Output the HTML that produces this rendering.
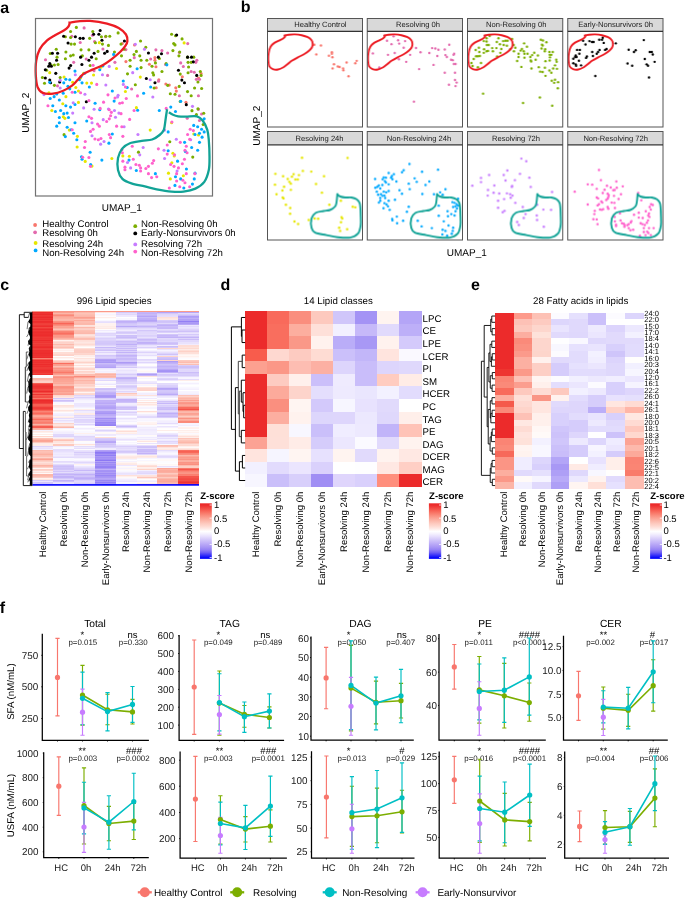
<!DOCTYPE html>
<html><head><meta charset="utf-8"><title>Figure</title>
<style>html,body{margin:0;padding:0;background:#fff;overflow:hidden;width:685px;height:898px;} svg{display:block;will-change:transform;} text{font-family:"Liberation Sans", sans-serif; text-rendering:geometricPrecision;}</style>
</head><body>
<svg width="685" height="898" viewBox="0 0 685 898">
<rect x="0" y="0" width="685" height="898" fill="#fff"/>
<text x="0.20" y="13.40" font-size="16" font-weight="bold">a</text>
<text x="240.80" y="12.40" font-size="16" font-weight="bold">b</text>
<text x="0.20" y="290.20" font-size="16" font-weight="bold">c</text>
<text x="220.60" y="290.20" font-size="16" font-weight="bold">d</text>
<text x="471.00" y="290.20" font-size="16" font-weight="bold">e</text>
<text x="-0.20" y="612.80" font-size="16" font-weight="bold">f</text>
<g id="panel-a">
<circle cx="122.29" cy="43.58" r="1.55" fill="#F8766D"/>
<circle cx="134.55" cy="44.88" r="1.55" fill="#F8766D"/>
<circle cx="125.94" cy="61.59" r="1.55" fill="#F8766D"/>
<circle cx="149.43" cy="64.20" r="1.55" fill="#F8766D"/>
<circle cx="154.91" cy="57.67" r="1.55" fill="#F8766D"/>
<circle cx="154.91" cy="60.28" r="1.55" fill="#F8766D"/>
<circle cx="155.95" cy="66.81" r="1.55" fill="#F8766D"/>
<circle cx="158.82" cy="79.86" r="1.55" fill="#F8766D"/>
<circle cx="156.21" cy="87.69" r="1.55" fill="#F8766D"/>
<circle cx="165.87" cy="84.03" r="1.55" fill="#F8766D"/>
<circle cx="169.26" cy="85.08" r="1.55" fill="#F8766D"/>
<circle cx="175.79" cy="87.69" r="1.55" fill="#F8766D"/>
<circle cx="176.31" cy="91.08" r="1.55" fill="#F8766D"/>
<circle cx="182.31" cy="76.72" r="1.55" fill="#F8766D"/>
<circle cx="185.97" cy="102.30" r="1.55" fill="#F8766D"/>
<circle cx="198.50" cy="78.03" r="1.55" fill="#F8766D"/>
<circle cx="201.11" cy="73.59" r="1.55" fill="#F8766D"/>
<circle cx="84.12" cy="27.92" r="1.55" fill="#E36AAE"/>
<circle cx="71.86" cy="36.27" r="1.55" fill="#E36AAE"/>
<circle cx="92.48" cy="35.23" r="1.55" fill="#E36AAE"/>
<circle cx="105.53" cy="36.79" r="1.55" fill="#E36AAE"/>
<circle cx="80.21" cy="42.53" r="1.55" fill="#E36AAE"/>
<circle cx="94.56" cy="41.49" r="1.55" fill="#E36AAE"/>
<circle cx="102.92" cy="49.06" r="1.55" fill="#E36AAE"/>
<circle cx="45.50" cy="59.76" r="1.55" fill="#E36AAE"/>
<circle cx="73.68" cy="62.37" r="1.55" fill="#E36AAE"/>
<circle cx="86.21" cy="58.98" r="1.55" fill="#E36AAE"/>
<circle cx="94.04" cy="70.72" r="1.55" fill="#E36AAE"/>
<circle cx="57.50" cy="85.86" r="1.55" fill="#E36AAE"/>
<circle cx="107.61" cy="75.42" r="1.55" fill="#E36AAE"/>
<circle cx="114.92" cy="62.37" r="1.55" fill="#E36AAE"/>
<circle cx="125.88" cy="49.58" r="1.55" fill="#E36AAE"/>
<circle cx="134.23" cy="57.67" r="1.55" fill="#E36AAE"/>
<circle cx="131.62" cy="88.99" r="1.55" fill="#E36AAE"/>
<circle cx="150.68" cy="58.98" r="1.55" fill="#E36AAE"/>
<circle cx="155.90" cy="49.84" r="1.55" fill="#E36AAE"/>
<circle cx="161.90" cy="50.62" r="1.55" fill="#E36AAE"/>
<circle cx="167.64" cy="52.97" r="1.55" fill="#E36AAE"/>
<circle cx="165.55" cy="64.46" r="1.55" fill="#E36AAE"/>
<circle cx="158.51" cy="81.16" r="1.55" fill="#E36AAE"/>
<circle cx="179.39" cy="52.45" r="1.55" fill="#E36AAE"/>
<circle cx="180.69" cy="62.89" r="1.55" fill="#E36AAE"/>
<circle cx="183.30" cy="66.55" r="1.55" fill="#E36AAE"/>
<circle cx="187.74" cy="43.58" r="1.55" fill="#E36AAE"/>
<circle cx="196.87" cy="60.28" r="1.55" fill="#E36AAE"/>
<circle cx="195.83" cy="62.37" r="1.55" fill="#E36AAE"/>
<circle cx="191.13" cy="71.50" r="1.55" fill="#E36AAE"/>
<circle cx="194.26" cy="72.29" r="1.55" fill="#E36AAE"/>
<circle cx="196.35" cy="79.33" r="1.55" fill="#E36AAE"/>
<circle cx="199.48" cy="79.33" r="1.55" fill="#E36AAE"/>
<circle cx="179.39" cy="95.78" r="1.55" fill="#E36AAE"/>
<circle cx="198.44" cy="95.78" r="1.55" fill="#E36AAE"/>
<circle cx="198.44" cy="109.35" r="1.55" fill="#E36AAE"/>
<circle cx="201.57" cy="114.05" r="1.55" fill="#E36AAE"/>
<circle cx="187.22" cy="118.22" r="1.55" fill="#E36AAE"/>
<circle cx="199.48" cy="120.57" r="1.55" fill="#E36AAE"/>
<circle cx="121.97" cy="149.54" r="1.55" fill="#E36AAE"/>
<circle cx="76.35" cy="27.40" r="1.55" fill="#7CAE00"/>
<circle cx="70.61" cy="31.57" r="1.55" fill="#7CAE00"/>
<circle cx="92.79" cy="31.57" r="1.55" fill="#7CAE00"/>
<circle cx="65.39" cy="36.79" r="1.55" fill="#7CAE00"/>
<circle cx="70.61" cy="37.57" r="1.55" fill="#7CAE00"/>
<circle cx="89.66" cy="38.36" r="1.55" fill="#7CAE00"/>
<circle cx="101.41" cy="36.79" r="1.55" fill="#7CAE00"/>
<circle cx="105.84" cy="36.27" r="1.55" fill="#7CAE00"/>
<circle cx="109.76" cy="36.27" r="1.55" fill="#7CAE00"/>
<circle cx="71.13" cy="44.10" r="1.55" fill="#7CAE00"/>
<circle cx="74.52" cy="44.10" r="1.55" fill="#7CAE00"/>
<circle cx="95.40" cy="42.79" r="1.55" fill="#7CAE00"/>
<circle cx="102.45" cy="44.10" r="1.55" fill="#7CAE00"/>
<circle cx="108.45" cy="45.40" r="1.55" fill="#7CAE00"/>
<circle cx="56.25" cy="49.32" r="1.55" fill="#7CAE00"/>
<circle cx="50.25" cy="53.50" r="1.55" fill="#7CAE00"/>
<circle cx="65.91" cy="51.93" r="1.55" fill="#7CAE00"/>
<circle cx="70.61" cy="55.84" r="1.55" fill="#7CAE00"/>
<circle cx="73.22" cy="55.06" r="1.55" fill="#7CAE00"/>
<circle cx="81.05" cy="49.84" r="1.55" fill="#7CAE00"/>
<circle cx="88.88" cy="49.84" r="1.55" fill="#7CAE00"/>
<circle cx="98.01" cy="51.41" r="1.55" fill="#7CAE00"/>
<circle cx="82.35" cy="55.84" r="1.55" fill="#7CAE00"/>
<circle cx="57.04" cy="57.15" r="1.55" fill="#7CAE00"/>
<circle cx="65.39" cy="58.72" r="1.55" fill="#7CAE00"/>
<circle cx="96.19" cy="58.72" r="1.55" fill="#7CAE00"/>
<circle cx="51.03" cy="64.98" r="1.55" fill="#7CAE00"/>
<circle cx="54.43" cy="64.98" r="1.55" fill="#7CAE00"/>
<circle cx="58.08" cy="64.46" r="1.55" fill="#7CAE00"/>
<circle cx="46.60" cy="70.20" r="1.55" fill="#7CAE00"/>
<circle cx="90.18" cy="65.50" r="1.55" fill="#7CAE00"/>
<circle cx="42.42" cy="77.51" r="1.55" fill="#7CAE00"/>
<circle cx="60.17" cy="77.51" r="1.55" fill="#7CAE00"/>
<circle cx="44.51" cy="83.25" r="1.55" fill="#7CAE00"/>
<circle cx="54.43" cy="85.34" r="1.55" fill="#7CAE00"/>
<circle cx="118.11" cy="32.88" r="1.55" fill="#7CAE00"/>
<circle cx="120.98" cy="44.10" r="1.55" fill="#7CAE00"/>
<circle cx="124.11" cy="49.32" r="1.55" fill="#7CAE00"/>
<circle cx="114.46" cy="51.93" r="1.55" fill="#7CAE00"/>
<circle cx="121.50" cy="55.84" r="1.55" fill="#7CAE00"/>
<circle cx="140.55" cy="40.97" r="1.55" fill="#7CAE00"/>
<circle cx="145.77" cy="47.23" r="1.55" fill="#7CAE00"/>
<circle cx="136.38" cy="51.41" r="1.55" fill="#7CAE00"/>
<circle cx="134.03" cy="54.54" r="1.55" fill="#7CAE00"/>
<circle cx="139.77" cy="55.84" r="1.55" fill="#7CAE00"/>
<circle cx="130.11" cy="60.28" r="1.55" fill="#7CAE00"/>
<circle cx="141.08" cy="60.28" r="1.55" fill="#7CAE00"/>
<circle cx="146.82" cy="60.28" r="1.55" fill="#7CAE00"/>
<circle cx="130.11" cy="66.28" r="1.55" fill="#7CAE00"/>
<circle cx="141.08" cy="67.59" r="1.55" fill="#7CAE00"/>
<circle cx="127.51" cy="73.85" r="1.55" fill="#7CAE00"/>
<circle cx="135.33" cy="84.81" r="1.55" fill="#7CAE00"/>
<circle cx="159.35" cy="58.45" r="1.55" fill="#7CAE00"/>
<circle cx="155.43" cy="62.89" r="1.55" fill="#7CAE00"/>
<circle cx="152.04" cy="66.28" r="1.55" fill="#7CAE00"/>
<circle cx="152.82" cy="72.81" r="1.55" fill="#7CAE00"/>
<circle cx="153.60" cy="74.90" r="1.55" fill="#7CAE00"/>
<circle cx="161.96" cy="71.50" r="1.55" fill="#7CAE00"/>
<circle cx="166.13" cy="63.67" r="1.55" fill="#7CAE00"/>
<circle cx="154.13" cy="87.95" r="1.55" fill="#7CAE00"/>
<circle cx="171.61" cy="34.18" r="1.55" fill="#7CAE00"/>
<circle cx="175.53" cy="35.75" r="1.55" fill="#7CAE00"/>
<circle cx="182.05" cy="38.88" r="1.55" fill="#7CAE00"/>
<circle cx="173.70" cy="43.58" r="1.55" fill="#7CAE00"/>
<circle cx="175.01" cy="44.88" r="1.55" fill="#7CAE00"/>
<circle cx="172.92" cy="50.62" r="1.55" fill="#7CAE00"/>
<circle cx="179.70" cy="51.93" r="1.55" fill="#7CAE00"/>
<circle cx="178.92" cy="55.84" r="1.55" fill="#7CAE00"/>
<circle cx="187.53" cy="57.15" r="1.55" fill="#7CAE00"/>
<circle cx="193.80" cy="57.15" r="1.55" fill="#7CAE00"/>
<circle cx="188.06" cy="62.37" r="1.55" fill="#7CAE00"/>
<circle cx="191.19" cy="62.37" r="1.55" fill="#7CAE00"/>
<circle cx="188.58" cy="67.07" r="1.55" fill="#7CAE00"/>
<circle cx="180.23" cy="74.11" r="1.55" fill="#7CAE00"/>
<circle cx="188.06" cy="72.81" r="1.55" fill="#7CAE00"/>
<circle cx="200.32" cy="71.50" r="1.55" fill="#7CAE00"/>
<circle cx="201.11" cy="75.42" r="1.55" fill="#7CAE00"/>
<circle cx="197.97" cy="81.94" r="1.55" fill="#7CAE00"/>
<circle cx="167.70" cy="85.34" r="1.55" fill="#7CAE00"/>
<circle cx="179.18" cy="86.38" r="1.55" fill="#7CAE00"/>
<circle cx="194.58" cy="87.95" r="1.55" fill="#7CAE00"/>
<circle cx="201.63" cy="88.47" r="1.55" fill="#7CAE00"/>
<circle cx="170.31" cy="93.69" r="1.55" fill="#7CAE00"/>
<circle cx="175.01" cy="94.21" r="1.55" fill="#7CAE00"/>
<circle cx="187.53" cy="91.60" r="1.55" fill="#7CAE00"/>
<circle cx="191.19" cy="95.78" r="1.55" fill="#7CAE00"/>
<circle cx="180.23" cy="101.52" r="1.55" fill="#7CAE00"/>
<circle cx="191.97" cy="110.65" r="1.55" fill="#7CAE00"/>
<circle cx="197.97" cy="108.83" r="1.55" fill="#7CAE00"/>
<circle cx="196.41" cy="114.57" r="1.55" fill="#7CAE00"/>
<circle cx="203.72" cy="113.26" r="1.55" fill="#7CAE00"/>
<circle cx="203.19" cy="124.49" r="1.55" fill="#7CAE00"/>
<circle cx="64.08" cy="134.66" r="1.55" fill="#7CAE00"/>
<circle cx="169.79" cy="141.71" r="1.55" fill="#7CAE00"/>
<circle cx="138.47" cy="152.15" r="1.55" fill="#7CAE00"/>
<circle cx="192.75" cy="157.11" r="1.55" fill="#7CAE00"/>
<circle cx="100.16" cy="30.53" r="1.55" fill="#000000"/>
<circle cx="93.63" cy="34.18" r="1.55" fill="#000000"/>
<circle cx="98.85" cy="34.18" r="1.55" fill="#000000"/>
<circle cx="101.98" cy="40.18" r="1.55" fill="#000000"/>
<circle cx="63.62" cy="36.27" r="1.55" fill="#000000"/>
<circle cx="75.36" cy="36.79" r="1.55" fill="#000000"/>
<circle cx="80.06" cy="38.36" r="1.55" fill="#000000"/>
<circle cx="83.19" cy="38.36" r="1.55" fill="#000000"/>
<circle cx="68.05" cy="43.06" r="1.55" fill="#000000"/>
<circle cx="52.39" cy="53.23" r="1.55" fill="#000000"/>
<circle cx="57.61" cy="53.23" r="1.55" fill="#000000"/>
<circle cx="56.57" cy="60.28" r="1.55" fill="#000000"/>
<circle cx="80.58" cy="57.15" r="1.55" fill="#000000"/>
<circle cx="94.15" cy="53.23" r="1.55" fill="#000000"/>
<circle cx="91.54" cy="57.15" r="1.55" fill="#000000"/>
<circle cx="88.93" cy="60.28" r="1.55" fill="#000000"/>
<circle cx="107.20" cy="51.41" r="1.55" fill="#000000"/>
<circle cx="104.59" cy="53.23" r="1.55" fill="#000000"/>
<circle cx="81.89" cy="64.46" r="1.55" fill="#000000"/>
<circle cx="70.66" cy="65.50" r="1.55" fill="#000000"/>
<circle cx="69.10" cy="68.11" r="1.55" fill="#000000"/>
<circle cx="49.79" cy="63.67" r="1.55" fill="#000000"/>
<circle cx="48.74" cy="66.28" r="1.55" fill="#000000"/>
<circle cx="51.35" cy="66.28" r="1.55" fill="#000000"/>
<circle cx="45.35" cy="69.68" r="1.55" fill="#000000"/>
<circle cx="55.79" cy="73.33" r="1.55" fill="#000000"/>
<circle cx="45.35" cy="78.03" r="1.55" fill="#000000"/>
<circle cx="49.79" cy="80.12" r="1.55" fill="#000000"/>
<circle cx="50.57" cy="82.73" r="1.55" fill="#000000"/>
<circle cx="59.70" cy="81.94" r="1.55" fill="#000000"/>
<circle cx="124.43" cy="40.97" r="1.55" fill="#000000"/>
<circle cx="148.44" cy="52.97" r="1.55" fill="#000000"/>
<circle cx="161.49" cy="53.76" r="1.55" fill="#000000"/>
<circle cx="158.36" cy="57.15" r="1.55" fill="#000000"/>
<circle cx="176.63" cy="34.96" r="1.55" fill="#000000"/>
<circle cx="187.59" cy="57.15" r="1.55" fill="#000000"/>
<circle cx="191.51" cy="57.15" r="1.55" fill="#000000"/>
<circle cx="193.33" cy="61.85" r="1.55" fill="#000000"/>
<circle cx="178.46" cy="70.20" r="1.55" fill="#000000"/>
<circle cx="196.73" cy="75.42" r="1.55" fill="#000000"/>
<circle cx="146.35" cy="78.55" r="1.55" fill="#000000"/>
<circle cx="154.97" cy="82.73" r="1.55" fill="#000000"/>
<circle cx="181.85" cy="80.12" r="1.55" fill="#000000"/>
<circle cx="184.46" cy="82.73" r="1.55" fill="#000000"/>
<circle cx="86.32" cy="101.78" r="1.55" fill="#000000"/>
<circle cx="186.29" cy="104.65" r="1.55" fill="#000000"/>
<circle cx="99.32" cy="42.65" r="1.55" fill="#E6E600"/>
<circle cx="184.14" cy="42.91" r="1.55" fill="#E6E600"/>
<circle cx="49.73" cy="72.66" r="1.55" fill="#E6E600"/>
<circle cx="64.08" cy="77.10" r="1.55" fill="#E6E600"/>
<circle cx="83.66" cy="73.18" r="1.55" fill="#E6E600"/>
<circle cx="80.53" cy="77.88" r="1.55" fill="#E6E600"/>
<circle cx="93.58" cy="75.01" r="1.55" fill="#E6E600"/>
<circle cx="72.70" cy="82.32" r="1.55" fill="#E6E600"/>
<circle cx="86.79" cy="83.10" r="1.55" fill="#E6E600"/>
<circle cx="91.49" cy="83.10" r="1.55" fill="#E6E600"/>
<circle cx="75.83" cy="87.54" r="1.55" fill="#E6E600"/>
<circle cx="78.44" cy="90.93" r="1.55" fill="#E6E600"/>
<circle cx="100.88" cy="67.18" r="1.55" fill="#E6E600"/>
<circle cx="116.54" cy="68.48" r="1.55" fill="#E6E600"/>
<circle cx="140.29" cy="77.10" r="1.55" fill="#E6E600"/>
<circle cx="48.95" cy="92.76" r="1.55" fill="#E6E600"/>
<circle cx="65.91" cy="96.67" r="1.55" fill="#E6E600"/>
<circle cx="62.78" cy="103.72" r="1.55" fill="#E6E600"/>
<circle cx="78.44" cy="102.41" r="1.55" fill="#E6E600"/>
<circle cx="125.42" cy="91.45" r="1.55" fill="#E6E600"/>
<circle cx="51.82" cy="110.51" r="1.55" fill="#E6E600"/>
<circle cx="63.30" cy="116.77" r="1.55" fill="#E6E600"/>
<circle cx="64.87" cy="118.33" r="1.55" fill="#E6E600"/>
<circle cx="136.38" cy="107.63" r="1.55" fill="#E6E600"/>
<circle cx="69.30" cy="130.08" r="1.55" fill="#E6E600"/>
<circle cx="77.39" cy="136.34" r="1.55" fill="#E6E600"/>
<circle cx="77.13" cy="147.04" r="1.55" fill="#E6E600"/>
<circle cx="150.21" cy="130.08" r="1.55" fill="#E6E600"/>
<circle cx="171.61" cy="122.77" r="1.55" fill="#E6E600"/>
<circle cx="193.80" cy="133.99" r="1.55" fill="#E6E600"/>
<circle cx="198.50" cy="135.04" r="1.55" fill="#E6E600"/>
<circle cx="85.22" cy="161.40" r="1.55" fill="#E6E600"/>
<circle cx="92.01" cy="166.10" r="1.55" fill="#E6E600"/>
<circle cx="111.85" cy="158.53" r="1.55" fill="#E6E600"/>
<circle cx="122.81" cy="155.92" r="1.55" fill="#E6E600"/>
<circle cx="129.33" cy="156.18" r="1.55" fill="#E6E600"/>
<circle cx="172.92" cy="153.31" r="1.55" fill="#E6E600"/>
<circle cx="174.22" cy="155.92" r="1.55" fill="#E6E600"/>
<circle cx="171.87" cy="162.70" r="1.55" fill="#E6E600"/>
<circle cx="168.48" cy="173.14" r="1.55" fill="#E6E600"/>
<circle cx="183.36" cy="175.75" r="1.55" fill="#E6E600"/>
<circle cx="170.31" cy="178.89" r="1.55" fill="#E6E600"/>
<circle cx="113.62" cy="54.39" r="1.55" fill="#00A9FF"/>
<circle cx="166.86" cy="64.83" r="1.55" fill="#00A9FF"/>
<circle cx="137.11" cy="68.75" r="1.55" fill="#00A9FF"/>
<circle cx="102.92" cy="65.87" r="1.55" fill="#00A9FF"/>
<circle cx="99.78" cy="69.79" r="1.55" fill="#00A9FF"/>
<circle cx="74.99" cy="71.09" r="1.55" fill="#00A9FF"/>
<circle cx="84.65" cy="73.18" r="1.55" fill="#00A9FF"/>
<circle cx="80.99" cy="76.58" r="1.55" fill="#00A9FF"/>
<circle cx="79.43" cy="79.71" r="1.55" fill="#00A9FF"/>
<circle cx="82.04" cy="82.84" r="1.55" fill="#00A9FF"/>
<circle cx="65.85" cy="79.19" r="1.55" fill="#00A9FF"/>
<circle cx="69.77" cy="79.71" r="1.55" fill="#00A9FF"/>
<circle cx="63.77" cy="82.84" r="1.55" fill="#00A9FF"/>
<circle cx="67.94" cy="86.23" r="1.55" fill="#00A9FF"/>
<circle cx="69.77" cy="88.84" r="1.55" fill="#00A9FF"/>
<circle cx="49.67" cy="82.32" r="1.55" fill="#00A9FF"/>
<circle cx="89.34" cy="87.02" r="1.55" fill="#00A9FF"/>
<circle cx="123.27" cy="81.01" r="1.55" fill="#00A9FF"/>
<circle cx="127.19" cy="87.54" r="1.55" fill="#00A9FF"/>
<circle cx="150.68" cy="87.02" r="1.55" fill="#00A9FF"/>
<circle cx="112.31" cy="90.93" r="1.55" fill="#00A9FF"/>
<circle cx="143.63" cy="93.28" r="1.55" fill="#00A9FF"/>
<circle cx="74.99" cy="92.24" r="1.55" fill="#00A9FF"/>
<circle cx="63.24" cy="93.28" r="1.55" fill="#00A9FF"/>
<circle cx="56.72" cy="94.06" r="1.55" fill="#00A9FF"/>
<circle cx="54.11" cy="96.67" r="1.55" fill="#00A9FF"/>
<circle cx="50.19" cy="98.50" r="1.55" fill="#00A9FF"/>
<circle cx="59.33" cy="100.07" r="1.55" fill="#00A9FF"/>
<circle cx="114.14" cy="101.11" r="1.55" fill="#00A9FF"/>
<circle cx="95.09" cy="103.20" r="1.55" fill="#00A9FF"/>
<circle cx="52.80" cy="105.81" r="1.55" fill="#00A9FF"/>
<circle cx="65.85" cy="105.81" r="1.55" fill="#00A9FF"/>
<circle cx="70.55" cy="107.11" r="1.55" fill="#00A9FF"/>
<circle cx="74.99" cy="104.50" r="1.55" fill="#00A9FF"/>
<circle cx="99.78" cy="109.72" r="1.55" fill="#00A9FF"/>
<circle cx="137.63" cy="110.24" r="1.55" fill="#00A9FF"/>
<circle cx="159.29" cy="110.51" r="1.55" fill="#00A9FF"/>
<circle cx="170.77" cy="107.11" r="1.55" fill="#00A9FF"/>
<circle cx="175.47" cy="111.55" r="1.55" fill="#00A9FF"/>
<circle cx="180.69" cy="101.37" r="1.55" fill="#00A9FF"/>
<circle cx="55.41" cy="111.55" r="1.55" fill="#00A9FF"/>
<circle cx="60.63" cy="110.51" r="1.55" fill="#00A9FF"/>
<circle cx="63.77" cy="113.64" r="1.55" fill="#00A9FF"/>
<circle cx="67.16" cy="113.11" r="1.55" fill="#00A9FF"/>
<circle cx="59.33" cy="117.55" r="1.55" fill="#00A9FF"/>
<circle cx="68.46" cy="117.55" r="1.55" fill="#00A9FF"/>
<circle cx="86.73" cy="120.94" r="1.55" fill="#00A9FF"/>
<circle cx="74.99" cy="122.77" r="1.55" fill="#00A9FF"/>
<circle cx="59.33" cy="122.77" r="1.55" fill="#00A9FF"/>
<circle cx="56.72" cy="126.16" r="1.55" fill="#00A9FF"/>
<circle cx="67.16" cy="127.21" r="1.55" fill="#00A9FF"/>
<circle cx="71.07" cy="129.82" r="1.55" fill="#00A9FF"/>
<circle cx="73.68" cy="133.21" r="1.55" fill="#00A9FF"/>
<circle cx="65.33" cy="136.60" r="1.55" fill="#00A9FF"/>
<circle cx="76.82" cy="139.74" r="1.55" fill="#00A9FF"/>
<circle cx="112.31" cy="133.99" r="1.55" fill="#00A9FF"/>
<circle cx="108.92" cy="143.13" r="1.55" fill="#00A9FF"/>
<circle cx="81.51" cy="156.70" r="1.55" fill="#00A9FF"/>
<circle cx="82.04" cy="159.31" r="1.55" fill="#00A9FF"/>
<circle cx="90.13" cy="152.26" r="1.55" fill="#00A9FF"/>
<circle cx="101.87" cy="160.09" r="1.55" fill="#00A9FF"/>
<circle cx="90.65" cy="164.53" r="1.55" fill="#00A9FF"/>
<circle cx="168.16" cy="131.91" r="1.55" fill="#00A9FF"/>
<circle cx="193.74" cy="125.38" r="1.55" fill="#00A9FF"/>
<circle cx="197.66" cy="126.69" r="1.55" fill="#00A9FF"/>
<circle cx="201.57" cy="129.30" r="1.55" fill="#00A9FF"/>
<circle cx="199.48" cy="133.21" r="1.55" fill="#00A9FF"/>
<circle cx="204.18" cy="131.91" r="1.55" fill="#00A9FF"/>
<circle cx="202.09" cy="137.13" r="1.55" fill="#00A9FF"/>
<circle cx="195.05" cy="134.52" r="1.55" fill="#00A9FF"/>
<circle cx="184.61" cy="142.35" r="1.55" fill="#00A9FF"/>
<circle cx="199.48" cy="142.35" r="1.55" fill="#00A9FF"/>
<circle cx="191.65" cy="147.57" r="1.55" fill="#00A9FF"/>
<circle cx="197.66" cy="150.18" r="1.55" fill="#00A9FF"/>
<circle cx="185.39" cy="151.48" r="1.55" fill="#00A9FF"/>
<circle cx="168.16" cy="150.70" r="1.55" fill="#00A9FF"/>
<circle cx="177.56" cy="161.14" r="1.55" fill="#00A9FF"/>
<circle cx="129.01" cy="160.09" r="1.55" fill="#00A9FF"/>
<circle cx="136.32" cy="170.53" r="1.55" fill="#00A9FF"/>
<circle cx="155.38" cy="173.67" r="1.55" fill="#00A9FF"/>
<circle cx="186.43" cy="168.97" r="1.55" fill="#00A9FF"/>
<circle cx="195.05" cy="173.14" r="1.55" fill="#00A9FF"/>
<circle cx="175.47" cy="176.80" r="1.55" fill="#00A9FF"/>
<circle cx="180.69" cy="178.89" r="1.55" fill="#00A9FF"/>
<circle cx="194.26" cy="178.89" r="1.55" fill="#00A9FF"/>
<circle cx="174.95" cy="185.41" r="1.55" fill="#00A9FF"/>
<circle cx="192.44" cy="184.11" r="1.55" fill="#00A9FF"/>
<circle cx="183.82" cy="188.02" r="1.55" fill="#00A9FF"/>
<circle cx="204.18" cy="118.86" r="1.55" fill="#00A9FF"/>
<circle cx="135.33" cy="44.21" r="1.55" fill="#C77CFF"/>
<circle cx="144.47" cy="49.17" r="1.55" fill="#C77CFF"/>
<circle cx="109.24" cy="66.40" r="1.55" fill="#C77CFF"/>
<circle cx="102.45" cy="74.75" r="1.55" fill="#C77CFF"/>
<circle cx="132.72" cy="72.66" r="1.55" fill="#C77CFF"/>
<circle cx="75.31" cy="74.75" r="1.55" fill="#C77CFF"/>
<circle cx="60.17" cy="80.23" r="1.55" fill="#C77CFF"/>
<circle cx="60.17" cy="88.06" r="1.55" fill="#C77CFF"/>
<circle cx="43.99" cy="94.58" r="1.55" fill="#C77CFF"/>
<circle cx="105.84" cy="84.93" r="1.55" fill="#C77CFF"/>
<circle cx="123.33" cy="84.41" r="1.55" fill="#C77CFF"/>
<circle cx="150.21" cy="79.71" r="1.55" fill="#C77CFF"/>
<circle cx="84.96" cy="94.32" r="1.55" fill="#C77CFF"/>
<circle cx="118.11" cy="95.37" r="1.55" fill="#C77CFF"/>
<circle cx="117.59" cy="96.93" r="1.55" fill="#C77CFF"/>
<circle cx="152.82" cy="96.93" r="1.55" fill="#C77CFF"/>
<circle cx="73.22" cy="102.68" r="1.55" fill="#C77CFF"/>
<circle cx="72.70" cy="113.11" r="1.55" fill="#C77CFF"/>
<circle cx="83.66" cy="107.90" r="1.55" fill="#C77CFF"/>
<circle cx="94.10" cy="109.20" r="1.55" fill="#C77CFF"/>
<circle cx="108.45" cy="108.94" r="1.55" fill="#C77CFF"/>
<circle cx="114.46" cy="110.51" r="1.55" fill="#C77CFF"/>
<circle cx="118.89" cy="113.11" r="1.55" fill="#C77CFF"/>
<circle cx="115.50" cy="117.29" r="1.55" fill="#C77CFF"/>
<circle cx="103.23" cy="119.64" r="1.55" fill="#C77CFF"/>
<circle cx="92.01" cy="122.77" r="1.55" fill="#C77CFF"/>
<circle cx="124.11" cy="126.69" r="1.55" fill="#C77CFF"/>
<circle cx="137.94" cy="134.52" r="1.55" fill="#C77CFF"/>
<circle cx="92.01" cy="135.82" r="1.55" fill="#C77CFF"/>
<circle cx="100.62" cy="144.17" r="1.55" fill="#C77CFF"/>
<circle cx="104.02" cy="141.56" r="1.55" fill="#C77CFF"/>
<circle cx="164.57" cy="130.08" r="1.55" fill="#C77CFF"/>
<circle cx="176.31" cy="139.21" r="1.55" fill="#C77CFF"/>
<circle cx="190.67" cy="139.74" r="1.55" fill="#C77CFF"/>
<circle cx="192.49" cy="106.33" r="1.55" fill="#C77CFF"/>
<circle cx="143.16" cy="147.57" r="1.55" fill="#C77CFF"/>
<circle cx="139.77" cy="154.87" r="1.55" fill="#C77CFF"/>
<circle cx="164.04" cy="150.18" r="1.55" fill="#C77CFF"/>
<circle cx="164.57" cy="158.53" r="1.55" fill="#C77CFF"/>
<circle cx="127.51" cy="162.44" r="1.55" fill="#C77CFF"/>
<circle cx="130.64" cy="167.92" r="1.55" fill="#C77CFF"/>
<circle cx="177.09" cy="171.06" r="1.55" fill="#C77CFF"/>
<circle cx="93.11" cy="65.35" r="1.55" fill="#FF61CC"/>
<circle cx="96.76" cy="84.41" r="1.55" fill="#FF61CC"/>
<circle cx="125.47" cy="87.02" r="1.55" fill="#FF61CC"/>
<circle cx="72.23" cy="92.24" r="1.55" fill="#FF61CC"/>
<circle cx="80.58" cy="92.76" r="1.55" fill="#FF61CC"/>
<circle cx="88.93" cy="100.59" r="1.55" fill="#FF61CC"/>
<circle cx="107.99" cy="94.85" r="1.55" fill="#FF61CC"/>
<circle cx="103.55" cy="102.15" r="1.55" fill="#FF61CC"/>
<circle cx="115.03" cy="97.98" r="1.55" fill="#FF61CC"/>
<circle cx="119.73" cy="103.20" r="1.55" fill="#FF61CC"/>
<circle cx="122.34" cy="102.68" r="1.55" fill="#FF61CC"/>
<circle cx="126.26" cy="98.50" r="1.55" fill="#FF61CC"/>
<circle cx="137.48" cy="95.89" r="1.55" fill="#FF61CC"/>
<circle cx="47.96" cy="105.81" r="1.55" fill="#FF61CC"/>
<circle cx="100.16" cy="108.42" r="1.55" fill="#FF61CC"/>
<circle cx="109.29" cy="109.72" r="1.55" fill="#FF61CC"/>
<circle cx="111.38" cy="112.33" r="1.55" fill="#FF61CC"/>
<circle cx="134.09" cy="110.51" r="1.55" fill="#FF61CC"/>
<circle cx="121.04" cy="113.64" r="1.55" fill="#FF61CC"/>
<circle cx="110.60" cy="115.72" r="1.55" fill="#FF61CC"/>
<circle cx="109.29" cy="118.86" r="1.55" fill="#FF61CC"/>
<circle cx="106.68" cy="121.47" r="1.55" fill="#FF61CC"/>
<circle cx="88.93" cy="116.77" r="1.55" fill="#FF61CC"/>
<circle cx="91.54" cy="118.33" r="1.55" fill="#FF61CC"/>
<circle cx="129.65" cy="119.38" r="1.55" fill="#FF61CC"/>
<circle cx="97.55" cy="124.08" r="1.55" fill="#FF61CC"/>
<circle cx="99.37" cy="126.16" r="1.55" fill="#FF61CC"/>
<circle cx="93.11" cy="129.30" r="1.55" fill="#FF61CC"/>
<circle cx="90.50" cy="131.38" r="1.55" fill="#FF61CC"/>
<circle cx="116.60" cy="126.16" r="1.55" fill="#FF61CC"/>
<circle cx="121.82" cy="126.69" r="1.55" fill="#FF61CC"/>
<circle cx="72.23" cy="129.82" r="1.55" fill="#FF61CC"/>
<circle cx="109.29" cy="134.52" r="1.55" fill="#FF61CC"/>
<circle cx="122.86" cy="136.34" r="1.55" fill="#FF61CC"/>
<circle cx="110.60" cy="137.65" r="1.55" fill="#FF61CC"/>
<circle cx="94.94" cy="138.95" r="1.55" fill="#FF61CC"/>
<circle cx="98.33" cy="139.74" r="1.55" fill="#FF61CC"/>
<circle cx="100.94" cy="138.43" r="1.55" fill="#FF61CC"/>
<circle cx="85.28" cy="141.56" r="1.55" fill="#FF61CC"/>
<circle cx="84.50" cy="147.57" r="1.55" fill="#FF61CC"/>
<circle cx="82.67" cy="157.22" r="1.55" fill="#FF61CC"/>
<circle cx="88.93" cy="157.48" r="1.55" fill="#FF61CC"/>
<circle cx="90.50" cy="166.36" r="1.55" fill="#FF61CC"/>
<circle cx="166.19" cy="108.42" r="1.55" fill="#FF61CC"/>
<circle cx="171.93" cy="121.99" r="1.55" fill="#FF61CC"/>
<circle cx="190.20" cy="129.30" r="1.55" fill="#FF61CC"/>
<circle cx="193.33" cy="130.60" r="1.55" fill="#FF61CC"/>
<circle cx="187.59" cy="134.52" r="1.55" fill="#FF61CC"/>
<circle cx="189.68" cy="139.21" r="1.55" fill="#FF61CC"/>
<circle cx="180.28" cy="142.35" r="1.55" fill="#FF61CC"/>
<circle cx="167.23" cy="144.96" r="1.55" fill="#FF61CC"/>
<circle cx="132.26" cy="146.26" r="1.55" fill="#FF61CC"/>
<circle cx="158.36" cy="148.87" r="1.55" fill="#FF61CC"/>
<circle cx="186.29" cy="146.26" r="1.55" fill="#FF61CC"/>
<circle cx="184.98" cy="150.18" r="1.55" fill="#FF61CC"/>
<circle cx="187.07" cy="152.79" r="1.55" fill="#FF61CC"/>
<circle cx="167.23" cy="154.09" r="1.55" fill="#FF61CC"/>
<circle cx="174.54" cy="154.87" r="1.55" fill="#FF61CC"/>
<circle cx="122.34" cy="152.79" r="1.55" fill="#FF61CC"/>
<circle cx="184.46" cy="159.31" r="1.55" fill="#FF61CC"/>
<circle cx="133.30" cy="159.31" r="1.55" fill="#FF61CC"/>
<circle cx="153.66" cy="160.62" r="1.55" fill="#FF61CC"/>
<circle cx="122.86" cy="161.14" r="1.55" fill="#FF61CC"/>
<circle cx="135.91" cy="164.53" r="1.55" fill="#FF61CC"/>
<circle cx="139.31" cy="165.31" r="1.55" fill="#FF61CC"/>
<circle cx="140.61" cy="167.92" r="1.55" fill="#FF61CC"/>
<circle cx="145.83" cy="168.45" r="1.55" fill="#FF61CC"/>
<circle cx="148.44" cy="166.36" r="1.55" fill="#FF61CC"/>
<circle cx="152.36" cy="163.23" r="1.55" fill="#FF61CC"/>
<circle cx="170.63" cy="164.53" r="1.55" fill="#FF61CC"/>
<circle cx="174.02" cy="166.36" r="1.55" fill="#FF61CC"/>
<circle cx="178.46" cy="167.92" r="1.55" fill="#FF61CC"/>
<circle cx="182.37" cy="163.75" r="1.55" fill="#FF61CC"/>
<circle cx="124.95" cy="167.14" r="1.55" fill="#FF61CC"/>
<circle cx="124.95" cy="169.75" r="1.55" fill="#FF61CC"/>
<circle cx="140.61" cy="171.06" r="1.55" fill="#FF61CC"/>
<circle cx="148.44" cy="173.67" r="1.55" fill="#FF61CC"/>
<circle cx="151.57" cy="177.58" r="1.55" fill="#FF61CC"/>
<circle cx="156.79" cy="176.80" r="1.55" fill="#FF61CC"/>
<circle cx="176.63" cy="173.67" r="1.55" fill="#FF61CC"/>
<circle cx="186.29" cy="173.67" r="1.55" fill="#FF61CC"/>
<circle cx="194.90" cy="173.67" r="1.55" fill="#FF61CC"/>
<circle cx="176.63" cy="180.97" r="1.55" fill="#FF61CC"/>
<circle cx="182.89" cy="180.19" r="1.55" fill="#FF61CC"/>
<circle cx="184.98" cy="182.80" r="1.55" fill="#FF61CC"/>
<circle cx="179.76" cy="186.72" r="1.55" fill="#FF61CC"/>
<circle cx="189.68" cy="186.72" r="1.55" fill="#FF61CC"/>
<circle cx="169.32" cy="188.02" r="1.55" fill="#FF61CC"/>
<path d="M68.40,22.50 C68.75,22.52 68.90,22.78 70.50,22.60 C72.10,22.42 74.75,21.68 78.00,21.40 C81.25,21.12 85.17,20.53 90.00,20.90 C94.83,21.27 102.22,22.42 107.00,23.60 C111.78,24.78 115.53,26.18 118.70,28.00 C121.87,29.82 124.55,32.32 126.00,34.50 C127.45,36.68 127.53,39.15 127.40,41.10 C127.27,43.05 126.42,44.38 125.20,46.20 C123.98,48.02 122.40,49.82 120.10,52.00 C117.80,54.18 114.32,57.10 111.40,59.30 C108.48,61.50 105.77,63.48 102.60,65.20 C99.43,66.92 95.57,68.15 92.40,69.60 C89.23,71.05 86.03,72.20 83.60,73.90 C81.17,75.60 79.73,77.85 77.80,79.80 C75.87,81.75 74.43,83.78 72.00,85.60 C69.57,87.42 66.37,89.37 63.20,90.70 C60.03,92.03 56.40,93.23 53.00,93.60 C49.60,93.97 45.37,93.98 42.80,92.90 C40.23,91.82 38.77,90.02 37.60,87.10 C36.43,84.18 36.03,79.78 35.80,75.40 C35.57,71.02 35.53,65.18 36.20,60.80 C36.87,56.42 37.98,52.50 39.80,49.10 C41.62,45.70 44.57,42.72 47.10,40.40 C49.63,38.08 52.15,36.88 55.00,35.20 C57.85,33.52 61.98,31.70 64.20,30.30 C66.42,28.90 67.38,27.92 68.30,26.80 C69.22,25.68 69.47,24.13 69.70,23.60" fill="none" stroke="#EC1C24" stroke-width="2.3" stroke-linejoin="round"/>
<path d="M167.10,109.20 C166.95,110.17 166.50,112.95 166.20,115.00 C165.90,117.05 165.70,119.00 165.30,121.50 C164.90,124.00 164.75,127.75 163.80,130.00 C162.85,132.25 161.53,133.42 159.60,135.00 C157.67,136.58 155.17,138.52 152.20,139.50 C149.23,140.48 145.52,140.28 141.80,140.90 C138.08,141.52 133.13,141.95 129.90,143.20 C126.67,144.45 124.38,145.92 122.40,148.40 C120.42,150.88 118.73,154.50 118.00,158.10 C117.27,161.70 117.27,166.53 118.00,170.00 C118.73,173.47 120.17,176.67 122.40,178.90 C124.63,181.13 127.67,182.15 131.40,183.40 C135.13,184.65 140.58,185.42 144.80,186.40 C149.02,187.38 152.23,188.43 156.70,189.30 C161.17,190.17 167.13,191.22 171.60,191.60 C176.07,191.98 179.53,192.10 183.50,191.60 C187.47,191.10 191.93,190.22 195.40,188.60 C198.87,186.98 202.07,185.00 204.30,181.90 C206.53,178.80 207.93,174.22 208.80,170.00 C209.67,165.78 209.50,161.57 209.50,156.60 C209.50,151.63 209.17,144.67 208.80,140.20 C208.43,135.73 208.30,133.03 207.30,129.80 C206.30,126.57 204.53,123.03 202.80,120.80 C201.07,118.57 199.70,117.10 196.90,116.40 C194.10,115.70 189.13,116.62 186.00,116.60 C182.87,116.58 180.27,116.60 178.10,116.30 C175.93,116.00 174.53,115.47 173.00,114.80 C171.47,114.13 169.58,112.72 168.90,112.30" fill="none" stroke="#12A396" stroke-width="2.3"/>
<rect x="35.50" y="18.50" width="177.00" height="177.50" fill="none" stroke="#727272" stroke-width="1.2"/>
<text x="121.70" y="211.30" font-size="10" text-anchor="middle">UMAP_1</text>
<text x="29.00" y="112.80" font-size="10" text-anchor="middle" transform="rotate(-90 29.00 112.80)">UMAP_2</text>
<circle cx="35.10" cy="225.00" r="1.9" fill="#F8766D"/>
<text x="42.20" y="226.60" font-size="9.65">Healthy Control</text>
<circle cx="35.10" cy="232.30" r="1.9" fill="#E36AAE"/>
<text x="42.20" y="236.00" font-size="9.65">Resolving 0h</text>
<circle cx="35.60" cy="243.00" r="1.9" fill="#E6E600"/>
<text x="42.20" y="247.00" font-size="9.65">Resolving 24h</text>
<circle cx="35.60" cy="250.40" r="1.9" fill="#00A9FF"/>
<text x="42.20" y="256.20" font-size="9.65">Non-Resolving 24h</text>
<circle cx="135.25" cy="226.20" r="1.9" fill="#7CAE00"/>
<text x="141.00" y="226.60" font-size="9.65">Non-Resolving 0h</text>
<circle cx="135.25" cy="233.40" r="1.9" fill="#000000"/>
<text x="141.00" y="236.10" font-size="9.65">Early-Nonsurvivors 0h</text>
<circle cx="135.25" cy="244.40" r="1.9" fill="#C77CFF"/>
<text x="141.00" y="247.00" font-size="9.65">Resolving 72h</text>
<circle cx="135.25" cy="251.60" r="1.9" fill="#FF61CC"/>
<text x="141.00" y="256.20" font-size="9.65">Non-Resolving 72h</text>
</g>
<g id="panel-b">
<rect x="267.50" y="18.50" width="95.00" height="12.50" fill="#D9D9D9"/>
<svg x="267.5" y="31.0" width="95.0" height="96.0" overflow="hidden">
<circle cx="46.87" cy="13.74" r="1.2" fill="#F8766D"/>
<circle cx="53.46" cy="14.44" r="1.2" fill="#F8766D"/>
<circle cx="48.83" cy="23.41" r="1.2" fill="#F8766D"/>
<circle cx="61.45" cy="24.81" r="1.2" fill="#F8766D"/>
<circle cx="64.39" cy="21.30" r="1.2" fill="#F8766D"/>
<circle cx="64.39" cy="22.70" r="1.2" fill="#F8766D"/>
<circle cx="64.95" cy="26.21" r="1.2" fill="#F8766D"/>
<circle cx="66.49" cy="33.22" r="1.2" fill="#F8766D"/>
<circle cx="65.09" cy="37.42" r="1.2" fill="#F8766D"/>
<circle cx="70.28" cy="35.46" r="1.2" fill="#F8766D"/>
<circle cx="72.10" cy="36.02" r="1.2" fill="#F8766D"/>
<circle cx="75.60" cy="37.42" r="1.2" fill="#F8766D"/>
<circle cx="75.88" cy="39.24" r="1.2" fill="#F8766D"/>
<circle cx="79.11" cy="31.53" r="1.2" fill="#F8766D"/>
<circle cx="81.07" cy="45.27" r="1.2" fill="#F8766D"/>
<circle cx="87.80" cy="32.24" r="1.2" fill="#F8766D"/>
<circle cx="89.20" cy="29.85" r="1.2" fill="#F8766D"/>
<path d="M17.10,4.50 C17.67,4.27 19.58,3.88 21.30,3.70 C23.02,3.52 25.25,3.32 27.40,3.40 C29.55,3.48 32.05,3.73 34.20,4.20 C36.35,4.67 38.65,5.35 40.30,6.20 C41.95,7.05 43.28,8.17 44.10,9.30 C44.92,10.43 45.15,11.80 45.20,13.00 C45.25,14.20 44.97,15.42 44.40,16.50 C43.83,17.58 43.12,18.37 41.80,19.50 C40.48,20.63 38.40,22.17 36.50,23.30 C34.60,24.43 32.43,25.22 30.40,26.30 C28.37,27.38 25.95,28.72 24.30,29.80 C22.65,30.88 21.88,31.73 20.50,32.80 C19.12,33.87 17.65,35.25 16.00,36.20 C14.35,37.15 12.38,38.18 10.60,38.50 C8.82,38.82 6.75,38.62 5.30,38.10 C3.85,37.58 2.65,36.85 1.90,35.40 C1.15,33.95 0.92,31.67 0.80,29.40 C0.68,27.13 0.82,24.08 1.20,21.80 C1.58,19.52 2.15,17.35 3.10,15.70 C4.05,14.05 5.38,12.97 6.90,11.90 C8.42,10.83 10.68,10.08 12.20,9.30 C13.72,8.52 15.05,7.90 16.00,7.20 C16.95,6.50 17.72,5.55 17.90,5.10 C18.08,4.65 16.53,4.73 17.10,4.50Z" fill="none" stroke="#EC1C24" stroke-width="1.9" stroke-linejoin="round"/>
</svg>
<rect x="267.50" y="18.50" width="95.00" height="108.50" fill="none" stroke="#555555" stroke-width="1"/>
<line x1="267.50" y1="31.40" x2="362.50" y2="31.40" stroke="#333333" stroke-width="1.1"/>
<text x="320.40" y="27.30" font-size="7.6" text-anchor="middle" fill="#1a1a1a">Healthy Control</text>
<rect x="367.25" y="18.50" width="95.25" height="12.50" fill="#D9D9D9"/>
<svg x="367.25" y="31.0" width="95.25" height="96.0" overflow="hidden">
<circle cx="26.38" cy="5.33" r="1.2" fill="#E36AAE"/>
<circle cx="19.79" cy="9.81" r="1.2" fill="#E36AAE"/>
<circle cx="30.86" cy="9.25" r="1.2" fill="#E36AAE"/>
<circle cx="37.87" cy="10.09" r="1.2" fill="#E36AAE"/>
<circle cx="24.28" cy="13.17" r="1.2" fill="#E36AAE"/>
<circle cx="31.99" cy="12.61" r="1.2" fill="#E36AAE"/>
<circle cx="36.47" cy="16.68" r="1.2" fill="#E36AAE"/>
<circle cx="5.64" cy="22.42" r="1.2" fill="#E36AAE"/>
<circle cx="20.77" cy="23.83" r="1.2" fill="#E36AAE"/>
<circle cx="27.50" cy="22.00" r="1.2" fill="#E36AAE"/>
<circle cx="31.71" cy="28.31" r="1.2" fill="#E36AAE"/>
<circle cx="12.08" cy="36.44" r="1.2" fill="#E36AAE"/>
<circle cx="38.99" cy="30.83" r="1.2" fill="#E36AAE"/>
<circle cx="42.92" cy="23.83" r="1.2" fill="#E36AAE"/>
<circle cx="48.80" cy="16.96" r="1.2" fill="#E36AAE"/>
<circle cx="53.29" cy="21.30" r="1.2" fill="#E36AAE"/>
<circle cx="51.89" cy="38.12" r="1.2" fill="#E36AAE"/>
<circle cx="62.12" cy="22.00" r="1.2" fill="#E36AAE"/>
<circle cx="64.92" cy="17.10" r="1.2" fill="#E36AAE"/>
<circle cx="68.15" cy="17.52" r="1.2" fill="#E36AAE"/>
<circle cx="71.23" cy="18.78" r="1.2" fill="#E36AAE"/>
<circle cx="70.11" cy="24.95" r="1.2" fill="#E36AAE"/>
<circle cx="66.32" cy="33.92" r="1.2" fill="#E36AAE"/>
<circle cx="77.54" cy="18.50" r="1.2" fill="#E36AAE"/>
<circle cx="78.24" cy="24.11" r="1.2" fill="#E36AAE"/>
<circle cx="79.64" cy="26.07" r="1.2" fill="#E36AAE"/>
<circle cx="82.02" cy="13.74" r="1.2" fill="#E36AAE"/>
<circle cx="86.93" cy="22.70" r="1.2" fill="#E36AAE"/>
<circle cx="86.37" cy="23.83" r="1.2" fill="#E36AAE"/>
<circle cx="83.84" cy="28.73" r="1.2" fill="#E36AAE"/>
<circle cx="85.52" cy="29.15" r="1.2" fill="#E36AAE"/>
<circle cx="86.65" cy="32.94" r="1.2" fill="#E36AAE"/>
<circle cx="88.33" cy="32.94" r="1.2" fill="#E36AAE"/>
<circle cx="77.54" cy="41.77" r="1.2" fill="#E36AAE"/>
<circle cx="87.77" cy="41.77" r="1.2" fill="#E36AAE"/>
<circle cx="87.77" cy="49.05" r="1.2" fill="#E36AAE"/>
<circle cx="89.45" cy="51.58" r="1.2" fill="#E36AAE"/>
<circle cx="81.74" cy="53.82" r="1.2" fill="#E36AAE"/>
<circle cx="88.33" cy="55.08" r="1.2" fill="#E36AAE"/>
<circle cx="46.70" cy="70.64" r="1.2" fill="#E36AAE"/>
<path d="M17.10,4.50 C17.67,4.27 19.58,3.88 21.30,3.70 C23.02,3.52 25.25,3.32 27.40,3.40 C29.55,3.48 32.05,3.73 34.20,4.20 C36.35,4.67 38.65,5.35 40.30,6.20 C41.95,7.05 43.28,8.17 44.10,9.30 C44.92,10.43 45.15,11.80 45.20,13.00 C45.25,14.20 44.97,15.42 44.40,16.50 C43.83,17.58 43.12,18.37 41.80,19.50 C40.48,20.63 38.40,22.17 36.50,23.30 C34.60,24.43 32.43,25.22 30.40,26.30 C28.37,27.38 25.95,28.72 24.30,29.80 C22.65,30.88 21.88,31.73 20.50,32.80 C19.12,33.87 17.65,35.25 16.00,36.20 C14.35,37.15 12.38,38.18 10.60,38.50 C8.82,38.82 6.75,38.62 5.30,38.10 C3.85,37.58 2.65,36.85 1.90,35.40 C1.15,33.95 0.92,31.67 0.80,29.40 C0.68,27.13 0.82,24.08 1.20,21.80 C1.58,19.52 2.15,17.35 3.10,15.70 C4.05,14.05 5.38,12.97 6.90,11.90 C8.42,10.83 10.68,10.08 12.20,9.30 C13.72,8.52 15.05,7.90 16.00,7.20 C16.95,6.50 17.72,5.55 17.90,5.10 C18.08,4.65 16.53,4.73 17.10,4.50Z" fill="none" stroke="#EC1C24" stroke-width="1.9" stroke-linejoin="round"/>
</svg>
<rect x="367.25" y="18.50" width="95.25" height="108.50" fill="none" stroke="#555555" stroke-width="1"/>
<line x1="367.25" y1="31.40" x2="462.50" y2="31.40" stroke="#333333" stroke-width="1.1"/>
<text x="418.00" y="27.30" font-size="7.6" text-anchor="middle" fill="#1a1a1a">Resolving 0h</text>
<rect x="467.50" y="18.50" width="95.25" height="12.50" fill="#D9D9D9"/>
<svg x="467.5" y="31.0" width="95.25" height="96.0" overflow="hidden">
<circle cx="22.20" cy="5.05" r="1.2" fill="#7CAE00"/>
<circle cx="19.12" cy="7.29" r="1.2" fill="#7CAE00"/>
<circle cx="31.03" cy="7.29" r="1.2" fill="#7CAE00"/>
<circle cx="16.32" cy="10.09" r="1.2" fill="#7CAE00"/>
<circle cx="19.12" cy="10.51" r="1.2" fill="#7CAE00"/>
<circle cx="29.35" cy="10.93" r="1.2" fill="#7CAE00"/>
<circle cx="35.66" cy="10.09" r="1.2" fill="#7CAE00"/>
<circle cx="38.04" cy="9.81" r="1.2" fill="#7CAE00"/>
<circle cx="40.14" cy="9.81" r="1.2" fill="#7CAE00"/>
<circle cx="19.40" cy="14.02" r="1.2" fill="#7CAE00"/>
<circle cx="21.22" cy="14.02" r="1.2" fill="#7CAE00"/>
<circle cx="32.44" cy="13.31" r="1.2" fill="#7CAE00"/>
<circle cx="36.22" cy="14.02" r="1.2" fill="#7CAE00"/>
<circle cx="39.44" cy="14.72" r="1.2" fill="#7CAE00"/>
<circle cx="11.41" cy="16.82" r="1.2" fill="#7CAE00"/>
<circle cx="8.19" cy="19.06" r="1.2" fill="#7CAE00"/>
<circle cx="16.60" cy="18.22" r="1.2" fill="#7CAE00"/>
<circle cx="19.12" cy="20.32" r="1.2" fill="#7CAE00"/>
<circle cx="20.52" cy="19.90" r="1.2" fill="#7CAE00"/>
<circle cx="24.73" cy="17.10" r="1.2" fill="#7CAE00"/>
<circle cx="28.93" cy="17.10" r="1.2" fill="#7CAE00"/>
<circle cx="33.84" cy="17.94" r="1.2" fill="#7CAE00"/>
<circle cx="25.43" cy="20.32" r="1.2" fill="#7CAE00"/>
<circle cx="11.83" cy="21.02" r="1.2" fill="#7CAE00"/>
<circle cx="16.32" cy="21.86" r="1.2" fill="#7CAE00"/>
<circle cx="32.86" cy="21.86" r="1.2" fill="#7CAE00"/>
<circle cx="8.61" cy="25.23" r="1.2" fill="#7CAE00"/>
<circle cx="10.43" cy="25.23" r="1.2" fill="#7CAE00"/>
<circle cx="12.39" cy="24.95" r="1.2" fill="#7CAE00"/>
<circle cx="6.23" cy="28.03" r="1.2" fill="#7CAE00"/>
<circle cx="29.63" cy="25.51" r="1.2" fill="#7CAE00"/>
<circle cx="3.98" cy="31.96" r="1.2" fill="#7CAE00"/>
<circle cx="13.52" cy="31.96" r="1.2" fill="#7CAE00"/>
<circle cx="5.11" cy="35.04" r="1.2" fill="#7CAE00"/>
<circle cx="10.43" cy="36.16" r="1.2" fill="#7CAE00"/>
<circle cx="44.63" cy="7.99" r="1.2" fill="#7CAE00"/>
<circle cx="46.17" cy="14.02" r="1.2" fill="#7CAE00"/>
<circle cx="47.85" cy="16.82" r="1.2" fill="#7CAE00"/>
<circle cx="42.67" cy="18.22" r="1.2" fill="#7CAE00"/>
<circle cx="46.45" cy="20.32" r="1.2" fill="#7CAE00"/>
<circle cx="56.68" cy="12.33" r="1.2" fill="#7CAE00"/>
<circle cx="59.49" cy="15.70" r="1.2" fill="#7CAE00"/>
<circle cx="54.44" cy="17.94" r="1.2" fill="#7CAE00"/>
<circle cx="53.18" cy="19.62" r="1.2" fill="#7CAE00"/>
<circle cx="56.26" cy="20.32" r="1.2" fill="#7CAE00"/>
<circle cx="51.08" cy="22.70" r="1.2" fill="#7CAE00"/>
<circle cx="56.96" cy="22.70" r="1.2" fill="#7CAE00"/>
<circle cx="60.05" cy="22.70" r="1.2" fill="#7CAE00"/>
<circle cx="51.08" cy="25.93" r="1.2" fill="#7CAE00"/>
<circle cx="56.96" cy="26.63" r="1.2" fill="#7CAE00"/>
<circle cx="49.68" cy="29.99" r="1.2" fill="#7CAE00"/>
<circle cx="53.88" cy="35.88" r="1.2" fill="#7CAE00"/>
<circle cx="66.77" cy="21.72" r="1.2" fill="#7CAE00"/>
<circle cx="64.67" cy="24.11" r="1.2" fill="#7CAE00"/>
<circle cx="62.85" cy="25.93" r="1.2" fill="#7CAE00"/>
<circle cx="63.27" cy="29.43" r="1.2" fill="#7CAE00"/>
<circle cx="63.69" cy="30.55" r="1.2" fill="#7CAE00"/>
<circle cx="68.18" cy="28.73" r="1.2" fill="#7CAE00"/>
<circle cx="70.42" cy="24.53" r="1.2" fill="#7CAE00"/>
<circle cx="63.97" cy="37.56" r="1.2" fill="#7CAE00"/>
<circle cx="73.36" cy="8.69" r="1.2" fill="#7CAE00"/>
<circle cx="75.46" cy="9.53" r="1.2" fill="#7CAE00"/>
<circle cx="78.97" cy="11.21" r="1.2" fill="#7CAE00"/>
<circle cx="74.48" cy="13.74" r="1.2" fill="#7CAE00"/>
<circle cx="75.18" cy="14.44" r="1.2" fill="#7CAE00"/>
<circle cx="74.06" cy="17.52" r="1.2" fill="#7CAE00"/>
<circle cx="77.71" cy="18.22" r="1.2" fill="#7CAE00"/>
<circle cx="77.29" cy="20.32" r="1.2" fill="#7CAE00"/>
<circle cx="81.91" cy="21.02" r="1.2" fill="#7CAE00"/>
<circle cx="85.27" cy="21.02" r="1.2" fill="#7CAE00"/>
<circle cx="82.19" cy="23.83" r="1.2" fill="#7CAE00"/>
<circle cx="83.87" cy="23.83" r="1.2" fill="#7CAE00"/>
<circle cx="82.47" cy="26.35" r="1.2" fill="#7CAE00"/>
<circle cx="77.99" cy="30.13" r="1.2" fill="#7CAE00"/>
<circle cx="82.19" cy="29.43" r="1.2" fill="#7CAE00"/>
<circle cx="88.78" cy="28.73" r="1.2" fill="#7CAE00"/>
<circle cx="89.20" cy="30.83" r="1.2" fill="#7CAE00"/>
<circle cx="87.52" cy="34.34" r="1.2" fill="#7CAE00"/>
<circle cx="71.26" cy="36.16" r="1.2" fill="#7CAE00"/>
<circle cx="77.43" cy="36.72" r="1.2" fill="#7CAE00"/>
<circle cx="85.69" cy="37.56" r="1.2" fill="#7CAE00"/>
<circle cx="89.48" cy="37.84" r="1.2" fill="#7CAE00"/>
<circle cx="72.66" cy="40.64" r="1.2" fill="#7CAE00"/>
<circle cx="75.18" cy="40.93" r="1.2" fill="#7CAE00"/>
<circle cx="81.91" cy="39.52" r="1.2" fill="#7CAE00"/>
<circle cx="83.87" cy="41.77" r="1.2" fill="#7CAE00"/>
<circle cx="77.99" cy="44.85" r="1.2" fill="#7CAE00"/>
<circle cx="84.29" cy="49.75" r="1.2" fill="#7CAE00"/>
<circle cx="87.52" cy="48.77" r="1.2" fill="#7CAE00"/>
<circle cx="86.68" cy="51.86" r="1.2" fill="#7CAE00"/>
<circle cx="90.60" cy="51.16" r="1.2" fill="#7CAE00"/>
<circle cx="90.32" cy="57.18" r="1.2" fill="#7CAE00"/>
<circle cx="15.62" cy="62.65" r="1.2" fill="#7CAE00"/>
<circle cx="72.38" cy="66.43" r="1.2" fill="#7CAE00"/>
<circle cx="55.56" cy="72.04" r="1.2" fill="#7CAE00"/>
<circle cx="84.71" cy="74.70" r="1.2" fill="#7CAE00"/>
<path d="M17.10,4.50 C17.67,4.27 19.58,3.88 21.30,3.70 C23.02,3.52 25.25,3.32 27.40,3.40 C29.55,3.48 32.05,3.73 34.20,4.20 C36.35,4.67 38.65,5.35 40.30,6.20 C41.95,7.05 43.28,8.17 44.10,9.30 C44.92,10.43 45.15,11.80 45.20,13.00 C45.25,14.20 44.97,15.42 44.40,16.50 C43.83,17.58 43.12,18.37 41.80,19.50 C40.48,20.63 38.40,22.17 36.50,23.30 C34.60,24.43 32.43,25.22 30.40,26.30 C28.37,27.38 25.95,28.72 24.30,29.80 C22.65,30.88 21.88,31.73 20.50,32.80 C19.12,33.87 17.65,35.25 16.00,36.20 C14.35,37.15 12.38,38.18 10.60,38.50 C8.82,38.82 6.75,38.62 5.30,38.10 C3.85,37.58 2.65,36.85 1.90,35.40 C1.15,33.95 0.92,31.67 0.80,29.40 C0.68,27.13 0.82,24.08 1.20,21.80 C1.58,19.52 2.15,17.35 3.10,15.70 C4.05,14.05 5.38,12.97 6.90,11.90 C8.42,10.83 10.68,10.08 12.20,9.30 C13.72,8.52 15.05,7.90 16.00,7.20 C16.95,6.50 17.72,5.55 17.90,5.10 C18.08,4.65 16.53,4.73 17.10,4.50Z" fill="none" stroke="#EC1C24" stroke-width="1.9" stroke-linejoin="round"/>
</svg>
<rect x="467.50" y="18.50" width="95.25" height="108.50" fill="none" stroke="#555555" stroke-width="1"/>
<line x1="467.50" y1="31.40" x2="562.75" y2="31.40" stroke="#333333" stroke-width="1.1"/>
<text x="516.20" y="27.30" font-size="7.6" text-anchor="middle" fill="#1a1a1a">Non-Resolving 0h</text>
<rect x="567.75" y="18.50" width="95.25" height="12.50" fill="#D9D9D9"/>
<svg x="567.75" y="31.0" width="95.25" height="96.0" overflow="hidden">
<circle cx="34.99" cy="6.73" r="1.2" fill="#000000"/>
<circle cx="31.49" cy="8.69" r="1.2" fill="#000000"/>
<circle cx="34.29" cy="8.69" r="1.2" fill="#000000"/>
<circle cx="35.97" cy="11.91" r="1.2" fill="#000000"/>
<circle cx="15.37" cy="9.81" r="1.2" fill="#000000"/>
<circle cx="21.67" cy="10.09" r="1.2" fill="#000000"/>
<circle cx="24.20" cy="10.93" r="1.2" fill="#000000"/>
<circle cx="25.88" cy="10.93" r="1.2" fill="#000000"/>
<circle cx="17.75" cy="13.45" r="1.2" fill="#000000"/>
<circle cx="9.34" cy="18.92" r="1.2" fill="#000000"/>
<circle cx="12.14" cy="18.92" r="1.2" fill="#000000"/>
<circle cx="11.58" cy="22.70" r="1.2" fill="#000000"/>
<circle cx="24.48" cy="21.02" r="1.2" fill="#000000"/>
<circle cx="31.77" cy="18.92" r="1.2" fill="#000000"/>
<circle cx="30.36" cy="21.02" r="1.2" fill="#000000"/>
<circle cx="28.96" cy="22.70" r="1.2" fill="#000000"/>
<circle cx="38.77" cy="17.94" r="1.2" fill="#000000"/>
<circle cx="37.37" cy="18.92" r="1.2" fill="#000000"/>
<circle cx="25.18" cy="24.95" r="1.2" fill="#000000"/>
<circle cx="19.15" cy="25.51" r="1.2" fill="#000000"/>
<circle cx="18.31" cy="26.91" r="1.2" fill="#000000"/>
<circle cx="7.94" cy="24.53" r="1.2" fill="#000000"/>
<circle cx="7.38" cy="25.93" r="1.2" fill="#000000"/>
<circle cx="8.78" cy="25.93" r="1.2" fill="#000000"/>
<circle cx="5.56" cy="27.75" r="1.2" fill="#000000"/>
<circle cx="11.16" cy="29.71" r="1.2" fill="#000000"/>
<circle cx="5.56" cy="32.24" r="1.2" fill="#000000"/>
<circle cx="7.94" cy="33.36" r="1.2" fill="#000000"/>
<circle cx="8.36" cy="34.76" r="1.2" fill="#000000"/>
<circle cx="13.27" cy="34.34" r="1.2" fill="#000000"/>
<circle cx="48.02" cy="12.33" r="1.2" fill="#000000"/>
<circle cx="60.92" cy="18.78" r="1.2" fill="#000000"/>
<circle cx="67.93" cy="19.20" r="1.2" fill="#000000"/>
<circle cx="66.24" cy="21.02" r="1.2" fill="#000000"/>
<circle cx="76.05" cy="9.11" r="1.2" fill="#000000"/>
<circle cx="81.94" cy="21.02" r="1.2" fill="#000000"/>
<circle cx="84.04" cy="21.02" r="1.2" fill="#000000"/>
<circle cx="85.02" cy="23.55" r="1.2" fill="#000000"/>
<circle cx="77.04" cy="28.03" r="1.2" fill="#000000"/>
<circle cx="86.85" cy="30.83" r="1.2" fill="#000000"/>
<circle cx="59.80" cy="32.52" r="1.2" fill="#000000"/>
<circle cx="64.42" cy="34.76" r="1.2" fill="#000000"/>
<circle cx="78.86" cy="33.36" r="1.2" fill="#000000"/>
<circle cx="80.26" cy="34.76" r="1.2" fill="#000000"/>
<circle cx="27.56" cy="44.99" r="1.2" fill="#000000"/>
<circle cx="81.24" cy="46.53" r="1.2" fill="#000000"/>
<path d="M17.10,4.50 C17.67,4.27 19.58,3.88 21.30,3.70 C23.02,3.52 25.25,3.32 27.40,3.40 C29.55,3.48 32.05,3.73 34.20,4.20 C36.35,4.67 38.65,5.35 40.30,6.20 C41.95,7.05 43.28,8.17 44.10,9.30 C44.92,10.43 45.15,11.80 45.20,13.00 C45.25,14.20 44.97,15.42 44.40,16.50 C43.83,17.58 43.12,18.37 41.80,19.50 C40.48,20.63 38.40,22.17 36.50,23.30 C34.60,24.43 32.43,25.22 30.40,26.30 C28.37,27.38 25.95,28.72 24.30,29.80 C22.65,30.88 21.88,31.73 20.50,32.80 C19.12,33.87 17.65,35.25 16.00,36.20 C14.35,37.15 12.38,38.18 10.60,38.50 C8.82,38.82 6.75,38.62 5.30,38.10 C3.85,37.58 2.65,36.85 1.90,35.40 C1.15,33.95 0.92,31.67 0.80,29.40 C0.68,27.13 0.82,24.08 1.20,21.80 C1.58,19.52 2.15,17.35 3.10,15.70 C4.05,14.05 5.38,12.97 6.90,11.90 C8.42,10.83 10.68,10.08 12.20,9.30 C13.72,8.52 15.05,7.90 16.00,7.20 C16.95,6.50 17.72,5.55 17.90,5.10 C18.08,4.65 16.53,4.73 17.10,4.50Z" fill="none" stroke="#EC1C24" stroke-width="1.9" stroke-linejoin="round"/>
</svg>
<rect x="567.75" y="18.50" width="95.25" height="108.50" fill="none" stroke="#555555" stroke-width="1"/>
<line x1="567.75" y1="31.40" x2="663.00" y2="31.40" stroke="#333333" stroke-width="1.1"/>
<text x="615.60" y="27.30" font-size="7.6" text-anchor="middle" fill="#1a1a1a">Early-Nonsurvivors 0h</text>
<rect x="267.50" y="131.50" width="95.00" height="13.00" fill="#D9D9D9"/>
<svg x="267.5" y="144.5" width="95.0" height="95.5" overflow="hidden">
<circle cx="34.54" cy="13.24" r="1.2" fill="#E6E600"/>
<circle cx="80.09" cy="13.38" r="1.2" fill="#E6E600"/>
<circle cx="7.91" cy="29.35" r="1.2" fill="#E6E600"/>
<circle cx="15.62" cy="31.74" r="1.2" fill="#E6E600"/>
<circle cx="26.13" cy="29.63" r="1.2" fill="#E6E600"/>
<circle cx="24.45" cy="32.16" r="1.2" fill="#E6E600"/>
<circle cx="31.46" cy="30.61" r="1.2" fill="#E6E600"/>
<circle cx="20.24" cy="34.54" r="1.2" fill="#E6E600"/>
<circle cx="27.81" cy="34.96" r="1.2" fill="#E6E600"/>
<circle cx="30.33" cy="34.96" r="1.2" fill="#E6E600"/>
<circle cx="21.92" cy="37.34" r="1.2" fill="#E6E600"/>
<circle cx="23.33" cy="39.16" r="1.2" fill="#E6E600"/>
<circle cx="35.38" cy="26.41" r="1.2" fill="#E6E600"/>
<circle cx="43.79" cy="27.11" r="1.2" fill="#E6E600"/>
<circle cx="56.54" cy="31.74" r="1.2" fill="#E6E600"/>
<circle cx="7.49" cy="40.14" r="1.2" fill="#E6E600"/>
<circle cx="16.60" cy="42.25" r="1.2" fill="#E6E600"/>
<circle cx="14.92" cy="46.03" r="1.2" fill="#E6E600"/>
<circle cx="23.33" cy="45.33" r="1.2" fill="#E6E600"/>
<circle cx="48.55" cy="39.44" r="1.2" fill="#E6E600"/>
<circle cx="9.03" cy="49.68" r="1.2" fill="#E6E600"/>
<circle cx="15.20" cy="53.04" r="1.2" fill="#E6E600"/>
<circle cx="16.04" cy="53.88" r="1.2" fill="#E6E600"/>
<circle cx="54.44" cy="48.13" r="1.2" fill="#E6E600"/>
<circle cx="18.42" cy="60.19" r="1.2" fill="#E6E600"/>
<circle cx="22.77" cy="63.55" r="1.2" fill="#E6E600"/>
<circle cx="22.63" cy="69.30" r="1.2" fill="#E6E600"/>
<circle cx="61.87" cy="60.19" r="1.2" fill="#E6E600"/>
<circle cx="73.36" cy="56.26" r="1.2" fill="#E6E600"/>
<circle cx="85.27" cy="62.29" r="1.2" fill="#E6E600"/>
<circle cx="87.80" cy="62.85" r="1.2" fill="#E6E600"/>
<circle cx="26.97" cy="77.01" r="1.2" fill="#E6E600"/>
<circle cx="30.61" cy="79.53" r="1.2" fill="#E6E600"/>
<circle cx="41.27" cy="75.46" r="1.2" fill="#E6E600"/>
<circle cx="47.15" cy="74.06" r="1.2" fill="#E6E600"/>
<circle cx="50.66" cy="74.20" r="1.2" fill="#E6E600"/>
<circle cx="74.06" cy="72.66" r="1.2" fill="#E6E600"/>
<circle cx="74.76" cy="74.06" r="1.2" fill="#E6E600"/>
<circle cx="73.50" cy="77.71" r="1.2" fill="#E6E600"/>
<circle cx="71.68" cy="83.31" r="1.2" fill="#E6E600"/>
<circle cx="79.67" cy="84.71" r="1.2" fill="#E6E600"/>
<circle cx="72.66" cy="86.40" r="1.2" fill="#E6E600"/>
<path d="M69.90,48.90 C69.77,50.32 69.48,55.22 69.10,57.40 C68.72,59.58 68.70,60.65 67.60,62.00 C66.50,63.35 64.42,64.75 62.50,65.50 C60.58,66.25 58.45,66.05 56.10,66.50 C53.75,66.95 50.40,66.98 48.40,68.20 C46.40,69.42 44.82,71.23 44.10,73.80 C43.38,76.37 43.50,81.22 44.10,83.60 C44.70,85.98 45.23,86.93 47.70,88.10 C50.17,89.27 55.17,89.83 58.90,90.60 C62.63,91.37 66.13,92.28 70.10,92.70 C74.07,93.12 79.32,93.68 82.70,93.10 C86.08,92.52 88.65,91.25 90.40,89.20 C92.15,87.15 92.73,83.92 93.20,80.80 C93.67,77.68 93.25,73.38 93.20,70.50 C93.15,67.62 93.08,65.52 92.90,63.50 C92.72,61.48 92.73,59.85 92.10,58.40 C91.47,56.95 90.45,55.70 89.10,54.80 C87.75,53.90 85.88,53.30 84.00,53.00 C82.12,52.70 79.68,53.17 77.80,53.00 C75.92,52.83 73.97,52.47 72.70,52.00 C71.43,51.53 70.67,50.72 70.20,50.20 C69.73,49.68 69.95,49.12 69.90,48.90" fill="none" stroke="#12A396" stroke-width="1.9" stroke-linejoin="round"/>
</svg>
<rect x="267.50" y="131.50" width="95.00" height="108.50" fill="none" stroke="#555555" stroke-width="1"/>
<line x1="267.50" y1="144.90" x2="362.50" y2="144.90" stroke="#333333" stroke-width="1.1"/>
<text x="319.50" y="140.50" font-size="7.6" text-anchor="middle" fill="#1a1a1a">Resolving 24h</text>
<rect x="367.25" y="131.50" width="95.25" height="13.00" fill="#D9D9D9"/>
<svg x="367.25" y="144.5" width="95.25" height="95.5" overflow="hidden">
<circle cx="42.22" cy="19.54" r="1.2" fill="#00A9FF"/>
<circle cx="70.81" cy="25.15" r="1.2" fill="#00A9FF"/>
<circle cx="54.83" cy="27.25" r="1.2" fill="#00A9FF"/>
<circle cx="36.47" cy="25.71" r="1.2" fill="#00A9FF"/>
<circle cx="34.79" cy="27.81" r="1.2" fill="#00A9FF"/>
<circle cx="21.47" cy="28.51" r="1.2" fill="#00A9FF"/>
<circle cx="26.66" cy="29.63" r="1.2" fill="#00A9FF"/>
<circle cx="24.70" cy="31.46" r="1.2" fill="#00A9FF"/>
<circle cx="23.86" cy="33.14" r="1.2" fill="#00A9FF"/>
<circle cx="25.26" cy="34.82" r="1.2" fill="#00A9FF"/>
<circle cx="16.57" cy="32.86" r="1.2" fill="#00A9FF"/>
<circle cx="18.67" cy="33.14" r="1.2" fill="#00A9FF"/>
<circle cx="15.45" cy="34.82" r="1.2" fill="#00A9FF"/>
<circle cx="17.69" cy="36.64" r="1.2" fill="#00A9FF"/>
<circle cx="18.67" cy="38.04" r="1.2" fill="#00A9FF"/>
<circle cx="7.88" cy="34.54" r="1.2" fill="#00A9FF"/>
<circle cx="29.18" cy="37.06" r="1.2" fill="#00A9FF"/>
<circle cx="47.40" cy="33.84" r="1.2" fill="#00A9FF"/>
<circle cx="49.50" cy="37.34" r="1.2" fill="#00A9FF"/>
<circle cx="62.12" cy="37.06" r="1.2" fill="#00A9FF"/>
<circle cx="41.52" cy="39.16" r="1.2" fill="#00A9FF"/>
<circle cx="58.33" cy="40.43" r="1.2" fill="#00A9FF"/>
<circle cx="21.47" cy="39.86" r="1.2" fill="#00A9FF"/>
<circle cx="15.17" cy="40.43" r="1.2" fill="#00A9FF"/>
<circle cx="11.66" cy="40.85" r="1.2" fill="#00A9FF"/>
<circle cx="10.26" cy="42.25" r="1.2" fill="#00A9FF"/>
<circle cx="8.16" cy="43.23" r="1.2" fill="#00A9FF"/>
<circle cx="13.06" cy="44.07" r="1.2" fill="#00A9FF"/>
<circle cx="42.50" cy="44.63" r="1.2" fill="#00A9FF"/>
<circle cx="32.27" cy="45.75" r="1.2" fill="#00A9FF"/>
<circle cx="9.56" cy="47.15" r="1.2" fill="#00A9FF"/>
<circle cx="16.57" cy="47.15" r="1.2" fill="#00A9FF"/>
<circle cx="19.09" cy="47.85" r="1.2" fill="#00A9FF"/>
<circle cx="21.47" cy="46.45" r="1.2" fill="#00A9FF"/>
<circle cx="34.79" cy="49.25" r="1.2" fill="#00A9FF"/>
<circle cx="55.11" cy="49.54" r="1.2" fill="#00A9FF"/>
<circle cx="66.74" cy="49.68" r="1.2" fill="#00A9FF"/>
<circle cx="72.91" cy="47.85" r="1.2" fill="#00A9FF"/>
<circle cx="75.43" cy="50.24" r="1.2" fill="#00A9FF"/>
<circle cx="78.24" cy="44.77" r="1.2" fill="#00A9FF"/>
<circle cx="10.96" cy="50.24" r="1.2" fill="#00A9FF"/>
<circle cx="13.77" cy="49.68" r="1.2" fill="#00A9FF"/>
<circle cx="15.45" cy="51.36" r="1.2" fill="#00A9FF"/>
<circle cx="17.27" cy="51.08" r="1.2" fill="#00A9FF"/>
<circle cx="13.06" cy="53.46" r="1.2" fill="#00A9FF"/>
<circle cx="17.97" cy="53.46" r="1.2" fill="#00A9FF"/>
<circle cx="27.78" cy="55.28" r="1.2" fill="#00A9FF"/>
<circle cx="21.47" cy="56.26" r="1.2" fill="#00A9FF"/>
<circle cx="13.06" cy="56.26" r="1.2" fill="#00A9FF"/>
<circle cx="11.66" cy="58.08" r="1.2" fill="#00A9FF"/>
<circle cx="17.27" cy="58.65" r="1.2" fill="#00A9FF"/>
<circle cx="19.37" cy="60.05" r="1.2" fill="#00A9FF"/>
<circle cx="20.77" cy="61.87" r="1.2" fill="#00A9FF"/>
<circle cx="16.29" cy="63.69" r="1.2" fill="#00A9FF"/>
<circle cx="22.45" cy="65.37" r="1.2" fill="#00A9FF"/>
<circle cx="41.52" cy="62.29" r="1.2" fill="#00A9FF"/>
<circle cx="39.69" cy="67.19" r="1.2" fill="#00A9FF"/>
<circle cx="24.98" cy="74.48" r="1.2" fill="#00A9FF"/>
<circle cx="25.26" cy="75.88" r="1.2" fill="#00A9FF"/>
<circle cx="29.60" cy="72.10" r="1.2" fill="#00A9FF"/>
<circle cx="35.91" cy="76.30" r="1.2" fill="#00A9FF"/>
<circle cx="29.88" cy="78.69" r="1.2" fill="#00A9FF"/>
<circle cx="71.51" cy="61.17" r="1.2" fill="#00A9FF"/>
<circle cx="85.24" cy="57.66" r="1.2" fill="#00A9FF"/>
<circle cx="87.35" cy="58.36" r="1.2" fill="#00A9FF"/>
<circle cx="89.45" cy="59.77" r="1.2" fill="#00A9FF"/>
<circle cx="88.33" cy="61.87" r="1.2" fill="#00A9FF"/>
<circle cx="90.85" cy="61.17" r="1.2" fill="#00A9FF"/>
<circle cx="89.73" cy="63.97" r="1.2" fill="#00A9FF"/>
<circle cx="85.94" cy="62.57" r="1.2" fill="#00A9FF"/>
<circle cx="80.34" cy="66.77" r="1.2" fill="#00A9FF"/>
<circle cx="88.33" cy="66.77" r="1.2" fill="#00A9FF"/>
<circle cx="84.12" cy="69.58" r="1.2" fill="#00A9FF"/>
<circle cx="87.35" cy="70.98" r="1.2" fill="#00A9FF"/>
<circle cx="80.76" cy="71.68" r="1.2" fill="#00A9FF"/>
<circle cx="71.51" cy="71.26" r="1.2" fill="#00A9FF"/>
<circle cx="76.55" cy="76.87" r="1.2" fill="#00A9FF"/>
<circle cx="50.49" cy="76.30" r="1.2" fill="#00A9FF"/>
<circle cx="54.41" cy="81.91" r="1.2" fill="#00A9FF"/>
<circle cx="64.64" cy="83.59" r="1.2" fill="#00A9FF"/>
<circle cx="81.32" cy="81.07" r="1.2" fill="#00A9FF"/>
<circle cx="85.94" cy="83.31" r="1.2" fill="#00A9FF"/>
<circle cx="75.43" cy="85.27" r="1.2" fill="#00A9FF"/>
<circle cx="78.24" cy="86.40" r="1.2" fill="#00A9FF"/>
<circle cx="85.52" cy="86.40" r="1.2" fill="#00A9FF"/>
<circle cx="75.15" cy="89.90" r="1.2" fill="#00A9FF"/>
<circle cx="84.54" cy="89.20" r="1.2" fill="#00A9FF"/>
<circle cx="79.92" cy="91.30" r="1.2" fill="#00A9FF"/>
<circle cx="90.85" cy="54.16" r="1.2" fill="#00A9FF"/>
<path d="M69.90,48.90 C69.77,50.32 69.48,55.22 69.10,57.40 C68.72,59.58 68.70,60.65 67.60,62.00 C66.50,63.35 64.42,64.75 62.50,65.50 C60.58,66.25 58.45,66.05 56.10,66.50 C53.75,66.95 50.40,66.98 48.40,68.20 C46.40,69.42 44.82,71.23 44.10,73.80 C43.38,76.37 43.50,81.22 44.10,83.60 C44.70,85.98 45.23,86.93 47.70,88.10 C50.17,89.27 55.17,89.83 58.90,90.60 C62.63,91.37 66.13,92.28 70.10,92.70 C74.07,93.12 79.32,93.68 82.70,93.10 C86.08,92.52 88.65,91.25 90.40,89.20 C92.15,87.15 92.73,83.92 93.20,80.80 C93.67,77.68 93.25,73.38 93.20,70.50 C93.15,67.62 93.08,65.52 92.90,63.50 C92.72,61.48 92.73,59.85 92.10,58.40 C91.47,56.95 90.45,55.70 89.10,54.80 C87.75,53.90 85.88,53.30 84.00,53.00 C82.12,52.70 79.68,53.17 77.80,53.00 C75.92,52.83 73.97,52.47 72.70,52.00 C71.43,51.53 70.67,50.72 70.20,50.20 C69.73,49.68 69.95,49.12 69.90,48.90" fill="none" stroke="#12A396" stroke-width="1.9" stroke-linejoin="round"/>
</svg>
<rect x="367.25" y="131.50" width="95.25" height="108.50" fill="none" stroke="#555555" stroke-width="1"/>
<line x1="367.25" y1="144.90" x2="462.50" y2="144.90" stroke="#333333" stroke-width="1.1"/>
<text x="419.00" y="140.50" font-size="7.6" text-anchor="middle" fill="#1a1a1a">Non-Resolving 24h</text>
<rect x="467.50" y="131.50" width="95.25" height="13.00" fill="#D9D9D9"/>
<svg x="467.5" y="144.5" width="95.25" height="95.5" overflow="hidden">
<circle cx="53.88" cy="14.08" r="1.2" fill="#C77CFF"/>
<circle cx="58.79" cy="16.74" r="1.2" fill="#C77CFF"/>
<circle cx="39.86" cy="25.99" r="1.2" fill="#C77CFF"/>
<circle cx="36.22" cy="30.47" r="1.2" fill="#C77CFF"/>
<circle cx="52.48" cy="29.35" r="1.2" fill="#C77CFF"/>
<circle cx="21.64" cy="30.47" r="1.2" fill="#C77CFF"/>
<circle cx="13.52" cy="33.42" r="1.2" fill="#C77CFF"/>
<circle cx="13.52" cy="37.62" r="1.2" fill="#C77CFF"/>
<circle cx="4.83" cy="41.13" r="1.2" fill="#C77CFF"/>
<circle cx="38.04" cy="35.94" r="1.2" fill="#C77CFF"/>
<circle cx="47.43" cy="35.66" r="1.2" fill="#C77CFF"/>
<circle cx="61.87" cy="33.14" r="1.2" fill="#C77CFF"/>
<circle cx="26.83" cy="40.99" r="1.2" fill="#C77CFF"/>
<circle cx="44.63" cy="41.55" r="1.2" fill="#C77CFF"/>
<circle cx="44.35" cy="42.39" r="1.2" fill="#C77CFF"/>
<circle cx="63.27" cy="42.39" r="1.2" fill="#C77CFF"/>
<circle cx="20.52" cy="45.47" r="1.2" fill="#C77CFF"/>
<circle cx="20.24" cy="51.08" r="1.2" fill="#C77CFF"/>
<circle cx="26.13" cy="48.27" r="1.2" fill="#C77CFF"/>
<circle cx="31.74" cy="48.97" r="1.2" fill="#C77CFF"/>
<circle cx="39.44" cy="48.83" r="1.2" fill="#C77CFF"/>
<circle cx="42.67" cy="49.68" r="1.2" fill="#C77CFF"/>
<circle cx="45.05" cy="51.08" r="1.2" fill="#C77CFF"/>
<circle cx="43.23" cy="53.32" r="1.2" fill="#C77CFF"/>
<circle cx="36.64" cy="54.58" r="1.2" fill="#C77CFF"/>
<circle cx="30.61" cy="56.26" r="1.2" fill="#C77CFF"/>
<circle cx="47.85" cy="58.36" r="1.2" fill="#C77CFF"/>
<circle cx="55.28" cy="62.57" r="1.2" fill="#C77CFF"/>
<circle cx="30.61" cy="63.27" r="1.2" fill="#C77CFF"/>
<circle cx="35.24" cy="67.76" r="1.2" fill="#C77CFF"/>
<circle cx="37.06" cy="66.35" r="1.2" fill="#C77CFF"/>
<circle cx="69.58" cy="60.19" r="1.2" fill="#C77CFF"/>
<circle cx="75.88" cy="65.09" r="1.2" fill="#C77CFF"/>
<circle cx="83.59" cy="65.37" r="1.2" fill="#C77CFF"/>
<circle cx="84.57" cy="47.43" r="1.2" fill="#C77CFF"/>
<circle cx="58.08" cy="69.58" r="1.2" fill="#C77CFF"/>
<circle cx="56.26" cy="73.50" r="1.2" fill="#C77CFF"/>
<circle cx="69.30" cy="70.98" r="1.2" fill="#C77CFF"/>
<circle cx="69.58" cy="75.46" r="1.2" fill="#C77CFF"/>
<circle cx="49.68" cy="77.57" r="1.2" fill="#C77CFF"/>
<circle cx="51.36" cy="80.51" r="1.2" fill="#C77CFF"/>
<circle cx="76.30" cy="82.19" r="1.2" fill="#C77CFF"/>
<path d="M69.90,48.90 C69.77,50.32 69.48,55.22 69.10,57.40 C68.72,59.58 68.70,60.65 67.60,62.00 C66.50,63.35 64.42,64.75 62.50,65.50 C60.58,66.25 58.45,66.05 56.10,66.50 C53.75,66.95 50.40,66.98 48.40,68.20 C46.40,69.42 44.82,71.23 44.10,73.80 C43.38,76.37 43.50,81.22 44.10,83.60 C44.70,85.98 45.23,86.93 47.70,88.10 C50.17,89.27 55.17,89.83 58.90,90.60 C62.63,91.37 66.13,92.28 70.10,92.70 C74.07,93.12 79.32,93.68 82.70,93.10 C86.08,92.52 88.65,91.25 90.40,89.20 C92.15,87.15 92.73,83.92 93.20,80.80 C93.67,77.68 93.25,73.38 93.20,70.50 C93.15,67.62 93.08,65.52 92.90,63.50 C92.72,61.48 92.73,59.85 92.10,58.40 C91.47,56.95 90.45,55.70 89.10,54.80 C87.75,53.90 85.88,53.30 84.00,53.00 C82.12,52.70 79.68,53.17 77.80,53.00 C75.92,52.83 73.97,52.47 72.70,52.00 C71.43,51.53 70.67,50.72 70.20,50.20 C69.73,49.68 69.95,49.12 69.90,48.90" fill="none" stroke="#12A396" stroke-width="1.9" stroke-linejoin="round"/>
</svg>
<rect x="467.50" y="131.50" width="95.25" height="108.50" fill="none" stroke="#555555" stroke-width="1"/>
<line x1="467.50" y1="144.90" x2="562.75" y2="144.90" stroke="#333333" stroke-width="1.1"/>
<text x="516.00" y="140.50" font-size="7.6" text-anchor="middle" fill="#1a1a1a">Resolving 72h</text>
<rect x="567.75" y="131.50" width="95.25" height="13.00" fill="#D9D9D9"/>
<svg x="567.75" y="144.5" width="95.25" height="95.5" overflow="hidden">
<circle cx="31.21" cy="25.43" r="1.2" fill="#FF61CC"/>
<circle cx="33.17" cy="35.66" r="1.2" fill="#FF61CC"/>
<circle cx="48.58" cy="37.06" r="1.2" fill="#FF61CC"/>
<circle cx="19.99" cy="39.86" r="1.2" fill="#FF61CC"/>
<circle cx="24.48" cy="40.14" r="1.2" fill="#FF61CC"/>
<circle cx="28.96" cy="44.35" r="1.2" fill="#FF61CC"/>
<circle cx="39.19" cy="41.27" r="1.2" fill="#FF61CC"/>
<circle cx="36.81" cy="45.19" r="1.2" fill="#FF61CC"/>
<circle cx="42.98" cy="42.95" r="1.2" fill="#FF61CC"/>
<circle cx="45.50" cy="45.75" r="1.2" fill="#FF61CC"/>
<circle cx="46.90" cy="45.47" r="1.2" fill="#FF61CC"/>
<circle cx="49.00" cy="43.23" r="1.2" fill="#FF61CC"/>
<circle cx="55.03" cy="41.83" r="1.2" fill="#FF61CC"/>
<circle cx="6.96" cy="47.15" r="1.2" fill="#FF61CC"/>
<circle cx="34.99" cy="48.55" r="1.2" fill="#FF61CC"/>
<circle cx="39.89" cy="49.25" r="1.2" fill="#FF61CC"/>
<circle cx="41.02" cy="50.66" r="1.2" fill="#FF61CC"/>
<circle cx="53.21" cy="49.68" r="1.2" fill="#FF61CC"/>
<circle cx="46.20" cy="51.36" r="1.2" fill="#FF61CC"/>
<circle cx="40.60" cy="52.48" r="1.2" fill="#FF61CC"/>
<circle cx="39.89" cy="54.16" r="1.2" fill="#FF61CC"/>
<circle cx="38.49" cy="55.56" r="1.2" fill="#FF61CC"/>
<circle cx="28.96" cy="53.04" r="1.2" fill="#FF61CC"/>
<circle cx="30.36" cy="53.88" r="1.2" fill="#FF61CC"/>
<circle cx="50.83" cy="54.44" r="1.2" fill="#FF61CC"/>
<circle cx="33.59" cy="56.96" r="1.2" fill="#FF61CC"/>
<circle cx="34.57" cy="58.08" r="1.2" fill="#FF61CC"/>
<circle cx="31.21" cy="59.77" r="1.2" fill="#FF61CC"/>
<circle cx="29.80" cy="60.89" r="1.2" fill="#FF61CC"/>
<circle cx="43.82" cy="58.08" r="1.2" fill="#FF61CC"/>
<circle cx="46.62" cy="58.36" r="1.2" fill="#FF61CC"/>
<circle cx="19.99" cy="60.05" r="1.2" fill="#FF61CC"/>
<circle cx="39.89" cy="62.57" r="1.2" fill="#FF61CC"/>
<circle cx="47.18" cy="63.55" r="1.2" fill="#FF61CC"/>
<circle cx="40.60" cy="64.25" r="1.2" fill="#FF61CC"/>
<circle cx="32.19" cy="64.95" r="1.2" fill="#FF61CC"/>
<circle cx="34.01" cy="65.37" r="1.2" fill="#FF61CC"/>
<circle cx="35.41" cy="64.67" r="1.2" fill="#FF61CC"/>
<circle cx="27.00" cy="66.35" r="1.2" fill="#FF61CC"/>
<circle cx="26.58" cy="69.58" r="1.2" fill="#FF61CC"/>
<circle cx="25.60" cy="74.76" r="1.2" fill="#FF61CC"/>
<circle cx="28.96" cy="74.90" r="1.2" fill="#FF61CC"/>
<circle cx="29.80" cy="79.67" r="1.2" fill="#FF61CC"/>
<circle cx="70.45" cy="48.55" r="1.2" fill="#FF61CC"/>
<circle cx="73.53" cy="55.84" r="1.2" fill="#FF61CC"/>
<circle cx="83.34" cy="59.77" r="1.2" fill="#FF61CC"/>
<circle cx="85.02" cy="60.47" r="1.2" fill="#FF61CC"/>
<circle cx="81.94" cy="62.57" r="1.2" fill="#FF61CC"/>
<circle cx="83.06" cy="65.09" r="1.2" fill="#FF61CC"/>
<circle cx="78.02" cy="66.77" r="1.2" fill="#FF61CC"/>
<circle cx="71.01" cy="68.18" r="1.2" fill="#FF61CC"/>
<circle cx="52.23" cy="68.88" r="1.2" fill="#FF61CC"/>
<circle cx="66.24" cy="70.28" r="1.2" fill="#FF61CC"/>
<circle cx="81.24" cy="68.88" r="1.2" fill="#FF61CC"/>
<circle cx="80.54" cy="70.98" r="1.2" fill="#FF61CC"/>
<circle cx="81.66" cy="72.38" r="1.2" fill="#FF61CC"/>
<circle cx="71.01" cy="73.08" r="1.2" fill="#FF61CC"/>
<circle cx="74.93" cy="73.50" r="1.2" fill="#FF61CC"/>
<circle cx="46.90" cy="72.38" r="1.2" fill="#FF61CC"/>
<circle cx="80.26" cy="75.88" r="1.2" fill="#FF61CC"/>
<circle cx="52.79" cy="75.88" r="1.2" fill="#FF61CC"/>
<circle cx="63.72" cy="76.58" r="1.2" fill="#FF61CC"/>
<circle cx="47.18" cy="76.87" r="1.2" fill="#FF61CC"/>
<circle cx="54.19" cy="78.69" r="1.2" fill="#FF61CC"/>
<circle cx="56.01" cy="79.11" r="1.2" fill="#FF61CC"/>
<circle cx="56.71" cy="80.51" r="1.2" fill="#FF61CC"/>
<circle cx="59.52" cy="80.79" r="1.2" fill="#FF61CC"/>
<circle cx="60.92" cy="79.67" r="1.2" fill="#FF61CC"/>
<circle cx="63.02" cy="77.99" r="1.2" fill="#FF61CC"/>
<circle cx="72.83" cy="78.69" r="1.2" fill="#FF61CC"/>
<circle cx="74.65" cy="79.67" r="1.2" fill="#FF61CC"/>
<circle cx="77.04" cy="80.51" r="1.2" fill="#FF61CC"/>
<circle cx="79.14" cy="78.27" r="1.2" fill="#FF61CC"/>
<circle cx="48.30" cy="80.09" r="1.2" fill="#FF61CC"/>
<circle cx="48.30" cy="81.49" r="1.2" fill="#FF61CC"/>
<circle cx="56.71" cy="82.19" r="1.2" fill="#FF61CC"/>
<circle cx="60.92" cy="83.59" r="1.2" fill="#FF61CC"/>
<circle cx="62.60" cy="85.69" r="1.2" fill="#FF61CC"/>
<circle cx="65.40" cy="85.27" r="1.2" fill="#FF61CC"/>
<circle cx="76.05" cy="83.59" r="1.2" fill="#FF61CC"/>
<circle cx="81.24" cy="83.59" r="1.2" fill="#FF61CC"/>
<circle cx="85.87" cy="83.59" r="1.2" fill="#FF61CC"/>
<circle cx="76.05" cy="87.52" r="1.2" fill="#FF61CC"/>
<circle cx="79.42" cy="87.10" r="1.2" fill="#FF61CC"/>
<circle cx="80.54" cy="88.50" r="1.2" fill="#FF61CC"/>
<circle cx="77.74" cy="90.60" r="1.2" fill="#FF61CC"/>
<circle cx="83.06" cy="90.60" r="1.2" fill="#FF61CC"/>
<circle cx="72.13" cy="91.30" r="1.2" fill="#FF61CC"/>
<path d="M69.90,48.90 C69.77,50.32 69.48,55.22 69.10,57.40 C68.72,59.58 68.70,60.65 67.60,62.00 C66.50,63.35 64.42,64.75 62.50,65.50 C60.58,66.25 58.45,66.05 56.10,66.50 C53.75,66.95 50.40,66.98 48.40,68.20 C46.40,69.42 44.82,71.23 44.10,73.80 C43.38,76.37 43.50,81.22 44.10,83.60 C44.70,85.98 45.23,86.93 47.70,88.10 C50.17,89.27 55.17,89.83 58.90,90.60 C62.63,91.37 66.13,92.28 70.10,92.70 C74.07,93.12 79.32,93.68 82.70,93.10 C86.08,92.52 88.65,91.25 90.40,89.20 C92.15,87.15 92.73,83.92 93.20,80.80 C93.67,77.68 93.25,73.38 93.20,70.50 C93.15,67.62 93.08,65.52 92.90,63.50 C92.72,61.48 92.73,59.85 92.10,58.40 C91.47,56.95 90.45,55.70 89.10,54.80 C87.75,53.90 85.88,53.30 84.00,53.00 C82.12,52.70 79.68,53.17 77.80,53.00 C75.92,52.83 73.97,52.47 72.70,52.00 C71.43,51.53 70.67,50.72 70.20,50.20 C69.73,49.68 69.95,49.12 69.90,48.90" fill="none" stroke="#12A396" stroke-width="1.9" stroke-linejoin="round"/>
</svg>
<rect x="567.75" y="131.50" width="95.25" height="108.50" fill="none" stroke="#555555" stroke-width="1"/>
<line x1="567.75" y1="144.90" x2="663.00" y2="144.90" stroke="#333333" stroke-width="1.1"/>
<text x="615.70" y="140.50" font-size="7.6" text-anchor="middle" fill="#1a1a1a">Non-Resolving 72h</text>
<text x="466.80" y="256.30" font-size="10" text-anchor="middle">UMAP_1</text>
<text x="260.00" y="125.70" font-size="10" text-anchor="middle" transform="rotate(-90 260.00 125.70)">UMAP_2</text>
</g>
<g id="heat-d" shape-rendering="crispEdges">
<rect x="245.20" y="311.20" width="22.30" height="12.84" fill="#EC2B2B"/>
<rect x="267.20" y="311.20" width="22.30" height="12.84" fill="#F96A5B"/>
<rect x="289.20" y="311.20" width="22.30" height="12.84" fill="#FA8E7E"/>
<rect x="311.20" y="311.20" width="22.30" height="12.84" fill="#FDC9BE"/>
<rect x="333.20" y="311.20" width="22.30" height="12.84" fill="#D0C6FA"/>
<rect x="355.20" y="311.20" width="22.30" height="12.84" fill="#A493F5"/>
<rect x="377.20" y="311.20" width="22.30" height="12.84" fill="#FFF4F0"/>
<rect x="399.20" y="311.20" width="22.30" height="12.84" fill="#B4A5F7"/>
<rect x="245.20" y="323.74" width="22.30" height="12.84" fill="#EC2B2B"/>
<rect x="267.20" y="323.74" width="22.30" height="12.84" fill="#F96E5E"/>
<rect x="289.20" y="323.74" width="22.30" height="12.84" fill="#FCAE9F"/>
<rect x="311.20" y="323.74" width="22.30" height="12.84" fill="#FEE0D9"/>
<rect x="333.20" y="323.74" width="22.30" height="12.84" fill="#F2F0FF"/>
<rect x="355.20" y="323.74" width="22.30" height="12.84" fill="#C6B9F9"/>
<rect x="377.20" y="323.74" width="22.30" height="12.84" fill="#E1DAFC"/>
<rect x="399.20" y="323.74" width="22.30" height="12.84" fill="#BDAFF8"/>
<rect x="245.20" y="336.29" width="22.30" height="12.84" fill="#EC2B2B"/>
<rect x="267.20" y="336.29" width="22.30" height="12.84" fill="#F96E5E"/>
<rect x="289.20" y="336.29" width="22.30" height="12.84" fill="#FA9888"/>
<rect x="311.20" y="336.29" width="22.30" height="12.84" fill="#FFF2EE"/>
<rect x="333.20" y="336.29" width="22.30" height="12.84" fill="#BAADF8"/>
<rect x="355.20" y="336.29" width="22.30" height="12.84" fill="#A898F5"/>
<rect x="377.20" y="336.29" width="22.30" height="12.84" fill="#FFF2EE"/>
<rect x="399.20" y="336.29" width="22.30" height="12.84" fill="#D4CAFB"/>
<rect x="245.20" y="348.83" width="22.30" height="12.84" fill="#F85C4C"/>
<rect x="267.20" y="348.83" width="22.30" height="12.84" fill="#FED8D0"/>
<rect x="289.20" y="348.83" width="22.30" height="12.84" fill="#FDCBC1"/>
<rect x="311.20" y="348.83" width="22.30" height="12.84" fill="#FEDCD3"/>
<rect x="333.20" y="348.83" width="22.30" height="12.84" fill="#CBC0FA"/>
<rect x="355.20" y="348.83" width="22.30" height="12.84" fill="#C2B6F9"/>
<rect x="377.20" y="348.83" width="22.30" height="12.84" fill="#FFE4DE"/>
<rect x="399.20" y="348.83" width="22.30" height="12.84" fill="#FAF9FF"/>
<rect x="245.20" y="361.37" width="22.30" height="12.84" fill="#FCA090"/>
<rect x="267.20" y="361.37" width="22.30" height="12.84" fill="#FB9787"/>
<rect x="289.20" y="361.37" width="22.30" height="12.84" fill="#FDBDB2"/>
<rect x="311.20" y="361.37" width="22.30" height="12.84" fill="#FCB0A3"/>
<rect x="333.20" y="361.37" width="22.30" height="12.84" fill="#DDD5FC"/>
<rect x="355.20" y="361.37" width="22.30" height="12.84" fill="#C9BDFA"/>
<rect x="377.20" y="361.37" width="22.30" height="12.84" fill="#DDD5FC"/>
<rect x="399.20" y="361.37" width="22.30" height="12.84" fill="#DFD8FC"/>
<rect x="245.20" y="373.91" width="22.30" height="12.84" fill="#EC2B2B"/>
<rect x="267.20" y="373.91" width="22.30" height="12.84" fill="#FDCBC1"/>
<rect x="289.20" y="373.91" width="22.30" height="12.84" fill="#FFF0EC"/>
<rect x="311.20" y="373.91" width="22.30" height="12.84" fill="#CBBFFA"/>
<rect x="333.20" y="373.91" width="22.30" height="12.84" fill="#EFEBFE"/>
<rect x="355.20" y="373.91" width="22.30" height="12.84" fill="#C9BDFA"/>
<rect x="377.20" y="373.91" width="22.30" height="12.84" fill="#FFCCC0"/>
<rect x="399.20" y="373.91" width="22.30" height="12.84" fill="#FFECE6"/>
<rect x="245.20" y="386.46" width="22.30" height="12.84" fill="#EC2B2B"/>
<rect x="267.20" y="386.46" width="22.30" height="12.84" fill="#FCAA9B"/>
<rect x="289.20" y="386.46" width="22.30" height="12.84" fill="#FDD4CB"/>
<rect x="311.20" y="386.46" width="22.30" height="12.84" fill="#E4DEFD"/>
<rect x="333.20" y="386.46" width="22.30" height="12.84" fill="#EEEAFE"/>
<rect x="355.20" y="386.46" width="22.30" height="12.84" fill="#EAE6FE"/>
<rect x="377.20" y="386.46" width="22.30" height="12.84" fill="#F3F1FF"/>
<rect x="399.20" y="386.46" width="22.30" height="12.84" fill="#E2DCFD"/>
<rect x="245.20" y="399.00" width="22.30" height="12.84" fill="#EC2B2B"/>
<rect x="267.20" y="399.00" width="22.30" height="12.84" fill="#FA8F7F"/>
<rect x="289.20" y="399.00" width="22.30" height="12.84" fill="#FFF5F2"/>
<rect x="311.20" y="399.00" width="22.30" height="12.84" fill="#D3C9FB"/>
<rect x="333.20" y="399.00" width="22.30" height="12.84" fill="#F7F6FF"/>
<rect x="355.20" y="399.00" width="22.30" height="12.84" fill="#E8E2FE"/>
<rect x="377.20" y="399.00" width="22.30" height="12.84" fill="#E1DAFC"/>
<rect x="399.20" y="399.00" width="22.30" height="12.84" fill="#FFFFFF"/>
<rect x="245.20" y="411.54" width="22.30" height="12.84" fill="#EC2B2B"/>
<rect x="267.20" y="411.54" width="22.30" height="12.84" fill="#FCAEA0"/>
<rect x="289.20" y="411.54" width="22.30" height="12.84" fill="#FFF2EE"/>
<rect x="311.20" y="411.54" width="22.30" height="12.84" fill="#DDD6FC"/>
<rect x="333.20" y="411.54" width="22.30" height="12.84" fill="#DED6FC"/>
<rect x="355.20" y="411.54" width="22.30" height="12.84" fill="#ECE8FE"/>
<rect x="377.20" y="411.54" width="22.30" height="12.84" fill="#DFD8FC"/>
<rect x="399.20" y="411.54" width="22.30" height="12.84" fill="#FFEFEA"/>
<rect x="245.20" y="424.09" width="22.30" height="12.84" fill="#EC2B2B"/>
<rect x="267.20" y="424.09" width="22.30" height="12.84" fill="#FEE0D8"/>
<rect x="289.20" y="424.09" width="22.30" height="12.84" fill="#F8F7FF"/>
<rect x="311.20" y="424.09" width="22.30" height="12.84" fill="#CABFFA"/>
<rect x="333.20" y="424.09" width="22.30" height="12.84" fill="#F0EDFF"/>
<rect x="355.20" y="424.09" width="22.30" height="12.84" fill="#EDE9FE"/>
<rect x="377.20" y="424.09" width="22.30" height="12.84" fill="#C1B4F9"/>
<rect x="399.20" y="424.09" width="22.30" height="12.84" fill="#FFC3B7"/>
<rect x="245.20" y="436.63" width="22.30" height="12.84" fill="#FCA294"/>
<rect x="267.20" y="436.63" width="22.30" height="12.84" fill="#FEE0D9"/>
<rect x="289.20" y="436.63" width="22.30" height="12.84" fill="#FFECE7"/>
<rect x="311.20" y="436.63" width="22.30" height="12.84" fill="#D5CCFB"/>
<rect x="333.20" y="436.63" width="22.30" height="12.84" fill="#ECE7FE"/>
<rect x="355.20" y="436.63" width="22.30" height="12.84" fill="#FBFAFF"/>
<rect x="377.20" y="436.63" width="22.30" height="12.84" fill="#E1DAFC"/>
<rect x="399.20" y="436.63" width="22.30" height="12.84" fill="#FFF3EF"/>
<rect x="245.20" y="449.17" width="22.30" height="12.84" fill="#FFE4DE"/>
<rect x="267.20" y="449.17" width="22.30" height="12.84" fill="#F6F5FF"/>
<rect x="289.20" y="449.17" width="22.30" height="12.84" fill="#FFF5F2"/>
<rect x="311.20" y="449.17" width="22.30" height="12.84" fill="#E7E1FE"/>
<rect x="333.20" y="449.17" width="22.30" height="12.84" fill="#FFF4F0"/>
<rect x="355.20" y="449.17" width="22.30" height="12.84" fill="#E1DAFC"/>
<rect x="377.20" y="449.17" width="22.30" height="12.84" fill="#FFF3EF"/>
<rect x="399.20" y="449.17" width="22.30" height="12.84" fill="#FFE8E3"/>
<rect x="245.20" y="461.71" width="22.30" height="12.84" fill="#F2F0FF"/>
<rect x="267.20" y="461.71" width="22.30" height="12.84" fill="#E2DBFD"/>
<rect x="289.20" y="461.71" width="22.30" height="12.84" fill="#EBE5FE"/>
<rect x="311.20" y="461.71" width="22.30" height="12.84" fill="#DAD1FC"/>
<rect x="333.20" y="461.71" width="22.30" height="12.84" fill="#FFFFFF"/>
<rect x="355.20" y="461.71" width="22.30" height="12.84" fill="#FEFEFF"/>
<rect x="377.20" y="461.71" width="22.30" height="12.84" fill="#FFE8E3"/>
<rect x="399.20" y="461.71" width="22.30" height="12.84" fill="#FFCFC5"/>
<rect x="245.20" y="474.26" width="22.30" height="12.84" fill="#F7F6FF"/>
<rect x="267.20" y="474.26" width="22.30" height="12.84" fill="#CABFFA"/>
<rect x="289.20" y="474.26" width="22.30" height="12.84" fill="#D8CFFB"/>
<rect x="311.20" y="474.26" width="22.30" height="12.84" fill="#A08EF4"/>
<rect x="333.20" y="474.26" width="22.30" height="12.84" fill="#DFD5FC"/>
<rect x="355.20" y="474.26" width="22.30" height="12.84" fill="#D9D0FC"/>
<rect x="377.20" y="474.26" width="22.30" height="12.84" fill="#FF8E7C"/>
<rect x="399.20" y="474.26" width="22.30" height="12.84" fill="#EC2B2B"/>
</g>
<text x="422.60" y="321.90" font-size="9.7">LPC</text>
<text x="422.60" y="334.48" font-size="9.7">CE</text>
<text x="422.60" y="347.06" font-size="9.7">LPE</text>
<text x="422.60" y="359.64" font-size="9.7">LCER</text>
<text x="422.60" y="372.22" font-size="9.7">PI</text>
<text x="422.60" y="384.80" font-size="9.7">SM</text>
<text x="422.60" y="397.38" font-size="9.7">HCER</text>
<text x="422.60" y="409.96" font-size="9.7">PC</text>
<text x="422.60" y="422.54" font-size="9.7">TAG</text>
<text x="422.60" y="435.12" font-size="9.7">PE</text>
<text x="422.60" y="447.70" font-size="9.7">DAG</text>
<text x="422.60" y="460.28" font-size="9.7">DCER</text>
<text x="422.60" y="472.86" font-size="9.7">MAG</text>
<text x="422.60" y="485.44" font-size="9.7">CER</text>
<text x="338.30" y="304.20" font-size="9.7" text-anchor="middle">14 Lipid classes</text>
<text x="259.50" y="491.70" font-size="9.5" text-anchor="end" transform="rotate(-90 259.50 491.70)">Healthy Control</text>
<text x="281.50" y="491.70" font-size="9.5" text-anchor="end" transform="rotate(-90 281.50 491.70)">Resolving 0h</text>
<text x="303.50" y="491.70" font-size="9.5" text-anchor="end" transform="rotate(-90 303.50 491.70)">Non-Resolving 0h</text>
<text x="325.50" y="491.70" font-size="9.5" text-anchor="end" transform="rotate(-90 325.50 491.70)">Early-Nonsurvivors 0h</text>
<text x="347.50" y="491.70" font-size="9.5" text-anchor="end" transform="rotate(-90 347.50 491.70)">Resolving 24h</text>
<text x="369.50" y="491.70" font-size="9.5" text-anchor="end" transform="rotate(-90 369.50 491.70)">Non-Resolving 24h</text>
<text x="391.50" y="491.70" font-size="9.5" text-anchor="end" transform="rotate(-90 391.50 491.70)">Resolving 72h</text>
<text x="413.50" y="491.70" font-size="9.5" text-anchor="end" transform="rotate(-90 413.50 491.70)">Non-Resolving 72h</text>
<defs><linearGradient id="cb428" x1="0" y1="0" x2="0" y2="1"><stop offset="0.031" stop-color="#ec2b2b"/><stop offset="0.078" stop-color="#f1443e"/><stop offset="0.125" stop-color="#f65d51"/><stop offset="0.172" stop-color="#f97667"/><stop offset="0.220" stop-color="#fa8e7e"/><stop offset="0.267" stop-color="#fba394"/><stop offset="0.314" stop-color="#fcb7a9"/><stop offset="0.362" stop-color="#fdc9be"/><stop offset="0.409" stop-color="#fed8d0"/><stop offset="0.456" stop-color="#feeae6"/><stop offset="0.504" stop-color="#ffffff"/><stop offset="0.551" stop-color="#f4f0fe"/><stop offset="0.598" stop-color="#e6defd"/><stop offset="0.646" stop-color="#d6cbfa"/><stop offset="0.693" stop-color="#c7b9f9"/><stop offset="0.740" stop-color="#b8a7f7"/><stop offset="0.787" stop-color="#a896f5"/><stop offset="0.835" stop-color="#9582f4"/><stop offset="0.882" stop-color="#7262f5"/><stop offset="0.929" stop-color="#3e36f8"/><stop offset="0.977" stop-color="#0a0afa"/></linearGradient></defs>
<rect x="428.90" y="503.30" width="12.30" height="55.60" fill="url(#cb428)"/>
<line x1="439.00" y1="505.00" x2="441.20" y2="505.00" stroke="#fff" stroke-width="0.8"/>
<text x="443.20" y="508.30" font-size="9.5">1</text>
<line x1="439.00" y1="518.15" x2="441.20" y2="518.15" stroke="#fff" stroke-width="0.8"/>
<text x="443.20" y="521.50" font-size="9.5">0.5</text>
<line x1="439.00" y1="531.30" x2="441.20" y2="531.30" stroke="#fff" stroke-width="0.8"/>
<text x="443.20" y="534.40" font-size="9.5">0</text>
<line x1="439.00" y1="544.45" x2="441.20" y2="544.45" stroke="#fff" stroke-width="0.8"/>
<text x="443.20" y="547.30" font-size="9.5">-0.5</text>
<line x1="439.00" y1="557.60" x2="441.20" y2="557.60" stroke="#fff" stroke-width="0.8"/>
<text x="443.20" y="560.70" font-size="9.5">-1</text>
<text x="429.10" y="499.20" font-size="9.5" font-weight="bold">Z-score</text>
<path d="M245.2,330.01 H242 V342.56 H245.2" fill="none" stroke="#000" stroke-width="1.0"/>
<path d="M245.2,317.47 H241.4 V336.29 H242" fill="none" stroke="#000" stroke-width="1.0"/>
<path d="M245.2,355.10 H242.2 V367.64 H245.2" fill="none" stroke="#000" stroke-width="1.0"/>
<path d="M245.2,405.27 H243.7 V417.81 H245.2" fill="none" stroke="#000" stroke-width="1.0"/>
<path d="M245.2,392.73 H243 V411.54 H243.7" fill="none" stroke="#000" stroke-width="1.0"/>
<path d="M245.2,380.19 H241.3 V402.14 H243" fill="none" stroke="#000" stroke-width="1.0"/>
<path d="M245.2,430.36 H241.3 V442.90 H245.2" fill="none" stroke="#000" stroke-width="1.0"/>
<path d="M241.3,391.16 H239.3 V436.63 H241.3" fill="none" stroke="#333" stroke-width="1.0"/>
<path d="M242.2,361.37 H238.3 V413.89 H239.3" fill="none" stroke="#444" stroke-width="1.0"/>
<path d="M245.2,455.44 H242.4 V467.99 H245.2" fill="none" stroke="#000" stroke-width="1.0"/>
<path d="M242.4,461.71 H239.4 V480.53 H245.2" fill="none" stroke="#000" stroke-width="1.0"/>
<path d="M238.3,387.63 H235.4 V471.12 H239.4" fill="none" stroke="#000" stroke-width="1.0"/>
<path d="M241.4,326.88 H231.4 V429.38 H235.4" fill="none" stroke="#000" stroke-width="1.0"/>
<g id="heat-e" shape-rendering="crispEdges">
<rect x="495.10" y="312.90" width="18.81" height="6.58" fill="#EC2B2B"/>
<rect x="513.61" y="312.90" width="18.81" height="6.58" fill="#FD9A8B"/>
<rect x="532.12" y="312.90" width="18.81" height="6.58" fill="#FDC1B5"/>
<rect x="550.64" y="312.90" width="18.81" height="6.58" fill="#FCFBFF"/>
<rect x="569.15" y="312.90" width="18.81" height="6.58" fill="#E5E0FD"/>
<rect x="587.66" y="312.90" width="18.81" height="6.58" fill="#CBC0FA"/>
<rect x="606.18" y="312.90" width="18.81" height="6.58" fill="#FCFBFF"/>
<rect x="624.69" y="312.90" width="18.81" height="6.58" fill="#DCD5FC"/>
<rect x="495.10" y="319.18" width="18.81" height="6.58" fill="#EC2B2B"/>
<rect x="513.61" y="319.18" width="18.81" height="6.58" fill="#FDC1B6"/>
<rect x="532.12" y="319.18" width="18.81" height="6.58" fill="#FDCBC1"/>
<rect x="550.64" y="319.18" width="18.81" height="6.58" fill="#DDD6FC"/>
<rect x="569.15" y="319.18" width="18.81" height="6.58" fill="#E0D9FC"/>
<rect x="587.66" y="319.18" width="18.81" height="6.58" fill="#CBC0FA"/>
<rect x="606.18" y="319.18" width="18.81" height="6.58" fill="#FFFFFF"/>
<rect x="624.69" y="319.18" width="18.81" height="6.58" fill="#FFFFFF"/>
<rect x="495.10" y="325.46" width="18.81" height="6.58" fill="#EC2B2B"/>
<rect x="513.61" y="325.46" width="18.81" height="6.58" fill="#FDC9BE"/>
<rect x="532.12" y="325.46" width="18.81" height="6.58" fill="#FDD6CD"/>
<rect x="550.64" y="325.46" width="18.81" height="6.58" fill="#E9E4FE"/>
<rect x="569.15" y="325.46" width="18.81" height="6.58" fill="#E0D9FC"/>
<rect x="587.66" y="325.46" width="18.81" height="6.58" fill="#EEEAFE"/>
<rect x="606.18" y="325.46" width="18.81" height="6.58" fill="#DCD4FC"/>
<rect x="624.69" y="325.46" width="18.81" height="6.58" fill="#ECE8FE"/>
<rect x="495.10" y="331.74" width="18.81" height="6.58" fill="#EC2B2B"/>
<rect x="513.61" y="331.74" width="18.81" height="6.58" fill="#FCAEA0"/>
<rect x="532.12" y="331.74" width="18.81" height="6.58" fill="#FEE2DA"/>
<rect x="550.64" y="331.74" width="18.81" height="6.58" fill="#E1DAFC"/>
<rect x="569.15" y="331.74" width="18.81" height="6.58" fill="#DFD8FC"/>
<rect x="587.66" y="331.74" width="18.81" height="6.58" fill="#EBE6FE"/>
<rect x="606.18" y="331.74" width="18.81" height="6.58" fill="#E1DAFC"/>
<rect x="624.69" y="331.74" width="18.81" height="6.58" fill="#F3F1FF"/>
<rect x="495.10" y="338.01" width="18.81" height="6.58" fill="#EC2B2B"/>
<rect x="513.61" y="338.01" width="18.81" height="6.58" fill="#FA8A7A"/>
<rect x="532.12" y="338.01" width="18.81" height="6.58" fill="#FDD6CD"/>
<rect x="550.64" y="338.01" width="18.81" height="6.58" fill="#FEFEFF"/>
<rect x="569.15" y="338.01" width="18.81" height="6.58" fill="#F9F8FF"/>
<rect x="587.66" y="338.01" width="18.81" height="6.58" fill="#DFD8FC"/>
<rect x="606.18" y="338.01" width="18.81" height="6.58" fill="#E1DAFC"/>
<rect x="624.69" y="338.01" width="18.81" height="6.58" fill="#E1DAFC"/>
<rect x="495.10" y="344.29" width="18.81" height="6.58" fill="#EC2B2B"/>
<rect x="513.61" y="344.29" width="18.81" height="6.58" fill="#FA9080"/>
<rect x="532.12" y="344.29" width="18.81" height="6.58" fill="#FDD6CD"/>
<rect x="550.64" y="344.29" width="18.81" height="6.58" fill="#F8F7FF"/>
<rect x="569.15" y="344.29" width="18.81" height="6.58" fill="#E6E1FE"/>
<rect x="587.66" y="344.29" width="18.81" height="6.58" fill="#E9E4FE"/>
<rect x="606.18" y="344.29" width="18.81" height="6.58" fill="#D8D0FC"/>
<rect x="624.69" y="344.29" width="18.81" height="6.58" fill="#E2DCFD"/>
<rect x="495.10" y="350.57" width="18.81" height="6.58" fill="#EC2B2B"/>
<rect x="513.61" y="350.57" width="18.81" height="6.58" fill="#FB9A8B"/>
<rect x="532.12" y="350.57" width="18.81" height="6.58" fill="#FDD5CB"/>
<rect x="550.64" y="350.57" width="18.81" height="6.58" fill="#FCFBFF"/>
<rect x="569.15" y="350.57" width="18.81" height="6.58" fill="#E2DCFD"/>
<rect x="587.66" y="350.57" width="18.81" height="6.58" fill="#F3F1FF"/>
<rect x="606.18" y="350.57" width="18.81" height="6.58" fill="#CFC5FA"/>
<rect x="624.69" y="350.57" width="18.81" height="6.58" fill="#E2DCFD"/>
<rect x="495.10" y="356.85" width="18.81" height="6.58" fill="#EC2B2B"/>
<rect x="513.61" y="356.85" width="18.81" height="6.58" fill="#FCB0A2"/>
<rect x="532.12" y="356.85" width="18.81" height="6.58" fill="#FFF1ED"/>
<rect x="550.64" y="356.85" width="18.81" height="6.58" fill="#E1DAFC"/>
<rect x="569.15" y="356.85" width="18.81" height="6.58" fill="#E2DCFD"/>
<rect x="587.66" y="356.85" width="18.81" height="6.58" fill="#F1EEFF"/>
<rect x="606.18" y="356.85" width="18.81" height="6.58" fill="#DCD4FC"/>
<rect x="624.69" y="356.85" width="18.81" height="6.58" fill="#FFFEFD"/>
<rect x="495.10" y="363.13" width="18.81" height="6.58" fill="#EC2B2B"/>
<rect x="513.61" y="363.13" width="18.81" height="6.58" fill="#FCB0A2"/>
<rect x="532.12" y="363.13" width="18.81" height="6.58" fill="#FDCFC5"/>
<rect x="550.64" y="363.13" width="18.81" height="6.58" fill="#D5CCFB"/>
<rect x="569.15" y="363.13" width="18.81" height="6.58" fill="#E6E1FE"/>
<rect x="587.66" y="363.13" width="18.81" height="6.58" fill="#EBE6FE"/>
<rect x="606.18" y="363.13" width="18.81" height="6.58" fill="#DFD8FC"/>
<rect x="624.69" y="363.13" width="18.81" height="6.58" fill="#F2F0FF"/>
<rect x="495.10" y="369.41" width="18.81" height="6.58" fill="#EE3530"/>
<rect x="513.61" y="369.41" width="18.81" height="6.58" fill="#FB9989"/>
<rect x="532.12" y="369.41" width="18.81" height="6.58" fill="#FDCFC5"/>
<rect x="550.64" y="369.41" width="18.81" height="6.58" fill="#D5CCFB"/>
<rect x="569.15" y="369.41" width="18.81" height="6.58" fill="#E2DCFD"/>
<rect x="587.66" y="369.41" width="18.81" height="6.58" fill="#E2DCFD"/>
<rect x="606.18" y="369.41" width="18.81" height="6.58" fill="#DFD8FC"/>
<rect x="624.69" y="369.41" width="18.81" height="6.58" fill="#F7F6FF"/>
<rect x="495.10" y="375.69" width="18.81" height="6.58" fill="#FA8574"/>
<rect x="513.61" y="375.69" width="18.81" height="6.58" fill="#FDC1B6"/>
<rect x="532.12" y="375.69" width="18.81" height="6.58" fill="#FFF5F2"/>
<rect x="550.64" y="375.69" width="18.81" height="6.58" fill="#FCFBFF"/>
<rect x="569.15" y="375.69" width="18.81" height="6.58" fill="#F2F0FF"/>
<rect x="587.66" y="375.69" width="18.81" height="6.58" fill="#EDE9FE"/>
<rect x="606.18" y="375.69" width="18.81" height="6.58" fill="#F1EEFF"/>
<rect x="624.69" y="375.69" width="18.81" height="6.58" fill="#EBE6FE"/>
<rect x="495.10" y="381.96" width="18.81" height="6.58" fill="#FA8A79"/>
<rect x="513.61" y="381.96" width="18.81" height="6.58" fill="#FB9E8F"/>
<rect x="532.12" y="381.96" width="18.81" height="6.58" fill="#FFF0EC"/>
<rect x="550.64" y="381.96" width="18.81" height="6.58" fill="#E3DDFD"/>
<rect x="569.15" y="381.96" width="18.81" height="6.58" fill="#EBE6FE"/>
<rect x="587.66" y="381.96" width="18.81" height="6.58" fill="#FCFBFF"/>
<rect x="606.18" y="381.96" width="18.81" height="6.58" fill="#D8D0FC"/>
<rect x="624.69" y="381.96" width="18.81" height="6.58" fill="#F6F4FF"/>
<rect x="495.10" y="388.24" width="18.81" height="6.58" fill="#F86B5B"/>
<rect x="513.61" y="388.24" width="18.81" height="6.58" fill="#FDC9BE"/>
<rect x="532.12" y="388.24" width="18.81" height="6.58" fill="#FEDCD4"/>
<rect x="550.64" y="388.24" width="18.81" height="6.58" fill="#FDC9BE"/>
<rect x="569.15" y="388.24" width="18.81" height="6.58" fill="#F2F0FF"/>
<rect x="587.66" y="388.24" width="18.81" height="6.58" fill="#EDE9FE"/>
<rect x="606.18" y="388.24" width="18.81" height="6.58" fill="#D8D0FC"/>
<rect x="624.69" y="388.24" width="18.81" height="6.58" fill="#DED6FC"/>
<rect x="495.10" y="394.52" width="18.81" height="6.58" fill="#FCAE9F"/>
<rect x="513.61" y="394.52" width="18.81" height="6.58" fill="#FEE0D8"/>
<rect x="532.12" y="394.52" width="18.81" height="6.58" fill="#FA9585"/>
<rect x="550.64" y="394.52" width="18.81" height="6.58" fill="#FFF2EE"/>
<rect x="569.15" y="394.52" width="18.81" height="6.58" fill="#E2DCFD"/>
<rect x="587.66" y="394.52" width="18.81" height="6.58" fill="#D6CDFB"/>
<rect x="606.18" y="394.52" width="18.81" height="6.58" fill="#E8E2FE"/>
<rect x="624.69" y="394.52" width="18.81" height="6.58" fill="#E5E0FD"/>
<rect x="495.10" y="400.80" width="18.81" height="6.58" fill="#F55A4B"/>
<rect x="513.61" y="400.80" width="18.81" height="6.58" fill="#FED9D1"/>
<rect x="532.12" y="400.80" width="18.81" height="6.58" fill="#FFE6E0"/>
<rect x="550.64" y="400.80" width="18.81" height="6.58" fill="#E1DAFC"/>
<rect x="569.15" y="400.80" width="18.81" height="6.58" fill="#DED6FC"/>
<rect x="587.66" y="400.80" width="18.81" height="6.58" fill="#D6CDFB"/>
<rect x="606.18" y="400.80" width="18.81" height="6.58" fill="#FFE6E0"/>
<rect x="624.69" y="400.80" width="18.81" height="6.58" fill="#FFDBD3"/>
<rect x="495.10" y="407.08" width="18.81" height="6.58" fill="#FA8A79"/>
<rect x="513.61" y="407.08" width="18.81" height="6.58" fill="#FED4CA"/>
<rect x="532.12" y="407.08" width="18.81" height="6.58" fill="#FFE6E0"/>
<rect x="550.64" y="407.08" width="18.81" height="6.58" fill="#DED6FC"/>
<rect x="569.15" y="407.08" width="18.81" height="6.58" fill="#DED6FC"/>
<rect x="587.66" y="407.08" width="18.81" height="6.58" fill="#BBAEF8"/>
<rect x="606.18" y="407.08" width="18.81" height="6.58" fill="#FFD1C7"/>
<rect x="624.69" y="407.08" width="18.81" height="6.58" fill="#FFB6A8"/>
<rect x="495.10" y="413.36" width="18.81" height="6.58" fill="#EC2B2B"/>
<rect x="513.61" y="413.36" width="18.81" height="6.58" fill="#FDC1B6"/>
<rect x="532.12" y="413.36" width="18.81" height="6.58" fill="#FFF0EC"/>
<rect x="550.64" y="413.36" width="18.81" height="6.58" fill="#D8D0FC"/>
<rect x="569.15" y="413.36" width="18.81" height="6.58" fill="#E2DCFD"/>
<rect x="587.66" y="413.36" width="18.81" height="6.58" fill="#E9E4FE"/>
<rect x="606.18" y="413.36" width="18.81" height="6.58" fill="#D8D0FC"/>
<rect x="624.69" y="413.36" width="18.81" height="6.58" fill="#FFE8E2"/>
<rect x="495.10" y="419.64" width="18.81" height="6.58" fill="#EC2B2B"/>
<rect x="513.61" y="419.64" width="18.81" height="6.58" fill="#FFE8E2"/>
<rect x="532.12" y="419.64" width="18.81" height="6.58" fill="#FFF0EC"/>
<rect x="550.64" y="419.64" width="18.81" height="6.58" fill="#D8D0FC"/>
<rect x="569.15" y="419.64" width="18.81" height="6.58" fill="#D5CCFB"/>
<rect x="587.66" y="419.64" width="18.81" height="6.58" fill="#EDE9FE"/>
<rect x="606.18" y="419.64" width="18.81" height="6.58" fill="#E0D9FC"/>
<rect x="624.69" y="419.64" width="18.81" height="6.58" fill="#FFDBD3"/>
<rect x="495.10" y="425.91" width="18.81" height="6.58" fill="#EC2B2B"/>
<rect x="513.61" y="425.91" width="18.81" height="6.58" fill="#FEDCD4"/>
<rect x="532.12" y="425.91" width="18.81" height="6.58" fill="#FFF7F5"/>
<rect x="550.64" y="425.91" width="18.81" height="6.58" fill="#D0C6FB"/>
<rect x="569.15" y="425.91" width="18.81" height="6.58" fill="#D5CCFB"/>
<rect x="587.66" y="425.91" width="18.81" height="6.58" fill="#E2DCFD"/>
<rect x="606.18" y="425.91" width="18.81" height="6.58" fill="#E2DCFD"/>
<rect x="624.69" y="425.91" width="18.81" height="6.58" fill="#FFC8BD"/>
<rect x="495.10" y="432.19" width="18.81" height="6.58" fill="#EC2B2B"/>
<rect x="513.61" y="432.19" width="18.81" height="6.58" fill="#FFE4DE"/>
<rect x="532.12" y="432.19" width="18.81" height="6.58" fill="#FFFAF8"/>
<rect x="550.64" y="432.19" width="18.81" height="6.58" fill="#CDC2FA"/>
<rect x="569.15" y="432.19" width="18.81" height="6.58" fill="#DED6FC"/>
<rect x="587.66" y="432.19" width="18.81" height="6.58" fill="#FFFFFF"/>
<rect x="606.18" y="432.19" width="18.81" height="6.58" fill="#CDC2FA"/>
<rect x="624.69" y="432.19" width="18.81" height="6.58" fill="#FFD8CF"/>
<rect x="495.10" y="438.47" width="18.81" height="6.58" fill="#FA8474"/>
<rect x="513.61" y="438.47" width="18.81" height="6.58" fill="#FEE2DA"/>
<rect x="532.12" y="438.47" width="18.81" height="6.58" fill="#F3F1FF"/>
<rect x="550.64" y="438.47" width="18.81" height="6.58" fill="#D0C6FB"/>
<rect x="569.15" y="438.47" width="18.81" height="6.58" fill="#EDE9FE"/>
<rect x="587.66" y="438.47" width="18.81" height="6.58" fill="#DDD6FC"/>
<rect x="606.18" y="438.47" width="18.81" height="6.58" fill="#EFECFF"/>
<rect x="624.69" y="438.47" width="18.81" height="6.58" fill="#FCA394"/>
<rect x="495.10" y="444.75" width="18.81" height="6.58" fill="#FA8A79"/>
<rect x="513.61" y="444.75" width="18.81" height="6.58" fill="#FFF5F2"/>
<rect x="532.12" y="444.75" width="18.81" height="6.58" fill="#F8F7FF"/>
<rect x="550.64" y="444.75" width="18.81" height="6.58" fill="#CBC0FA"/>
<rect x="569.15" y="444.75" width="18.81" height="6.58" fill="#D5CCFB"/>
<rect x="587.66" y="444.75" width="18.81" height="6.58" fill="#F7F5FF"/>
<rect x="606.18" y="444.75" width="18.81" height="6.58" fill="#EBE6FE"/>
<rect x="624.69" y="444.75" width="18.81" height="6.58" fill="#FDB9AC"/>
<rect x="495.10" y="451.03" width="18.81" height="6.58" fill="#F7695A"/>
<rect x="513.61" y="451.03" width="18.81" height="6.58" fill="#FFF3EF"/>
<rect x="532.12" y="451.03" width="18.81" height="6.58" fill="#F8F7FF"/>
<rect x="550.64" y="451.03" width="18.81" height="6.58" fill="#C9BDFA"/>
<rect x="569.15" y="451.03" width="18.81" height="6.58" fill="#D5CCFB"/>
<rect x="587.66" y="451.03" width="18.81" height="6.58" fill="#F3F1FF"/>
<rect x="606.18" y="451.03" width="18.81" height="6.58" fill="#D5CCFB"/>
<rect x="624.69" y="451.03" width="18.81" height="6.58" fill="#FCA99A"/>
<rect x="495.10" y="457.31" width="18.81" height="6.58" fill="#FB9585"/>
<rect x="513.61" y="457.31" width="18.81" height="6.58" fill="#F0EDFF"/>
<rect x="532.12" y="457.31" width="18.81" height="6.58" fill="#DDD6FC"/>
<rect x="550.64" y="457.31" width="18.81" height="6.58" fill="#B3A5F7"/>
<rect x="569.15" y="457.31" width="18.81" height="6.58" fill="#FFFFFF"/>
<rect x="587.66" y="457.31" width="18.81" height="6.58" fill="#E8E2FE"/>
<rect x="606.18" y="457.31" width="18.81" height="6.58" fill="#FFEFEA"/>
<rect x="624.69" y="457.31" width="18.81" height="6.58" fill="#FA8373"/>
<rect x="495.10" y="463.59" width="18.81" height="6.58" fill="#FB9585"/>
<rect x="513.61" y="463.59" width="18.81" height="6.58" fill="#F0EDFF"/>
<rect x="532.12" y="463.59" width="18.81" height="6.58" fill="#D8D0FC"/>
<rect x="550.64" y="463.59" width="18.81" height="6.58" fill="#A898F5"/>
<rect x="569.15" y="463.59" width="18.81" height="6.58" fill="#FFEAE5"/>
<rect x="587.66" y="463.59" width="18.81" height="6.58" fill="#F0EDFF"/>
<rect x="606.18" y="463.59" width="18.81" height="6.58" fill="#FFEFEA"/>
<rect x="624.69" y="463.59" width="18.81" height="6.58" fill="#FA8574"/>
<rect x="495.10" y="469.86" width="18.81" height="6.58" fill="#FCAE9F"/>
<rect x="513.61" y="469.86" width="18.81" height="6.58" fill="#E1DAFC"/>
<rect x="532.12" y="469.86" width="18.81" height="6.58" fill="#E5E0FD"/>
<rect x="550.64" y="469.86" width="18.81" height="6.58" fill="#AE9FF6"/>
<rect x="569.15" y="469.86" width="18.81" height="6.58" fill="#DFD8FC"/>
<rect x="587.66" y="469.86" width="18.81" height="6.58" fill="#F8F7FF"/>
<rect x="606.18" y="469.86" width="18.81" height="6.58" fill="#FFFEFD"/>
<rect x="624.69" y="469.86" width="18.81" height="6.58" fill="#F97B6A"/>
<rect x="495.10" y="476.14" width="18.81" height="6.58" fill="#FB9888"/>
<rect x="513.61" y="476.14" width="18.81" height="6.58" fill="#FFFAF8"/>
<rect x="532.12" y="476.14" width="18.81" height="6.58" fill="#F6F4FF"/>
<rect x="550.64" y="476.14" width="18.81" height="6.58" fill="#B8AAF8"/>
<rect x="569.15" y="476.14" width="18.81" height="6.58" fill="#ECE8FE"/>
<rect x="587.66" y="476.14" width="18.81" height="6.58" fill="#FFF3EF"/>
<rect x="606.18" y="476.14" width="18.81" height="6.58" fill="#E1DAFC"/>
<rect x="624.69" y="476.14" width="18.81" height="6.58" fill="#FDBDB1"/>
<rect x="495.10" y="482.42" width="18.81" height="6.58" fill="#FCB5A7"/>
<rect x="513.61" y="482.42" width="18.81" height="6.58" fill="#F2F0FF"/>
<rect x="532.12" y="482.42" width="18.81" height="6.58" fill="#E0D9FC"/>
<rect x="550.64" y="482.42" width="18.81" height="6.58" fill="#AE9FF6"/>
<rect x="569.15" y="482.42" width="18.81" height="6.58" fill="#FFF5F2"/>
<rect x="587.66" y="482.42" width="18.81" height="6.58" fill="#FFE0D8"/>
<rect x="606.18" y="482.42" width="18.81" height="6.58" fill="#E6E1FE"/>
<rect x="624.69" y="482.42" width="18.81" height="6.58" fill="#FDBDB1"/>
</g>
<text x="644.30" y="315.70" font-size="7.5">24:0</text>
<text x="644.30" y="322.13" font-size="7.5">22:0</text>
<text x="644.30" y="328.56" font-size="7.5">15:0</text>
<text x="644.30" y="334.99" font-size="7.5">17:0</text>
<text x="644.30" y="341.42" font-size="7.5">18:4</text>
<text x="644.30" y="347.85" font-size="7.5">14:0</text>
<text x="644.30" y="354.28" font-size="7.5">14:1</text>
<text x="644.30" y="360.71" font-size="7.5">16:0</text>
<text x="644.30" y="367.14" font-size="7.5">20:3</text>
<text x="644.30" y="373.57" font-size="7.5">20:4</text>
<text x="644.30" y="380.00" font-size="7.5">12:0</text>
<text x="644.30" y="386.43" font-size="7.5">16:1</text>
<text x="644.30" y="392.86" font-size="7.5">22:2</text>
<text x="644.30" y="399.29" font-size="7.5">26:0</text>
<text x="644.30" y="405.72" font-size="7.5">24:1</text>
<text x="644.30" y="412.15" font-size="7.5">26:1</text>
<text x="644.30" y="418.58" font-size="7.5">18:0</text>
<text x="644.30" y="425.01" font-size="7.5">20:0</text>
<text x="644.30" y="431.44" font-size="7.5">18:1</text>
<text x="644.30" y="437.87" font-size="7.5">18:3</text>
<text x="644.30" y="444.30" font-size="7.5">20:5</text>
<text x="644.30" y="450.73" font-size="7.5">20:1</text>
<text x="644.30" y="457.16" font-size="7.5">18:2</text>
<text x="644.30" y="463.59" font-size="7.5">22:6</text>
<text x="644.30" y="470.02" font-size="7.5">22:5</text>
<text x="644.30" y="476.45" font-size="7.5">22:1</text>
<text x="644.30" y="482.88" font-size="7.5">20:2</text>
<text x="644.30" y="489.31" font-size="7.5">22:4</text>
<text x="580.70" y="304.00" font-size="9.7" text-anchor="middle">28 Fatty acids in lipids</text>
<text x="507.20" y="491.70" font-size="9.5" text-anchor="end" transform="rotate(-90 507.20 491.70)">Healthy Control</text>
<text x="525.97" y="491.70" font-size="9.5" text-anchor="end" transform="rotate(-90 525.97 491.70)">Resolving 0h</text>
<text x="544.74" y="491.70" font-size="9.5" text-anchor="end" transform="rotate(-90 544.74 491.70)">Non-Resolving 0h</text>
<text x="563.51" y="491.70" font-size="9.5" text-anchor="end" transform="rotate(-90 563.51 491.70)">Early-Nonsurvivors 0h</text>
<text x="582.28" y="491.70" font-size="9.5" text-anchor="end" transform="rotate(-90 582.28 491.70)">Resolving 24h</text>
<text x="601.05" y="491.70" font-size="9.5" text-anchor="end" transform="rotate(-90 601.05 491.70)">Non-Resolving 24h</text>
<text x="619.82" y="491.70" font-size="9.5" text-anchor="end" transform="rotate(-90 619.82 491.70)">Resolving 72h</text>
<text x="638.59" y="491.70" font-size="9.5" text-anchor="end" transform="rotate(-90 638.59 491.70)">Non-Resolving 72h</text>
<defs><linearGradient id="cb650" x1="0" y1="0" x2="0" y2="1"><stop offset="0.031" stop-color="#ec2b2b"/><stop offset="0.078" stop-color="#f1443e"/><stop offset="0.125" stop-color="#f65d51"/><stop offset="0.172" stop-color="#f97667"/><stop offset="0.220" stop-color="#fa8e7e"/><stop offset="0.267" stop-color="#fba394"/><stop offset="0.314" stop-color="#fcb7a9"/><stop offset="0.362" stop-color="#fdc9be"/><stop offset="0.409" stop-color="#fed8d0"/><stop offset="0.456" stop-color="#feeae6"/><stop offset="0.504" stop-color="#ffffff"/><stop offset="0.551" stop-color="#f4f0fe"/><stop offset="0.598" stop-color="#e6defd"/><stop offset="0.646" stop-color="#d6cbfa"/><stop offset="0.693" stop-color="#c7b9f9"/><stop offset="0.740" stop-color="#b8a7f7"/><stop offset="0.787" stop-color="#a896f5"/><stop offset="0.835" stop-color="#9582f4"/><stop offset="0.882" stop-color="#7262f5"/><stop offset="0.929" stop-color="#3e36f8"/><stop offset="0.977" stop-color="#0a0afa"/></linearGradient></defs>
<rect x="650.10" y="503.30" width="11.90" height="55.60" fill="url(#cb650)"/>
<line x1="659.80" y1="505.00" x2="662.00" y2="505.00" stroke="#fff" stroke-width="0.8"/>
<text x="663.40" y="508.30" font-size="9.5">1</text>
<line x1="659.80" y1="518.15" x2="662.00" y2="518.15" stroke="#fff" stroke-width="0.8"/>
<text x="663.40" y="521.50" font-size="9.5">0.5</text>
<line x1="659.80" y1="531.30" x2="662.00" y2="531.30" stroke="#fff" stroke-width="0.8"/>
<text x="663.40" y="534.40" font-size="9.5">0</text>
<line x1="659.80" y1="544.45" x2="662.00" y2="544.45" stroke="#fff" stroke-width="0.8"/>
<text x="663.40" y="547.30" font-size="9.5">-0.5</text>
<line x1="659.80" y1="557.60" x2="662.00" y2="557.60" stroke="#fff" stroke-width="0.8"/>
<text x="663.40" y="560.70" font-size="9.5">-1</text>
<text x="650.30" y="499.20" font-size="9.5" font-weight="bold">Z-score</text>
<path d="M495.10,316.04 H491.77 V322.32 H495.10" fill="none" stroke="#000" stroke-width="0.9"/>
<path d="M495.10,328.60 H492.10 V334.88 H495.10" fill="none" stroke="#000" stroke-width="0.9"/>
<path d="M491.77,319.18 H490.75 V331.74 H492.10" fill="none" stroke="#000" stroke-width="0.9"/>
<path d="M495.10,341.15 H491.79 V347.43 H495.10" fill="none" stroke="#000" stroke-width="0.9"/>
<path d="M495.10,353.71 H492.21 V359.99 H495.10" fill="none" stroke="#000" stroke-width="0.9"/>
<path d="M492.21,356.85 H491.38 V366.27 H495.10" fill="none" stroke="#000" stroke-width="0.9"/>
<path d="M491.79,344.29 H490.03 V361.56 H491.38" fill="none" stroke="#000" stroke-width="0.9"/>
<path d="M495.10,372.55 H492.29 V378.82 H495.10" fill="none" stroke="#000" stroke-width="0.9"/>
<path d="M495.10,385.10 H492.09 V391.38 H495.10" fill="none" stroke="#000" stroke-width="0.9"/>
<path d="M492.29,375.69 H490.28 V388.24 H492.09" fill="none" stroke="#000" stroke-width="0.9"/>
<path d="M490.03,352.93 H488.88 V381.96 H490.28" fill="none" stroke="#000" stroke-width="0.9"/>
<path d="M495.10,397.66 H491.99 V403.94 H495.10" fill="none" stroke="#000" stroke-width="0.9"/>
<path d="M495.10,410.22 H492.10 V416.50 H495.10" fill="none" stroke="#000" stroke-width="0.9"/>
<path d="M492.10,413.36 H490.84 V422.77 H495.10" fill="none" stroke="#000" stroke-width="0.9"/>
<path d="M491.99,400.80 H490.25 V418.07 H490.84" fill="none" stroke="#000" stroke-width="0.9"/>
<path d="M495.10,429.05 H492.17 V435.33 H495.10" fill="none" stroke="#000" stroke-width="0.9"/>
<path d="M492.17,432.19 H491.34 V441.61 H495.10" fill="none" stroke="#000" stroke-width="0.9"/>
<path d="M495.10,447.89 H492.27 V454.17 H495.10" fill="none" stroke="#000" stroke-width="0.9"/>
<path d="M491.34,436.90 H490.09 V451.03 H492.27" fill="none" stroke="#000" stroke-width="0.9"/>
<path d="M490.25,409.43 H488.23 V443.97 H490.09" fill="none" stroke="#000" stroke-width="0.9"/>
<path d="M488.88,367.45 H487.16 V426.70 H488.23" fill="none" stroke="#000" stroke-width="0.9"/>
<path d="M490.75,325.46 H484.2 V397.07 H487.16" fill="none" stroke="#000" stroke-width="0.9"/>
<path d="M495.10,460.45 H492.12 V466.73 H495.10" fill="none" stroke="#000" stroke-width="0.9"/>
<path d="M492.12,463.59 H491.10 V473.00 H495.10" fill="none" stroke="#000" stroke-width="0.9"/>
<path d="M495.10,479.28 H492.30 V485.56 H495.10" fill="none" stroke="#000" stroke-width="0.9"/>
<path d="M491.10,468.29 H490.24 V482.42 H492.30" fill="none" stroke="#000" stroke-width="0.9"/>
<path d="M484.2,361.26 H481.4 V475.36 H490.24" fill="none" stroke="#000" stroke-width="0.9"/>
<g id="heat-c" shape-rendering="crispEdges">
<rect x="32.40" y="311.30" width="21.02" height="1.05" fill="#fb9989"/>
<rect x="32.40" y="312.30" width="21.02" height="1.05" fill="#ed2e2d"/>
<rect x="32.40" y="313.30" width="21.02" height="1.05" fill="#ee3432"/>
<rect x="32.40" y="314.30" width="21.02" height="1.05" fill="#ec2c2b"/>
<rect x="32.40" y="315.30" width="21.02" height="1.05" fill="#ef3a36"/>
<rect x="32.40" y="316.30" width="21.02" height="1.05" fill="#ee3432"/>
<rect x="32.40" y="317.30" width="21.02" height="1.05" fill="#ec2b2b"/>
<rect x="32.40" y="318.30" width="21.02" height="1.05" fill="#ee3734"/>
<rect x="32.40" y="319.30" width="21.02" height="1.05" fill="#ed3130"/>
<rect x="32.40" y="320.30" width="21.02" height="1.05" fill="#f03c38"/>
<rect x="32.40" y="321.30" width="21.02" height="1.05" fill="#ec2d2d"/>
<rect x="32.40" y="322.30" width="21.02" height="1.05" fill="#ed2f2e"/>
<rect x="32.40" y="323.30" width="21.02" height="1.05" fill="#f03e39"/>
<rect x="32.40" y="324.30" width="21.02" height="1.05" fill="#f0403b"/>
<rect x="32.40" y="325.30" width="21.02" height="1.05" fill="#ee3533"/>
<rect x="32.40" y="326.30" width="21.02" height="1.05" fill="#ed2e2d"/>
<rect x="32.40" y="327.30" width="21.02" height="1.05" fill="#f24841"/>
<rect x="32.40" y="328.30" width="21.02" height="1.05" fill="#ef3835"/>
<rect x="32.40" y="329.30" width="21.02" height="1.05" fill="#ec2c2c"/>
<rect x="32.40" y="330.30" width="21.02" height="1.05" fill="#ef3835"/>
<rect x="32.40" y="331.30" width="21.02" height="1.05" fill="#ed3130"/>
<rect x="32.40" y="332.30" width="21.02" height="1.05" fill="#ec2d2c"/>
<rect x="32.40" y="333.30" width="21.02" height="1.05" fill="#ed302f"/>
<rect x="32.40" y="334.30" width="21.02" height="1.05" fill="#ed2e2d"/>
<rect x="32.40" y="335.30" width="21.02" height="1.05" fill="#ec2c2c"/>
<rect x="32.40" y="336.30" width="21.02" height="1.05" fill="#ee3331"/>
<rect x="32.40" y="337.30" width="21.02" height="1.05" fill="#ef3b37"/>
<rect x="32.40" y="338.30" width="21.02" height="1.05" fill="#ee3633"/>
<rect x="32.40" y="339.30" width="21.02" height="1.05" fill="#ef3835"/>
<rect x="32.40" y="340.30" width="21.02" height="1.05" fill="#ec2b2b"/>
<rect x="32.40" y="341.30" width="21.02" height="1.05" fill="#ef3a36"/>
<rect x="32.40" y="342.30" width="21.02" height="1.05" fill="#ee3533"/>
<rect x="32.40" y="343.30" width="21.02" height="1.05" fill="#f0403b"/>
<rect x="32.40" y="344.30" width="21.02" height="1.05" fill="#ee3734"/>
<rect x="32.40" y="345.30" width="21.02" height="1.05" fill="#ef3a36"/>
<rect x="32.40" y="346.30" width="21.02" height="1.05" fill="#ed312f"/>
<rect x="32.40" y="347.30" width="21.02" height="1.05" fill="#ec2b2b"/>
<rect x="32.40" y="348.30" width="21.02" height="1.05" fill="#ef3b37"/>
<rect x="32.40" y="349.30" width="21.02" height="1.05" fill="#f03d39"/>
<rect x="32.40" y="350.30" width="21.02" height="1.05" fill="#ed2f2e"/>
<rect x="32.40" y="351.30" width="21.02" height="1.05" fill="#ed302f"/>
<rect x="32.40" y="352.30" width="21.02" height="1.05" fill="#ed2f2e"/>
<rect x="32.40" y="353.30" width="21.02" height="1.05" fill="#ec2c2c"/>
<rect x="32.40" y="354.30" width="21.02" height="1.05" fill="#ed302f"/>
<rect x="32.40" y="355.30" width="21.02" height="1.05" fill="#ed2f2e"/>
<rect x="32.40" y="356.30" width="21.02" height="1.05" fill="#ee3432"/>
<rect x="32.40" y="357.30" width="21.02" height="1.05" fill="#ec2c2c"/>
<rect x="32.40" y="358.30" width="21.02" height="1.05" fill="#fa8576"/>
<rect x="32.40" y="359.30" width="21.02" height="1.05" fill="#f5574d"/>
<rect x="32.40" y="360.30" width="21.02" height="1.05" fill="#ed2e2d"/>
<rect x="32.40" y="361.30" width="21.02" height="1.05" fill="#ee3432"/>
<rect x="32.40" y="362.30" width="21.02" height="1.05" fill="#ed302f"/>
<rect x="32.40" y="363.30" width="21.02" height="1.05" fill="#ef3835"/>
<rect x="32.40" y="364.30" width="21.02" height="1.05" fill="#ec2c2c"/>
<rect x="32.40" y="365.30" width="21.02" height="1.05" fill="#ee3633"/>
<rect x="32.40" y="366.30" width="21.02" height="1.05" fill="#ed302f"/>
<rect x="32.40" y="367.30" width="21.02" height="1.05" fill="#ef3b37"/>
<rect x="32.40" y="368.30" width="21.02" height="1.05" fill="#ef3b37"/>
<rect x="32.40" y="369.30" width="21.02" height="1.05" fill="#ee3533"/>
<rect x="32.40" y="370.30" width="21.02" height="1.05" fill="#ed2e2d"/>
<rect x="32.40" y="371.30" width="21.02" height="1.05" fill="#ed3230"/>
<rect x="32.40" y="372.30" width="21.02" height="1.05" fill="#ee3432"/>
<rect x="32.40" y="373.30" width="21.02" height="1.05" fill="#f1413c"/>
<rect x="32.40" y="374.30" width="21.02" height="1.05" fill="#ee3331"/>
<rect x="32.40" y="375.30" width="21.02" height="1.05" fill="#fdfcff"/>
<rect x="32.40" y="376.30" width="21.02" height="1.05" fill="#fefdff"/>
<rect x="32.40" y="377.30" width="21.02" height="1.05" fill="#fcfbff"/>
<rect x="32.40" y="378.30" width="21.02" height="1.05" fill="#fcb6a8"/>
<rect x="32.40" y="379.30" width="21.02" height="1.05" fill="#fcb7aa"/>
<rect x="32.40" y="380.30" width="21.02" height="1.05" fill="#fdc4b9"/>
<rect x="32.40" y="381.30" width="21.02" height="1.05" fill="#fdd1c7"/>
<rect x="32.40" y="382.30" width="21.02" height="1.05" fill="#fdcfc5"/>
<rect x="32.40" y="383.30" width="21.02" height="1.05" fill="#f65d51"/>
<rect x="32.40" y="384.30" width="21.02" height="1.05" fill="#f03d39"/>
<rect x="32.40" y="385.30" width="21.02" height="1.05" fill="#ee3734"/>
<rect x="32.40" y="386.30" width="21.02" height="1.05" fill="#ed3130"/>
<rect x="32.40" y="387.30" width="21.02" height="1.05" fill="#ee3532"/>
<rect x="32.40" y="388.30" width="21.02" height="1.05" fill="#ef3835"/>
<rect x="32.40" y="389.30" width="21.02" height="1.05" fill="#f1453f"/>
<rect x="32.40" y="390.30" width="21.02" height="1.05" fill="#f03f3b"/>
<rect x="32.40" y="391.30" width="21.02" height="1.05" fill="#ec2b2b"/>
<rect x="32.40" y="392.30" width="21.02" height="1.05" fill="#f24640"/>
<rect x="32.40" y="393.30" width="21.02" height="1.05" fill="#f76053"/>
<rect x="32.40" y="394.30" width="21.02" height="1.05" fill="#ee3532"/>
<rect x="32.40" y="395.30" width="21.02" height="1.05" fill="#f65b50"/>
<rect x="32.40" y="396.30" width="21.02" height="1.05" fill="#f45349"/>
<rect x="32.40" y="397.30" width="21.02" height="1.05" fill="#f45047"/>
<rect x="32.40" y="398.30" width="21.02" height="1.05" fill="#f9796a"/>
<rect x="32.40" y="399.30" width="21.02" height="1.05" fill="#f1443e"/>
<rect x="32.40" y="400.30" width="21.02" height="1.05" fill="#ec2b2b"/>
<rect x="32.40" y="401.30" width="21.02" height="1.05" fill="#ed302f"/>
<rect x="32.40" y="402.30" width="21.02" height="1.05" fill="#ed3231"/>
<rect x="32.40" y="403.30" width="21.02" height="1.05" fill="#f0413c"/>
<rect x="32.40" y="404.30" width="21.02" height="1.05" fill="#f75e52"/>
<rect x="32.40" y="405.30" width="21.02" height="1.05" fill="#f75e52"/>
<rect x="32.40" y="406.30" width="21.02" height="1.05" fill="#f4534a"/>
<rect x="32.40" y="407.30" width="21.02" height="1.05" fill="#f03e39"/>
<rect x="32.40" y="408.30" width="21.02" height="1.05" fill="#ef3b37"/>
<rect x="32.40" y="409.30" width="21.02" height="1.05" fill="#f24740"/>
<rect x="32.40" y="410.30" width="21.02" height="1.05" fill="#f86456"/>
<rect x="32.40" y="411.30" width="21.02" height="1.05" fill="#fa8475"/>
<rect x="32.40" y="412.30" width="21.02" height="1.05" fill="#f97667"/>
<rect x="32.40" y="413.30" width="21.02" height="1.05" fill="#f9685a"/>
<rect x="32.40" y="414.30" width="21.02" height="1.05" fill="#fa7d6d"/>
<rect x="32.40" y="415.30" width="21.02" height="1.05" fill="#fba495"/>
<rect x="32.40" y="416.30" width="21.02" height="1.05" fill="#fca99a"/>
<rect x="32.40" y="417.30" width="21.02" height="1.05" fill="#fb9687"/>
<rect x="32.40" y="418.30" width="21.02" height="1.05" fill="#fa8677"/>
<rect x="32.40" y="419.30" width="21.02" height="1.05" fill="#f96859"/>
<rect x="32.40" y="420.30" width="21.02" height="1.05" fill="#fa8b7c"/>
<rect x="32.40" y="421.30" width="21.02" height="1.05" fill="#fa8a7a"/>
<rect x="32.40" y="422.30" width="21.02" height="1.05" fill="#fa7d6d"/>
<rect x="32.40" y="423.30" width="21.02" height="1.05" fill="#fa8576"/>
<rect x="32.40" y="424.30" width="21.02" height="1.05" fill="#fcb2a4"/>
<rect x="32.40" y="425.30" width="21.02" height="1.05" fill="#fa9282"/>
<rect x="32.40" y="426.30" width="21.02" height="1.05" fill="#f75e52"/>
<rect x="32.40" y="427.30" width="21.02" height="1.05" fill="#f65d51"/>
<rect x="32.40" y="428.30" width="21.02" height="1.05" fill="#fca99a"/>
<rect x="32.40" y="429.30" width="21.02" height="1.05" fill="#fcb2a4"/>
<rect x="32.40" y="430.30" width="21.02" height="1.05" fill="#f4f1fe"/>
<rect x="32.40" y="431.30" width="21.02" height="1.05" fill="#fee7e2"/>
<rect x="32.40" y="432.30" width="21.02" height="1.05" fill="#fff0ed"/>
<rect x="32.40" y="433.30" width="21.02" height="1.05" fill="#fffefe"/>
<rect x="32.40" y="434.30" width="21.02" height="1.05" fill="#feede8"/>
<rect x="32.40" y="435.30" width="21.02" height="1.05" fill="#ffffff"/>
<rect x="32.40" y="436.30" width="21.02" height="1.05" fill="#fed7ce"/>
<rect x="32.40" y="437.30" width="21.02" height="1.05" fill="#fff3f0"/>
<rect x="32.40" y="438.30" width="21.02" height="1.05" fill="#fdc2b5"/>
<rect x="32.40" y="439.30" width="21.02" height="1.05" fill="#fcb6a8"/>
<rect x="32.40" y="440.30" width="21.02" height="1.05" fill="#fba394"/>
<rect x="32.40" y="441.30" width="21.02" height="1.05" fill="#fba696"/>
<rect x="32.40" y="442.30" width="21.02" height="1.05" fill="#fdc9be"/>
<rect x="32.40" y="443.30" width="21.02" height="1.05" fill="#feeae5"/>
<rect x="32.40" y="444.30" width="21.02" height="1.05" fill="#feede9"/>
<rect x="32.40" y="445.30" width="21.02" height="1.05" fill="#feede9"/>
<rect x="32.40" y="446.30" width="21.02" height="1.05" fill="#ddd3fb"/>
<rect x="32.40" y="447.30" width="21.02" height="1.05" fill="#ece6fe"/>
<rect x="32.40" y="448.30" width="21.02" height="1.05" fill="#e9e1fd"/>
<rect x="32.40" y="449.30" width="21.02" height="1.05" fill="#f3effe"/>
<rect x="32.40" y="450.30" width="21.02" height="1.05" fill="#fcbaad"/>
<rect x="32.40" y="451.30" width="21.02" height="1.05" fill="#fdc2b6"/>
<rect x="32.40" y="452.30" width="21.02" height="1.05" fill="#fdbfb3"/>
<rect x="32.40" y="453.30" width="21.02" height="1.05" fill="#fcb9ac"/>
<rect x="32.40" y="454.30" width="21.02" height="1.05" fill="#fcafa0"/>
<rect x="32.40" y="455.30" width="21.02" height="1.05" fill="#fdbeb1"/>
<rect x="32.40" y="456.30" width="21.02" height="1.05" fill="#fdc2b6"/>
<rect x="32.40" y="457.30" width="21.02" height="1.05" fill="#fdd4cb"/>
<rect x="32.40" y="458.30" width="21.02" height="1.05" fill="#fcb4a6"/>
<rect x="32.40" y="459.30" width="21.02" height="1.05" fill="#fba192"/>
<rect x="32.40" y="460.30" width="21.02" height="1.05" fill="#fdc5b9"/>
<rect x="32.40" y="461.30" width="21.02" height="1.05" fill="#fdd1c7"/>
<rect x="32.40" y="462.30" width="21.02" height="1.05" fill="#fee1da"/>
<rect x="32.40" y="463.30" width="21.02" height="1.05" fill="#fed7cf"/>
<rect x="32.40" y="464.30" width="21.02" height="1.05" fill="#fdd2c8"/>
<rect x="32.40" y="465.30" width="21.02" height="1.05" fill="#fcb1a3"/>
<rect x="32.40" y="466.30" width="21.02" height="1.05" fill="#fdbcaf"/>
<rect x="32.40" y="467.30" width="21.02" height="1.05" fill="#fdd1c7"/>
<rect x="32.40" y="468.30" width="21.02" height="1.05" fill="#fff6f4"/>
<rect x="32.40" y="469.30" width="21.02" height="1.05" fill="#fdd0c6"/>
<rect x="32.40" y="470.30" width="21.02" height="1.05" fill="#fed5cd"/>
<rect x="32.40" y="471.30" width="21.02" height="1.05" fill="#fff0ec"/>
<rect x="32.40" y="472.30" width="21.02" height="1.05" fill="#fee1da"/>
<rect x="32.40" y="473.30" width="21.02" height="1.05" fill="#fff8f7"/>
<rect x="32.40" y="474.30" width="21.02" height="1.05" fill="#fcb6a8"/>
<rect x="32.40" y="475.30" width="21.02" height="1.05" fill="#fcb6a8"/>
<rect x="32.40" y="476.30" width="21.02" height="1.05" fill="#fdbeb1"/>
<rect x="32.40" y="477.30" width="21.02" height="1.05" fill="#fdcdc3"/>
<rect x="32.40" y="478.30" width="21.02" height="1.05" fill="#fff3f0"/>
<rect x="32.40" y="479.30" width="21.02" height="1.05" fill="#fee8e3"/>
<rect x="32.40" y="480.30" width="21.02" height="1.05" fill="#d6cbfa"/>
<rect x="32.40" y="481.30" width="21.02" height="1.05" fill="#ebe4fe"/>
<rect x="32.40" y="482.30" width="21.02" height="1.05" fill="#d2c6fa"/>
<rect x="32.40" y="483.30" width="21.02" height="1.05" fill="#d4c9fa"/>
<rect x="32.40" y="484.30" width="21.02" height="1.05" fill="#f1ecfe"/>
<rect x="53.22" y="311.30" width="21.02" height="1.05" fill="#fb9989"/>
<rect x="53.22" y="312.30" width="21.02" height="1.05" fill="#fb9e8e"/>
<rect x="53.22" y="313.30" width="21.02" height="1.05" fill="#fcb6a8"/>
<rect x="53.22" y="314.30" width="21.02" height="1.05" fill="#fb9a8a"/>
<rect x="53.22" y="315.30" width="21.02" height="1.05" fill="#fa8979"/>
<rect x="53.22" y="316.30" width="21.02" height="1.05" fill="#fba293"/>
<rect x="53.22" y="317.30" width="21.02" height="1.05" fill="#fcab9b"/>
<rect x="53.22" y="318.30" width="21.02" height="1.05" fill="#fcafa0"/>
<rect x="53.22" y="319.30" width="21.02" height="1.05" fill="#fcb9ab"/>
<rect x="53.22" y="320.30" width="21.02" height="1.05" fill="#fcb6a8"/>
<rect x="53.22" y="321.30" width="21.02" height="1.05" fill="#fa9383"/>
<rect x="53.22" y="322.30" width="21.02" height="1.05" fill="#fa8879"/>
<rect x="53.22" y="323.30" width="21.02" height="1.05" fill="#f86658"/>
<rect x="53.22" y="324.30" width="21.02" height="1.05" fill="#fa7f70"/>
<rect x="53.22" y="325.30" width="21.02" height="1.05" fill="#fa8e7e"/>
<rect x="53.22" y="326.30" width="21.02" height="1.05" fill="#fba595"/>
<rect x="53.22" y="327.30" width="21.02" height="1.05" fill="#fba292"/>
<rect x="53.22" y="328.30" width="21.02" height="1.05" fill="#fcb4a6"/>
<rect x="53.22" y="329.30" width="21.02" height="1.05" fill="#fdc5b9"/>
<rect x="53.22" y="330.30" width="21.02" height="1.05" fill="#fca697"/>
<rect x="53.22" y="331.30" width="21.02" height="1.05" fill="#fa8575"/>
<rect x="53.22" y="332.30" width="21.02" height="1.05" fill="#fa7d6e"/>
<rect x="53.22" y="333.30" width="21.02" height="1.05" fill="#f96f60"/>
<rect x="53.22" y="334.30" width="21.02" height="1.05" fill="#fa7d6e"/>
<rect x="53.22" y="335.30" width="21.02" height="1.05" fill="#fb9888"/>
<rect x="53.22" y="336.30" width="21.02" height="1.05" fill="#fb9787"/>
<rect x="53.22" y="337.30" width="21.02" height="1.05" fill="#fb9e8f"/>
<rect x="53.22" y="338.30" width="21.02" height="1.05" fill="#fcb0a1"/>
<rect x="53.22" y="339.30" width="21.02" height="1.05" fill="#fdc1b4"/>
<rect x="53.22" y="340.30" width="21.02" height="1.05" fill="#fff2ef"/>
<rect x="53.22" y="341.30" width="21.02" height="1.05" fill="#feddd6"/>
<rect x="53.22" y="342.30" width="21.02" height="1.05" fill="#fdd2c9"/>
<rect x="53.22" y="343.30" width="21.02" height="1.05" fill="#fdd4cb"/>
<rect x="53.22" y="344.30" width="21.02" height="1.05" fill="#fcbaad"/>
<rect x="53.22" y="345.30" width="21.02" height="1.05" fill="#fdcfc5"/>
<rect x="53.22" y="346.30" width="21.02" height="1.05" fill="#fdccc1"/>
<rect x="53.22" y="347.30" width="21.02" height="1.05" fill="#fdc0b4"/>
<rect x="53.22" y="348.30" width="21.02" height="1.05" fill="#fed6ce"/>
<rect x="53.22" y="349.30" width="21.02" height="1.05" fill="#fff7f5"/>
<rect x="53.22" y="350.30" width="21.02" height="1.05" fill="#feefec"/>
<rect x="53.22" y="351.30" width="21.02" height="1.05" fill="#fff9f8"/>
<rect x="53.22" y="352.30" width="21.02" height="1.05" fill="#feddd5"/>
<rect x="53.22" y="353.30" width="21.02" height="1.05" fill="#feddd6"/>
<rect x="53.22" y="354.30" width="21.02" height="1.05" fill="#fed5cc"/>
<rect x="53.22" y="355.30" width="21.02" height="1.05" fill="#fdd3ca"/>
<rect x="53.22" y="356.30" width="21.02" height="1.05" fill="#fffeff"/>
<rect x="53.22" y="357.30" width="21.02" height="1.05" fill="#feeae5"/>
<rect x="53.22" y="358.30" width="21.02" height="1.05" fill="#fff6f4"/>
<rect x="53.22" y="359.30" width="21.02" height="1.05" fill="#fffefe"/>
<rect x="53.22" y="360.30" width="21.02" height="1.05" fill="#fed7ce"/>
<rect x="53.22" y="361.30" width="21.02" height="1.05" fill="#fdc6bb"/>
<rect x="53.22" y="362.30" width="21.02" height="1.05" fill="#fcbaad"/>
<rect x="53.22" y="363.30" width="21.02" height="1.05" fill="#f96e5f"/>
<rect x="53.22" y="364.30" width="21.02" height="1.05" fill="#fb9d8d"/>
<rect x="53.22" y="365.30" width="21.02" height="1.05" fill="#fba191"/>
<rect x="53.22" y="366.30" width="21.02" height="1.05" fill="#fdc0b4"/>
<rect x="53.22" y="367.30" width="21.02" height="1.05" fill="#fcad9e"/>
<rect x="53.22" y="368.30" width="21.02" height="1.05" fill="#fa9484"/>
<rect x="53.22" y="369.30" width="21.02" height="1.05" fill="#fb9f90"/>
<rect x="53.22" y="370.30" width="21.02" height="1.05" fill="#fa9383"/>
<rect x="53.22" y="371.30" width="21.02" height="1.05" fill="#fa8c7c"/>
<rect x="53.22" y="372.30" width="21.02" height="1.05" fill="#f97969"/>
<rect x="53.22" y="373.30" width="21.02" height="1.05" fill="#fa9283"/>
<rect x="53.22" y="374.30" width="21.02" height="1.05" fill="#fb9f90"/>
<rect x="53.22" y="375.30" width="21.02" height="1.05" fill="#fdc2b6"/>
<rect x="53.22" y="376.30" width="21.02" height="1.05" fill="#fb9b8c"/>
<rect x="53.22" y="377.30" width="21.02" height="1.05" fill="#fa9080"/>
<rect x="53.22" y="378.30" width="21.02" height="1.05" fill="#fba090"/>
<rect x="53.22" y="379.30" width="21.02" height="1.05" fill="#fba293"/>
<rect x="53.22" y="380.30" width="21.02" height="1.05" fill="#fba596"/>
<rect x="53.22" y="381.30" width="21.02" height="1.05" fill="#fba696"/>
<rect x="53.22" y="382.30" width="21.02" height="1.05" fill="#fcad9e"/>
<rect x="53.22" y="383.30" width="21.02" height="1.05" fill="#fca99a"/>
<rect x="53.22" y="384.30" width="21.02" height="1.05" fill="#fcbbae"/>
<rect x="53.22" y="385.30" width="21.02" height="1.05" fill="#fcbbae"/>
<rect x="53.22" y="386.30" width="21.02" height="1.05" fill="#fa9484"/>
<rect x="53.22" y="387.30" width="21.02" height="1.05" fill="#fa9181"/>
<rect x="53.22" y="388.30" width="21.02" height="1.05" fill="#fb9888"/>
<rect x="53.22" y="389.30" width="21.02" height="1.05" fill="#fba192"/>
<rect x="53.22" y="390.30" width="21.02" height="1.05" fill="#fba192"/>
<rect x="53.22" y="391.30" width="21.02" height="1.05" fill="#fb9c8c"/>
<rect x="53.22" y="392.30" width="21.02" height="1.05" fill="#fcab9c"/>
<rect x="53.22" y="393.30" width="21.02" height="1.05" fill="#fba495"/>
<rect x="53.22" y="394.30" width="21.02" height="1.05" fill="#fb9f90"/>
<rect x="53.22" y="395.30" width="21.02" height="1.05" fill="#fed9d1"/>
<rect x="53.22" y="396.30" width="21.02" height="1.05" fill="#fedfd8"/>
<rect x="53.22" y="397.30" width="21.02" height="1.05" fill="#fee8e3"/>
<rect x="53.22" y="398.30" width="21.02" height="1.05" fill="#d4c8fa"/>
<rect x="53.22" y="399.30" width="21.02" height="1.05" fill="#ebe5fe"/>
<rect x="53.22" y="400.30" width="21.02" height="1.05" fill="#cdc0f9"/>
<rect x="53.22" y="401.30" width="21.02" height="1.05" fill="#d8cdfa"/>
<rect x="53.22" y="402.30" width="21.02" height="1.05" fill="#faf8ff"/>
<rect x="53.22" y="403.30" width="21.02" height="1.05" fill="#faf8ff"/>
<rect x="53.22" y="404.30" width="21.02" height="1.05" fill="#fffbfa"/>
<rect x="53.22" y="405.30" width="21.02" height="1.05" fill="#fee1db"/>
<rect x="53.22" y="406.30" width="21.02" height="1.05" fill="#fee6e0"/>
<rect x="53.22" y="407.30" width="21.02" height="1.05" fill="#feece8"/>
<rect x="53.22" y="408.30" width="21.02" height="1.05" fill="#fff8f6"/>
<rect x="53.22" y="409.30" width="21.02" height="1.05" fill="#fff6f4"/>
<rect x="53.22" y="410.30" width="21.02" height="1.05" fill="#fee3dc"/>
<rect x="53.22" y="411.30" width="21.02" height="1.05" fill="#feefeb"/>
<rect x="53.22" y="412.30" width="21.02" height="1.05" fill="#fdfcff"/>
<rect x="53.22" y="413.30" width="21.02" height="1.05" fill="#f6f2fe"/>
<rect x="53.22" y="414.30" width="21.02" height="1.05" fill="#f3effe"/>
<rect x="53.22" y="415.30" width="21.02" height="1.05" fill="#efeafe"/>
<rect x="53.22" y="416.30" width="21.02" height="1.05" fill="#fff4f2"/>
<rect x="53.22" y="417.30" width="21.02" height="1.05" fill="#feebe7"/>
<rect x="53.22" y="418.30" width="21.02" height="1.05" fill="#e4dcfc"/>
<rect x="53.22" y="419.30" width="21.02" height="1.05" fill="#f6f2fe"/>
<rect x="53.22" y="420.30" width="21.02" height="1.05" fill="#e7e0fd"/>
<rect x="53.22" y="421.30" width="21.02" height="1.05" fill="#f0ebfe"/>
<rect x="53.22" y="422.30" width="21.02" height="1.05" fill="#f4f1fe"/>
<rect x="53.22" y="423.30" width="21.02" height="1.05" fill="#fdd4cb"/>
<rect x="53.22" y="424.30" width="21.02" height="1.05" fill="#fee5df"/>
<rect x="53.22" y="425.30" width="21.02" height="1.05" fill="#fee5df"/>
<rect x="53.22" y="426.30" width="21.02" height="1.05" fill="#fdccc1"/>
<rect x="53.22" y="427.30" width="21.02" height="1.05" fill="#fcb7a9"/>
<rect x="53.22" y="428.30" width="21.02" height="1.05" fill="#f4f0fe"/>
<rect x="53.22" y="429.30" width="21.02" height="1.05" fill="#fffdfc"/>
<rect x="53.22" y="430.30" width="21.02" height="1.05" fill="#faf8ff"/>
<rect x="53.22" y="431.30" width="21.02" height="1.05" fill="#f6f2fe"/>
<rect x="53.22" y="432.30" width="21.02" height="1.05" fill="#f2edfe"/>
<rect x="53.22" y="433.30" width="21.02" height="1.05" fill="#f2eefe"/>
<rect x="53.22" y="434.30" width="21.02" height="1.05" fill="#e0d7fc"/>
<rect x="53.22" y="435.30" width="21.02" height="1.05" fill="#e0d7fc"/>
<rect x="53.22" y="436.30" width="21.02" height="1.05" fill="#ddd3fb"/>
<rect x="53.22" y="437.30" width="21.02" height="1.05" fill="#f1ecfe"/>
<rect x="53.22" y="438.30" width="21.02" height="1.05" fill="#feede9"/>
<rect x="53.22" y="439.30" width="21.02" height="1.05" fill="#fdcfc6"/>
<rect x="53.22" y="440.30" width="21.02" height="1.05" fill="#fdc2b6"/>
<rect x="53.22" y="441.30" width="21.02" height="1.05" fill="#fee4de"/>
<rect x="53.22" y="442.30" width="21.02" height="1.05" fill="#fee5df"/>
<rect x="53.22" y="443.30" width="21.02" height="1.05" fill="#feeeeb"/>
<rect x="53.22" y="444.30" width="21.02" height="1.05" fill="#fdc9bd"/>
<rect x="53.22" y="445.30" width="21.02" height="1.05" fill="#fdc8bd"/>
<rect x="53.22" y="446.30" width="21.02" height="1.05" fill="#f1ecfe"/>
<rect x="53.22" y="447.30" width="21.02" height="1.05" fill="#faf8ff"/>
<rect x="53.22" y="448.30" width="21.02" height="1.05" fill="#fbfaff"/>
<rect x="53.22" y="449.30" width="21.02" height="1.05" fill="#e4dcfc"/>
<rect x="53.22" y="450.30" width="21.02" height="1.05" fill="#e4dcfc"/>
<rect x="53.22" y="451.30" width="21.02" height="1.05" fill="#e7e0fd"/>
<rect x="53.22" y="452.30" width="21.02" height="1.05" fill="#ede6fe"/>
<rect x="53.22" y="453.30" width="21.02" height="1.05" fill="#f0ebfe"/>
<rect x="53.22" y="454.30" width="21.02" height="1.05" fill="#ede7fe"/>
<rect x="53.22" y="455.30" width="21.02" height="1.05" fill="#f1ecfe"/>
<rect x="53.22" y="456.30" width="21.02" height="1.05" fill="#ebe4fd"/>
<rect x="53.22" y="457.30" width="21.02" height="1.05" fill="#e2dafc"/>
<rect x="53.22" y="458.30" width="21.02" height="1.05" fill="#f9f8ff"/>
<rect x="53.22" y="459.30" width="21.02" height="1.05" fill="#f9f7ff"/>
<rect x="53.22" y="460.30" width="21.02" height="1.05" fill="#faf8ff"/>
<rect x="53.22" y="461.30" width="21.02" height="1.05" fill="#e4dcfc"/>
<rect x="53.22" y="462.30" width="21.02" height="1.05" fill="#e8e1fd"/>
<rect x="53.22" y="463.30" width="21.02" height="1.05" fill="#f5f2fe"/>
<rect x="53.22" y="464.30" width="21.02" height="1.05" fill="#e4dcfc"/>
<rect x="53.22" y="465.30" width="21.02" height="1.05" fill="#d4c8fa"/>
<rect x="53.22" y="466.30" width="21.02" height="1.05" fill="#ccbff9"/>
<rect x="53.22" y="467.30" width="21.02" height="1.05" fill="#d1c5fa"/>
<rect x="53.22" y="468.30" width="21.02" height="1.05" fill="#cec1f9"/>
<rect x="53.22" y="469.30" width="21.02" height="1.05" fill="#d0c4f9"/>
<rect x="53.22" y="470.30" width="21.02" height="1.05" fill="#dfd5fb"/>
<rect x="53.22" y="471.30" width="21.02" height="1.05" fill="#d1c5fa"/>
<rect x="53.22" y="472.30" width="21.02" height="1.05" fill="#e4dcfc"/>
<rect x="53.22" y="473.30" width="21.02" height="1.05" fill="#cfc3f9"/>
<rect x="53.22" y="474.30" width="21.02" height="1.05" fill="#c3b3f8"/>
<rect x="53.22" y="475.30" width="21.02" height="1.05" fill="#d0c4f9"/>
<rect x="53.22" y="476.30" width="21.02" height="1.05" fill="#c2b2f8"/>
<rect x="53.22" y="477.30" width="21.02" height="1.05" fill="#c2b3f8"/>
<rect x="53.22" y="478.30" width="21.02" height="1.05" fill="#d2c7fa"/>
<rect x="53.22" y="479.30" width="21.02" height="1.05" fill="#e0d7fc"/>
<rect x="53.22" y="480.30" width="21.02" height="1.05" fill="#c1b1f8"/>
<rect x="53.22" y="481.30" width="21.02" height="1.05" fill="#cdc0f9"/>
<rect x="53.22" y="482.30" width="21.02" height="1.05" fill="#e6defd"/>
<rect x="53.22" y="483.30" width="21.02" height="1.05" fill="#ebe4fd"/>
<rect x="53.22" y="484.30" width="21.02" height="1.05" fill="#dad0fb"/>
<rect x="74.05" y="311.30" width="21.02" height="1.05" fill="#fb9989"/>
<rect x="74.05" y="312.30" width="21.02" height="1.05" fill="#fcb8aa"/>
<rect x="74.05" y="313.30" width="21.02" height="1.05" fill="#fdc5b9"/>
<rect x="74.05" y="314.30" width="21.02" height="1.05" fill="#fdbfb2"/>
<rect x="74.05" y="315.30" width="21.02" height="1.05" fill="#fcbaad"/>
<rect x="74.05" y="316.30" width="21.02" height="1.05" fill="#fcb7a9"/>
<rect x="74.05" y="317.30" width="21.02" height="1.05" fill="#fb9e8f"/>
<rect x="74.05" y="318.30" width="21.02" height="1.05" fill="#fcaa9a"/>
<rect x="74.05" y="319.30" width="21.02" height="1.05" fill="#fdc2b6"/>
<rect x="74.05" y="320.30" width="21.02" height="1.05" fill="#fca899"/>
<rect x="74.05" y="321.30" width="21.02" height="1.05" fill="#fdbcaf"/>
<rect x="74.05" y="322.30" width="21.02" height="1.05" fill="#fdbcb0"/>
<rect x="74.05" y="323.30" width="21.02" height="1.05" fill="#fcb8aa"/>
<rect x="74.05" y="324.30" width="21.02" height="1.05" fill="#fcb9ab"/>
<rect x="74.05" y="325.30" width="21.02" height="1.05" fill="#fee4de"/>
<rect x="74.05" y="326.30" width="21.02" height="1.05" fill="#feded6"/>
<rect x="74.05" y="327.30" width="21.02" height="1.05" fill="#fcb9ac"/>
<rect x="74.05" y="328.30" width="21.02" height="1.05" fill="#fdcdc3"/>
<rect x="74.05" y="329.30" width="21.02" height="1.05" fill="#fdd0c7"/>
<rect x="74.05" y="330.30" width="21.02" height="1.05" fill="#fdc1b4"/>
<rect x="74.05" y="331.30" width="21.02" height="1.05" fill="#fdbdb0"/>
<rect x="74.05" y="332.30" width="21.02" height="1.05" fill="#fcbbae"/>
<rect x="74.05" y="333.30" width="21.02" height="1.05" fill="#fcb8ab"/>
<rect x="74.05" y="334.30" width="21.02" height="1.05" fill="#feded7"/>
<rect x="74.05" y="335.30" width="21.02" height="1.05" fill="#fee5df"/>
<rect x="74.05" y="336.30" width="21.02" height="1.05" fill="#fed9d1"/>
<rect x="74.05" y="337.30" width="21.02" height="1.05" fill="#fdcfc5"/>
<rect x="74.05" y="338.30" width="21.02" height="1.05" fill="#fdbdb0"/>
<rect x="74.05" y="339.30" width="21.02" height="1.05" fill="#fdbfb3"/>
<rect x="74.05" y="340.30" width="21.02" height="1.05" fill="#fedfd8"/>
<rect x="74.05" y="341.30" width="21.02" height="1.05" fill="#fee1db"/>
<rect x="74.05" y="342.30" width="21.02" height="1.05" fill="#fee7e2"/>
<rect x="74.05" y="343.30" width="21.02" height="1.05" fill="#fee2dc"/>
<rect x="74.05" y="344.30" width="21.02" height="1.05" fill="#fedad2"/>
<rect x="74.05" y="345.30" width="21.02" height="1.05" fill="#fee5df"/>
<rect x="74.05" y="346.30" width="21.02" height="1.05" fill="#fff4f1"/>
<rect x="74.05" y="347.30" width="21.02" height="1.05" fill="#fffdfc"/>
<rect x="74.05" y="348.30" width="21.02" height="1.05" fill="#fedfd8"/>
<rect x="74.05" y="349.30" width="21.02" height="1.05" fill="#fdd1c7"/>
<rect x="74.05" y="350.30" width="21.02" height="1.05" fill="#fdcdc3"/>
<rect x="74.05" y="351.30" width="21.02" height="1.05" fill="#fdccc2"/>
<rect x="74.05" y="352.30" width="21.02" height="1.05" fill="#fdccc2"/>
<rect x="74.05" y="353.30" width="21.02" height="1.05" fill="#fed7cf"/>
<rect x="74.05" y="354.30" width="21.02" height="1.05" fill="#fed5cc"/>
<rect x="74.05" y="355.30" width="21.02" height="1.05" fill="#feede9"/>
<rect x="74.05" y="356.30" width="21.02" height="1.05" fill="#feede9"/>
<rect x="74.05" y="357.30" width="21.02" height="1.05" fill="#fff7f5"/>
<rect x="74.05" y="358.30" width="21.02" height="1.05" fill="#fee3dc"/>
<rect x="74.05" y="359.30" width="21.02" height="1.05" fill="#feeeeb"/>
<rect x="74.05" y="360.30" width="21.02" height="1.05" fill="#feede9"/>
<rect x="74.05" y="361.30" width="21.02" height="1.05" fill="#fee3dc"/>
<rect x="74.05" y="362.30" width="21.02" height="1.05" fill="#fdd2c8"/>
<rect x="74.05" y="363.30" width="21.02" height="1.05" fill="#fee6e0"/>
<rect x="74.05" y="364.30" width="21.02" height="1.05" fill="#fff7f5"/>
<rect x="74.05" y="365.30" width="21.02" height="1.05" fill="#fee1da"/>
<rect x="74.05" y="366.30" width="21.02" height="1.05" fill="#fff7f5"/>
<rect x="74.05" y="367.30" width="21.02" height="1.05" fill="#fee7e2"/>
<rect x="74.05" y="368.30" width="21.02" height="1.05" fill="#fed9d0"/>
<rect x="74.05" y="369.30" width="21.02" height="1.05" fill="#fed6ce"/>
<rect x="74.05" y="370.30" width="21.02" height="1.05" fill="#fff0ec"/>
<rect x="74.05" y="371.30" width="21.02" height="1.05" fill="#fed6cd"/>
<rect x="74.05" y="372.30" width="21.02" height="1.05" fill="#fedad2"/>
<rect x="74.05" y="373.30" width="21.02" height="1.05" fill="#fee2dc"/>
<rect x="74.05" y="374.30" width="21.02" height="1.05" fill="#fdbdb0"/>
<rect x="74.05" y="375.30" width="21.02" height="1.05" fill="#fdbcaf"/>
<rect x="74.05" y="376.30" width="21.02" height="1.05" fill="#fa8a7a"/>
<rect x="74.05" y="377.30" width="21.02" height="1.05" fill="#fca697"/>
<rect x="74.05" y="378.30" width="21.02" height="1.05" fill="#fdc0b4"/>
<rect x="74.05" y="379.30" width="21.02" height="1.05" fill="#fdc6bb"/>
<rect x="74.05" y="380.30" width="21.02" height="1.05" fill="#fcb3a5"/>
<rect x="74.05" y="381.30" width="21.02" height="1.05" fill="#fdc1b5"/>
<rect x="74.05" y="382.30" width="21.02" height="1.05" fill="#fdc2b6"/>
<rect x="74.05" y="383.30" width="21.02" height="1.05" fill="#fdc1b5"/>
<rect x="74.05" y="384.30" width="21.02" height="1.05" fill="#fed5cc"/>
<rect x="74.05" y="385.30" width="21.02" height="1.05" fill="#fdd1c8"/>
<rect x="74.05" y="386.30" width="21.02" height="1.05" fill="#fed8cf"/>
<rect x="74.05" y="387.30" width="21.02" height="1.05" fill="#fee6e1"/>
<rect x="74.05" y="388.30" width="21.02" height="1.05" fill="#fdd0c7"/>
<rect x="74.05" y="389.30" width="21.02" height="1.05" fill="#fdc8bc"/>
<rect x="74.05" y="390.30" width="21.02" height="1.05" fill="#fdcbc0"/>
<rect x="74.05" y="391.30" width="21.02" height="1.05" fill="#fed9d1"/>
<rect x="74.05" y="392.30" width="21.02" height="1.05" fill="#fff5f3"/>
<rect x="74.05" y="393.30" width="21.02" height="1.05" fill="#fedbd4"/>
<rect x="74.05" y="394.30" width="21.02" height="1.05" fill="#fed8cf"/>
<rect x="74.05" y="395.30" width="21.02" height="1.05" fill="#ded5fb"/>
<rect x="74.05" y="396.30" width="21.02" height="1.05" fill="#eae3fd"/>
<rect x="74.05" y="397.30" width="21.02" height="1.05" fill="#dcd2fb"/>
<rect x="74.05" y="398.30" width="21.02" height="1.05" fill="#e9e2fd"/>
<rect x="74.05" y="399.30" width="21.02" height="1.05" fill="#f1ecfe"/>
<rect x="74.05" y="400.30" width="21.02" height="1.05" fill="#f7f4ff"/>
<rect x="74.05" y="401.30" width="21.02" height="1.05" fill="#f8f6ff"/>
<rect x="74.05" y="402.30" width="21.02" height="1.05" fill="#f9f7ff"/>
<rect x="74.05" y="403.30" width="21.02" height="1.05" fill="#ece6fe"/>
<rect x="74.05" y="404.30" width="21.02" height="1.05" fill="#ede6fe"/>
<rect x="74.05" y="405.30" width="21.02" height="1.05" fill="#ebe5fe"/>
<rect x="74.05" y="406.30" width="21.02" height="1.05" fill="#eee8fe"/>
<rect x="74.05" y="407.30" width="21.02" height="1.05" fill="#f4f1fe"/>
<rect x="74.05" y="408.30" width="21.02" height="1.05" fill="#fbfaff"/>
<rect x="74.05" y="409.30" width="21.02" height="1.05" fill="#feeeea"/>
<rect x="74.05" y="410.30" width="21.02" height="1.05" fill="#e5ddfc"/>
<rect x="74.05" y="411.30" width="21.02" height="1.05" fill="#f2edfe"/>
<rect x="74.05" y="412.30" width="21.02" height="1.05" fill="#f2edfe"/>
<rect x="74.05" y="413.30" width="21.02" height="1.05" fill="#feece7"/>
<rect x="74.05" y="414.30" width="21.02" height="1.05" fill="#feebe7"/>
<rect x="74.05" y="415.30" width="21.02" height="1.05" fill="#dfd6fb"/>
<rect x="74.05" y="416.30" width="21.02" height="1.05" fill="#e8e0fd"/>
<rect x="74.05" y="417.30" width="21.02" height="1.05" fill="#e0d7fc"/>
<rect x="74.05" y="418.30" width="21.02" height="1.05" fill="#efeafe"/>
<rect x="74.05" y="419.30" width="21.02" height="1.05" fill="#ddd4fb"/>
<rect x="74.05" y="420.30" width="21.02" height="1.05" fill="#e0d7fc"/>
<rect x="74.05" y="421.30" width="21.02" height="1.05" fill="#e1d8fc"/>
<rect x="74.05" y="422.30" width="21.02" height="1.05" fill="#e2d9fc"/>
<rect x="74.05" y="423.30" width="21.02" height="1.05" fill="#f2eefe"/>
<rect x="74.05" y="424.30" width="21.02" height="1.05" fill="#dfd6fc"/>
<rect x="74.05" y="425.30" width="21.02" height="1.05" fill="#f2edfe"/>
<rect x="74.05" y="426.30" width="21.02" height="1.05" fill="#ffffff"/>
<rect x="74.05" y="427.30" width="21.02" height="1.05" fill="#fcfbff"/>
<rect x="74.05" y="428.30" width="21.02" height="1.05" fill="#f1ecfe"/>
<rect x="74.05" y="429.30" width="21.02" height="1.05" fill="#f7f4ff"/>
<rect x="74.05" y="430.30" width="21.02" height="1.05" fill="#fdfdff"/>
<rect x="74.05" y="431.30" width="21.02" height="1.05" fill="#faf8ff"/>
<rect x="74.05" y="432.30" width="21.02" height="1.05" fill="#f9f8ff"/>
<rect x="74.05" y="433.30" width="21.02" height="1.05" fill="#fff0ed"/>
<rect x="74.05" y="434.30" width="21.02" height="1.05" fill="#f6f3fe"/>
<rect x="74.05" y="435.30" width="21.02" height="1.05" fill="#f2eefe"/>
<rect x="74.05" y="436.30" width="21.02" height="1.05" fill="#dfd5fb"/>
<rect x="74.05" y="437.30" width="21.02" height="1.05" fill="#e3dbfc"/>
<rect x="74.05" y="438.30" width="21.02" height="1.05" fill="#e5ddfd"/>
<rect x="74.05" y="439.30" width="21.02" height="1.05" fill="#e3dbfc"/>
<rect x="74.05" y="440.30" width="21.02" height="1.05" fill="#e6defd"/>
<rect x="74.05" y="441.30" width="21.02" height="1.05" fill="#fffbfa"/>
<rect x="74.05" y="442.30" width="21.02" height="1.05" fill="#fcfbff"/>
<rect x="74.05" y="443.30" width="21.02" height="1.05" fill="#faf8ff"/>
<rect x="74.05" y="444.30" width="21.02" height="1.05" fill="#fee2dc"/>
<rect x="74.05" y="445.30" width="21.02" height="1.05" fill="#fff5f3"/>
<rect x="74.05" y="446.30" width="21.02" height="1.05" fill="#e4dcfc"/>
<rect x="74.05" y="447.30" width="21.02" height="1.05" fill="#efeafe"/>
<rect x="74.05" y="448.30" width="21.02" height="1.05" fill="#e5ddfc"/>
<rect x="74.05" y="449.30" width="21.02" height="1.05" fill="#fcfaff"/>
<rect x="74.05" y="450.30" width="21.02" height="1.05" fill="#eae3fd"/>
<rect x="74.05" y="451.30" width="21.02" height="1.05" fill="#e6defd"/>
<rect x="74.05" y="452.30" width="21.02" height="1.05" fill="#d6cbfa"/>
<rect x="74.05" y="453.30" width="21.02" height="1.05" fill="#e4dcfc"/>
<rect x="74.05" y="454.30" width="21.02" height="1.05" fill="#ddd3fb"/>
<rect x="74.05" y="455.30" width="21.02" height="1.05" fill="#e6defd"/>
<rect x="74.05" y="456.30" width="21.02" height="1.05" fill="#e7dffd"/>
<rect x="74.05" y="457.30" width="21.02" height="1.05" fill="#e4dcfc"/>
<rect x="74.05" y="458.30" width="21.02" height="1.05" fill="#f5f1fe"/>
<rect x="74.05" y="459.30" width="21.02" height="1.05" fill="#fcfbff"/>
<rect x="74.05" y="460.30" width="21.02" height="1.05" fill="#f8f5ff"/>
<rect x="74.05" y="461.30" width="21.02" height="1.05" fill="#ece5fe"/>
<rect x="74.05" y="462.30" width="21.02" height="1.05" fill="#e0d7fc"/>
<rect x="74.05" y="463.30" width="21.02" height="1.05" fill="#ece6fe"/>
<rect x="74.05" y="464.30" width="21.02" height="1.05" fill="#fff2f0"/>
<rect x="74.05" y="465.30" width="21.02" height="1.05" fill="#f8f6ff"/>
<rect x="74.05" y="466.30" width="21.02" height="1.05" fill="#ede7fe"/>
<rect x="74.05" y="467.30" width="21.02" height="1.05" fill="#e6dffd"/>
<rect x="74.05" y="468.30" width="21.02" height="1.05" fill="#ddd4fb"/>
<rect x="74.05" y="469.30" width="21.02" height="1.05" fill="#dacffb"/>
<rect x="74.05" y="470.30" width="21.02" height="1.05" fill="#c7b8f9"/>
<rect x="74.05" y="471.30" width="21.02" height="1.05" fill="#e0d8fc"/>
<rect x="74.05" y="472.30" width="21.02" height="1.05" fill="#dcd2fb"/>
<rect x="74.05" y="473.30" width="21.02" height="1.05" fill="#d2c7fa"/>
<rect x="74.05" y="474.30" width="21.02" height="1.05" fill="#c0b0f8"/>
<rect x="74.05" y="475.30" width="21.02" height="1.05" fill="#cdbff9"/>
<rect x="74.05" y="476.30" width="21.02" height="1.05" fill="#d0c4f9"/>
<rect x="74.05" y="477.30" width="21.02" height="1.05" fill="#c4b4f8"/>
<rect x="74.05" y="478.30" width="21.02" height="1.05" fill="#beaef8"/>
<rect x="74.05" y="479.30" width="21.02" height="1.05" fill="#c8baf9"/>
<rect x="74.05" y="480.30" width="21.02" height="1.05" fill="#dcd2fb"/>
<rect x="74.05" y="481.30" width="21.02" height="1.05" fill="#e2d9fc"/>
<rect x="74.05" y="482.30" width="21.02" height="1.05" fill="#dfd6fc"/>
<rect x="74.05" y="483.30" width="21.02" height="1.05" fill="#d7ccfa"/>
<rect x="74.05" y="484.30" width="21.02" height="1.05" fill="#dbd1fb"/>
<rect x="94.88" y="311.30" width="21.02" height="1.05" fill="#fb9989"/>
<rect x="94.88" y="312.30" width="21.02" height="1.05" fill="#fee3dd"/>
<rect x="94.88" y="313.30" width="21.02" height="1.05" fill="#faf8ff"/>
<rect x="94.88" y="314.30" width="21.02" height="1.05" fill="#f6f3fe"/>
<rect x="94.88" y="315.30" width="21.02" height="1.05" fill="#fff6f4"/>
<rect x="94.88" y="316.30" width="21.02" height="1.05" fill="#fdfcff"/>
<rect x="94.88" y="317.30" width="21.02" height="1.05" fill="#feede9"/>
<rect x="94.88" y="318.30" width="21.02" height="1.05" fill="#fffbfa"/>
<rect x="94.88" y="319.30" width="21.02" height="1.05" fill="#ffffff"/>
<rect x="94.88" y="320.30" width="21.02" height="1.05" fill="#f9f7ff"/>
<rect x="94.88" y="321.30" width="21.02" height="1.05" fill="#ebe4fd"/>
<rect x="94.88" y="322.30" width="21.02" height="1.05" fill="#e6dffd"/>
<rect x="94.88" y="323.30" width="21.02" height="1.05" fill="#fff3f1"/>
<rect x="94.88" y="324.30" width="21.02" height="1.05" fill="#fff2ef"/>
<rect x="94.88" y="325.30" width="21.02" height="1.05" fill="#fff2ef"/>
<rect x="94.88" y="326.30" width="21.02" height="1.05" fill="#feece7"/>
<rect x="94.88" y="327.30" width="21.02" height="1.05" fill="#feefeb"/>
<rect x="94.88" y="328.30" width="21.02" height="1.05" fill="#fee9e4"/>
<rect x="94.88" y="329.30" width="21.02" height="1.05" fill="#fffcfc"/>
<rect x="94.88" y="330.30" width="21.02" height="1.05" fill="#f0eafe"/>
<rect x="94.88" y="331.30" width="21.02" height="1.05" fill="#f8f6ff"/>
<rect x="94.88" y="332.30" width="21.02" height="1.05" fill="#f0ebfe"/>
<rect x="94.88" y="333.30" width="21.02" height="1.05" fill="#ded4fb"/>
<rect x="94.88" y="334.30" width="21.02" height="1.05" fill="#e2d9fc"/>
<rect x="94.88" y="335.30" width="21.02" height="1.05" fill="#e0d7fc"/>
<rect x="94.88" y="336.30" width="21.02" height="1.05" fill="#eee9fe"/>
<rect x="94.88" y="337.30" width="21.02" height="1.05" fill="#e5ddfc"/>
<rect x="94.88" y="338.30" width="21.02" height="1.05" fill="#dad0fb"/>
<rect x="94.88" y="339.30" width="21.02" height="1.05" fill="#dfd5fb"/>
<rect x="94.88" y="340.30" width="21.02" height="1.05" fill="#dbd1fb"/>
<rect x="94.88" y="341.30" width="21.02" height="1.05" fill="#d4c9fa"/>
<rect x="94.88" y="342.30" width="21.02" height="1.05" fill="#d4c8fa"/>
<rect x="94.88" y="343.30" width="21.02" height="1.05" fill="#d2c6fa"/>
<rect x="94.88" y="344.30" width="21.02" height="1.05" fill="#d4c9fa"/>
<rect x="94.88" y="345.30" width="21.02" height="1.05" fill="#ded4fb"/>
<rect x="94.88" y="346.30" width="21.02" height="1.05" fill="#eae3fd"/>
<rect x="94.88" y="347.30" width="21.02" height="1.05" fill="#c8baf9"/>
<rect x="94.88" y="348.30" width="21.02" height="1.05" fill="#ddd3fb"/>
<rect x="94.88" y="349.30" width="21.02" height="1.05" fill="#d6cbfa"/>
<rect x="94.88" y="350.30" width="21.02" height="1.05" fill="#cfc2f9"/>
<rect x="94.88" y="351.30" width="21.02" height="1.05" fill="#eee9fe"/>
<rect x="94.88" y="352.30" width="21.02" height="1.05" fill="#ded4fb"/>
<rect x="94.88" y="353.30" width="21.02" height="1.05" fill="#f0ebfe"/>
<rect x="94.88" y="354.30" width="21.02" height="1.05" fill="#eee8fe"/>
<rect x="94.88" y="355.30" width="21.02" height="1.05" fill="#d2c6fa"/>
<rect x="94.88" y="356.30" width="21.02" height="1.05" fill="#d7ccfa"/>
<rect x="94.88" y="357.30" width="21.02" height="1.05" fill="#ddd3fb"/>
<rect x="94.88" y="358.30" width="21.02" height="1.05" fill="#d5c9fa"/>
<rect x="94.88" y="359.30" width="21.02" height="1.05" fill="#b4a3f6"/>
<rect x="94.88" y="360.30" width="21.02" height="1.05" fill="#ac9af5"/>
<rect x="94.88" y="361.30" width="21.02" height="1.05" fill="#b2a1f6"/>
<rect x="94.88" y="362.30" width="21.02" height="1.05" fill="#a998f5"/>
<rect x="94.88" y="363.30" width="21.02" height="1.05" fill="#cbbef9"/>
<rect x="94.88" y="364.30" width="21.02" height="1.05" fill="#c3b4f8"/>
<rect x="94.88" y="365.30" width="21.02" height="1.05" fill="#bdacf8"/>
<rect x="94.88" y="366.30" width="21.02" height="1.05" fill="#baaaf7"/>
<rect x="94.88" y="367.30" width="21.02" height="1.05" fill="#b2a1f6"/>
<rect x="94.88" y="368.30" width="21.02" height="1.05" fill="#ece5fe"/>
<rect x="94.88" y="369.30" width="21.02" height="1.05" fill="#f3effe"/>
<rect x="94.88" y="370.30" width="21.02" height="1.05" fill="#f9f7ff"/>
<rect x="94.88" y="371.30" width="21.02" height="1.05" fill="#f4f0fe"/>
<rect x="94.88" y="372.30" width="21.02" height="1.05" fill="#f6f2fe"/>
<rect x="94.88" y="373.30" width="21.02" height="1.05" fill="#fdc6bb"/>
<rect x="94.88" y="374.30" width="21.02" height="1.05" fill="#fcb3a5"/>
<rect x="94.88" y="375.30" width="21.02" height="1.05" fill="#fdbcb0"/>
<rect x="94.88" y="376.30" width="21.02" height="1.05" fill="#fcb3a4"/>
<rect x="94.88" y="377.30" width="21.02" height="1.05" fill="#fdbeb2"/>
<rect x="94.88" y="378.30" width="21.02" height="1.05" fill="#e4dcfc"/>
<rect x="94.88" y="379.30" width="21.02" height="1.05" fill="#ede7fe"/>
<rect x="94.88" y="380.30" width="21.02" height="1.05" fill="#dfd6fc"/>
<rect x="94.88" y="381.30" width="21.02" height="1.05" fill="#fffaf9"/>
<rect x="94.88" y="382.30" width="21.02" height="1.05" fill="#faf8ff"/>
<rect x="94.88" y="383.30" width="21.02" height="1.05" fill="#f5f2fe"/>
<rect x="94.88" y="384.30" width="21.02" height="1.05" fill="#ece5fe"/>
<rect x="94.88" y="385.30" width="21.02" height="1.05" fill="#fefeff"/>
<rect x="94.88" y="386.30" width="21.02" height="1.05" fill="#fff3f0"/>
<rect x="94.88" y="387.30" width="21.02" height="1.05" fill="#fffefe"/>
<rect x="94.88" y="388.30" width="21.02" height="1.05" fill="#cfc2f9"/>
<rect x="94.88" y="389.30" width="21.02" height="1.05" fill="#ccbff9"/>
<rect x="94.88" y="390.30" width="21.02" height="1.05" fill="#d8cefa"/>
<rect x="94.88" y="391.30" width="21.02" height="1.05" fill="#d1c5fa"/>
<rect x="94.88" y="392.30" width="21.02" height="1.05" fill="#c4b5f8"/>
<rect x="94.88" y="393.30" width="21.02" height="1.05" fill="#bdadf8"/>
<rect x="94.88" y="394.30" width="21.02" height="1.05" fill="#bfaff8"/>
<rect x="94.88" y="395.30" width="21.02" height="1.05" fill="#aa99f5"/>
<rect x="94.88" y="396.30" width="21.02" height="1.05" fill="#a896f5"/>
<rect x="94.88" y="397.30" width="21.02" height="1.05" fill="#af9ef6"/>
<rect x="94.88" y="398.30" width="21.02" height="1.05" fill="#d7ccfa"/>
<rect x="94.88" y="399.30" width="21.02" height="1.05" fill="#e0d8fc"/>
<rect x="94.88" y="400.30" width="21.02" height="1.05" fill="#c1b1f8"/>
<rect x="94.88" y="401.30" width="21.02" height="1.05" fill="#c2b2f8"/>
<rect x="94.88" y="402.30" width="21.02" height="1.05" fill="#bfaef8"/>
<rect x="94.88" y="403.30" width="21.02" height="1.05" fill="#baa9f7"/>
<rect x="94.88" y="404.30" width="21.02" height="1.05" fill="#c7b8f9"/>
<rect x="94.88" y="405.30" width="21.02" height="1.05" fill="#bcabf7"/>
<rect x="94.88" y="406.30" width="21.02" height="1.05" fill="#b6a5f7"/>
<rect x="94.88" y="407.30" width="21.02" height="1.05" fill="#b2a0f6"/>
<rect x="94.88" y="408.30" width="21.02" height="1.05" fill="#b3a2f6"/>
<rect x="94.88" y="409.30" width="21.02" height="1.05" fill="#c6b8f9"/>
<rect x="94.88" y="410.30" width="21.02" height="1.05" fill="#cabcf9"/>
<rect x="94.88" y="411.30" width="21.02" height="1.05" fill="#b09ff6"/>
<rect x="94.88" y="412.30" width="21.02" height="1.05" fill="#ae9cf6"/>
<rect x="94.88" y="413.30" width="21.02" height="1.05" fill="#a795f5"/>
<rect x="94.88" y="414.30" width="21.02" height="1.05" fill="#baa9f7"/>
<rect x="94.88" y="415.30" width="21.02" height="1.05" fill="#bcacf8"/>
<rect x="94.88" y="416.30" width="21.02" height="1.05" fill="#c6b7f9"/>
<rect x="94.88" y="417.30" width="21.02" height="1.05" fill="#bfaff8"/>
<rect x="94.88" y="418.30" width="21.02" height="1.05" fill="#a18ef5"/>
<rect x="94.88" y="419.30" width="21.02" height="1.05" fill="#b2a1f6"/>
<rect x="94.88" y="420.30" width="21.02" height="1.05" fill="#a896f5"/>
<rect x="94.88" y="421.30" width="21.02" height="1.05" fill="#af9df6"/>
<rect x="94.88" y="422.30" width="21.02" height="1.05" fill="#9885f4"/>
<rect x="94.88" y="423.30" width="21.02" height="1.05" fill="#a08ef5"/>
<rect x="94.88" y="424.30" width="21.02" height="1.05" fill="#9986f4"/>
<rect x="94.88" y="425.30" width="21.02" height="1.05" fill="#9581f4"/>
<rect x="94.88" y="426.30" width="21.02" height="1.05" fill="#fffaf9"/>
<rect x="94.88" y="427.30" width="21.02" height="1.05" fill="#fff1ee"/>
<rect x="94.88" y="428.30" width="21.02" height="1.05" fill="#fdfcff"/>
<rect x="94.88" y="429.30" width="21.02" height="1.05" fill="#f0ebfe"/>
<rect x="94.88" y="430.30" width="21.02" height="1.05" fill="#dcd3fb"/>
<rect x="94.88" y="431.30" width="21.02" height="1.05" fill="#ebe4fd"/>
<rect x="94.88" y="432.30" width="21.02" height="1.05" fill="#fffaf9"/>
<rect x="94.88" y="433.30" width="21.02" height="1.05" fill="#fff9f7"/>
<rect x="94.88" y="434.30" width="21.02" height="1.05" fill="#eee8fe"/>
<rect x="94.88" y="435.30" width="21.02" height="1.05" fill="#f0eafe"/>
<rect x="94.88" y="436.30" width="21.02" height="1.05" fill="#fdfdff"/>
<rect x="94.88" y="437.30" width="21.02" height="1.05" fill="#fedfd8"/>
<rect x="94.88" y="438.30" width="21.02" height="1.05" fill="#d7ccfa"/>
<rect x="94.88" y="439.30" width="21.02" height="1.05" fill="#d1c5fa"/>
<rect x="94.88" y="440.30" width="21.02" height="1.05" fill="#ccbff9"/>
<rect x="94.88" y="441.30" width="21.02" height="1.05" fill="#b9a8f7"/>
<rect x="94.88" y="442.30" width="21.02" height="1.05" fill="#b6a5f7"/>
<rect x="94.88" y="443.30" width="21.02" height="1.05" fill="#d4c9fa"/>
<rect x="94.88" y="444.30" width="21.02" height="1.05" fill="#cfc2f9"/>
<rect x="94.88" y="445.30" width="21.02" height="1.05" fill="#d6cbfa"/>
<rect x="94.88" y="446.30" width="21.02" height="1.05" fill="#d4c9fa"/>
<rect x="94.88" y="447.30" width="21.02" height="1.05" fill="#ddd4fb"/>
<rect x="94.88" y="448.30" width="21.02" height="1.05" fill="#f0ebfe"/>
<rect x="94.88" y="449.30" width="21.02" height="1.05" fill="#f1ecfe"/>
<rect x="94.88" y="450.30" width="21.02" height="1.05" fill="#b3a1f6"/>
<rect x="94.88" y="451.30" width="21.02" height="1.05" fill="#a896f5"/>
<rect x="94.88" y="452.30" width="21.02" height="1.05" fill="#8c78f4"/>
<rect x="94.88" y="453.30" width="21.02" height="1.05" fill="#9480f4"/>
<rect x="94.88" y="454.30" width="21.02" height="1.05" fill="#a290f5"/>
<rect x="94.88" y="455.30" width="21.02" height="1.05" fill="#917ef4"/>
<rect x="94.88" y="456.30" width="21.02" height="1.05" fill="#ac9af5"/>
<rect x="94.88" y="457.30" width="21.02" height="1.05" fill="#a28ff5"/>
<rect x="94.88" y="458.30" width="21.02" height="1.05" fill="#a795f5"/>
<rect x="94.88" y="459.30" width="21.02" height="1.05" fill="#9f8cf5"/>
<rect x="94.88" y="460.30" width="21.02" height="1.05" fill="#8b77f4"/>
<rect x="94.88" y="461.30" width="21.02" height="1.05" fill="#b4a3f6"/>
<rect x="94.88" y="462.30" width="21.02" height="1.05" fill="#9a87f4"/>
<rect x="94.88" y="463.30" width="21.02" height="1.05" fill="#ab99f5"/>
<rect x="94.88" y="464.30" width="21.02" height="1.05" fill="#9e8bf5"/>
<rect x="94.88" y="465.30" width="21.02" height="1.05" fill="#a391f5"/>
<rect x="94.88" y="466.30" width="21.02" height="1.05" fill="#9582f4"/>
<rect x="94.88" y="467.30" width="21.02" height="1.05" fill="#9480f4"/>
<rect x="94.88" y="468.30" width="21.02" height="1.05" fill="#a896f5"/>
<rect x="94.88" y="469.30" width="21.02" height="1.05" fill="#c0b0f8"/>
<rect x="94.88" y="470.30" width="21.02" height="1.05" fill="#a694f5"/>
<rect x="94.88" y="471.30" width="21.02" height="1.05" fill="#a492f5"/>
<rect x="94.88" y="472.30" width="21.02" height="1.05" fill="#b09ff6"/>
<rect x="94.88" y="473.30" width="21.02" height="1.05" fill="#a08df5"/>
<rect x="94.88" y="474.30" width="21.02" height="1.05" fill="#ab99f5"/>
<rect x="94.88" y="475.30" width="21.02" height="1.05" fill="#9a87f5"/>
<rect x="94.88" y="476.30" width="21.02" height="1.05" fill="#a794f5"/>
<rect x="94.88" y="477.30" width="21.02" height="1.05" fill="#aa99f5"/>
<rect x="94.88" y="478.30" width="21.02" height="1.05" fill="#b7a6f7"/>
<rect x="94.88" y="479.30" width="21.02" height="1.05" fill="#b2a1f6"/>
<rect x="94.88" y="480.30" width="21.02" height="1.05" fill="#9885f4"/>
<rect x="94.88" y="481.30" width="21.02" height="1.05" fill="#a794f5"/>
<rect x="94.88" y="482.30" width="21.02" height="1.05" fill="#927ff4"/>
<rect x="94.88" y="483.30" width="21.02" height="1.05" fill="#a592f5"/>
<rect x="94.88" y="484.30" width="21.02" height="1.05" fill="#b8a7f7"/>
<rect x="115.70" y="311.30" width="21.02" height="1.05" fill="#fb9989"/>
<rect x="115.70" y="312.30" width="21.02" height="1.05" fill="#d3c8fa"/>
<rect x="115.70" y="313.30" width="21.02" height="1.05" fill="#e5ddfc"/>
<rect x="115.70" y="314.30" width="21.02" height="1.05" fill="#e0d7fc"/>
<rect x="115.70" y="315.30" width="21.02" height="1.05" fill="#eee8fe"/>
<rect x="115.70" y="316.30" width="21.02" height="1.05" fill="#eee8fe"/>
<rect x="115.70" y="317.30" width="21.02" height="1.05" fill="#fffefe"/>
<rect x="115.70" y="318.30" width="21.02" height="1.05" fill="#f8f6ff"/>
<rect x="115.70" y="319.30" width="21.02" height="1.05" fill="#f8f6ff"/>
<rect x="115.70" y="320.30" width="21.02" height="1.05" fill="#d3c8fa"/>
<rect x="115.70" y="321.30" width="21.02" height="1.05" fill="#c0aff8"/>
<rect x="115.70" y="322.30" width="21.02" height="1.05" fill="#c3b4f8"/>
<rect x="115.70" y="323.30" width="21.02" height="1.05" fill="#d0c4f9"/>
<rect x="115.70" y="324.30" width="21.02" height="1.05" fill="#d5cafa"/>
<rect x="115.70" y="325.30" width="21.02" height="1.05" fill="#d3c8fa"/>
<rect x="115.70" y="326.30" width="21.02" height="1.05" fill="#b9a9f7"/>
<rect x="115.70" y="327.30" width="21.02" height="1.05" fill="#d6cbfa"/>
<rect x="115.70" y="328.30" width="21.02" height="1.05" fill="#e0d7fc"/>
<rect x="115.70" y="329.30" width="21.02" height="1.05" fill="#e9e2fd"/>
<rect x="115.70" y="330.30" width="21.02" height="1.05" fill="#f1ecfe"/>
<rect x="115.70" y="331.30" width="21.02" height="1.05" fill="#e0d6fc"/>
<rect x="115.70" y="332.30" width="21.02" height="1.05" fill="#d3c8fa"/>
<rect x="115.70" y="333.30" width="21.02" height="1.05" fill="#d9cefa"/>
<rect x="115.70" y="334.30" width="21.02" height="1.05" fill="#eee8fe"/>
<rect x="115.70" y="335.30" width="21.02" height="1.05" fill="#cdc0f9"/>
<rect x="115.70" y="336.30" width="21.02" height="1.05" fill="#cec2f9"/>
<rect x="115.70" y="337.30" width="21.02" height="1.05" fill="#c9bbf9"/>
<rect x="115.70" y="338.30" width="21.02" height="1.05" fill="#d6cbfa"/>
<rect x="115.70" y="339.30" width="21.02" height="1.05" fill="#eae3fd"/>
<rect x="115.70" y="340.30" width="21.02" height="1.05" fill="#ddd3fb"/>
<rect x="115.70" y="341.30" width="21.02" height="1.05" fill="#cabcf9"/>
<rect x="115.70" y="342.30" width="21.02" height="1.05" fill="#d0c4f9"/>
<rect x="115.70" y="343.30" width="21.02" height="1.05" fill="#cfc3f9"/>
<rect x="115.70" y="344.30" width="21.02" height="1.05" fill="#bfaff8"/>
<rect x="115.70" y="345.30" width="21.02" height="1.05" fill="#d4c9fa"/>
<rect x="115.70" y="346.30" width="21.02" height="1.05" fill="#cfc2f9"/>
<rect x="115.70" y="347.30" width="21.02" height="1.05" fill="#dbd1fb"/>
<rect x="115.70" y="348.30" width="21.02" height="1.05" fill="#c8baf9"/>
<rect x="115.70" y="349.30" width="21.02" height="1.05" fill="#ddd3fb"/>
<rect x="115.70" y="350.30" width="21.02" height="1.05" fill="#c7b9f9"/>
<rect x="115.70" y="351.30" width="21.02" height="1.05" fill="#dcd2fb"/>
<rect x="115.70" y="352.30" width="21.02" height="1.05" fill="#c2b3f8"/>
<rect x="115.70" y="353.30" width="21.02" height="1.05" fill="#ddd3fb"/>
<rect x="115.70" y="354.30" width="21.02" height="1.05" fill="#d5cafa"/>
<rect x="115.70" y="355.30" width="21.02" height="1.05" fill="#c2b2f8"/>
<rect x="115.70" y="356.30" width="21.02" height="1.05" fill="#c8baf9"/>
<rect x="115.70" y="357.30" width="21.02" height="1.05" fill="#d3c7fa"/>
<rect x="115.70" y="358.30" width="21.02" height="1.05" fill="#c8baf9"/>
<rect x="115.70" y="359.30" width="21.02" height="1.05" fill="#c8baf9"/>
<rect x="115.70" y="360.30" width="21.02" height="1.05" fill="#d2c6fa"/>
<rect x="115.70" y="361.30" width="21.02" height="1.05" fill="#d2c5fa"/>
<rect x="115.70" y="362.30" width="21.02" height="1.05" fill="#ac9af5"/>
<rect x="115.70" y="363.30" width="21.02" height="1.05" fill="#baa9f7"/>
<rect x="115.70" y="364.30" width="21.02" height="1.05" fill="#ccbff9"/>
<rect x="115.70" y="365.30" width="21.02" height="1.05" fill="#d4c9fa"/>
<rect x="115.70" y="366.30" width="21.02" height="1.05" fill="#e3dafc"/>
<rect x="115.70" y="367.30" width="21.02" height="1.05" fill="#d4c8fa"/>
<rect x="115.70" y="368.30" width="21.02" height="1.05" fill="#f5f1fe"/>
<rect x="115.70" y="369.30" width="21.02" height="1.05" fill="#f2edfe"/>
<rect x="115.70" y="370.30" width="21.02" height="1.05" fill="#eae4fd"/>
<rect x="115.70" y="371.30" width="21.02" height="1.05" fill="#efeafe"/>
<rect x="115.70" y="372.30" width="21.02" height="1.05" fill="#f0ebfe"/>
<rect x="115.70" y="373.30" width="21.02" height="1.05" fill="#e6dffd"/>
<rect x="115.70" y="374.30" width="21.02" height="1.05" fill="#d7ccfa"/>
<rect x="115.70" y="375.30" width="21.02" height="1.05" fill="#e4dcfc"/>
<rect x="115.70" y="376.30" width="21.02" height="1.05" fill="#e4dbfc"/>
<rect x="115.70" y="377.30" width="21.02" height="1.05" fill="#c5b6f8"/>
<rect x="115.70" y="378.30" width="21.02" height="1.05" fill="#bfaff8"/>
<rect x="115.70" y="379.30" width="21.02" height="1.05" fill="#cfc3f9"/>
<rect x="115.70" y="380.30" width="21.02" height="1.05" fill="#d4c8fa"/>
<rect x="115.70" y="381.30" width="21.02" height="1.05" fill="#d8cefa"/>
<rect x="115.70" y="382.30" width="21.02" height="1.05" fill="#e0d7fc"/>
<rect x="115.70" y="383.30" width="21.02" height="1.05" fill="#ddd4fb"/>
<rect x="115.70" y="384.30" width="21.02" height="1.05" fill="#efeafe"/>
<rect x="115.70" y="385.30" width="21.02" height="1.05" fill="#dcd2fb"/>
<rect x="115.70" y="386.30" width="21.02" height="1.05" fill="#d4c9fa"/>
<rect x="115.70" y="387.30" width="21.02" height="1.05" fill="#d9cffb"/>
<rect x="115.70" y="388.30" width="21.02" height="1.05" fill="#e2d9fc"/>
<rect x="115.70" y="389.30" width="21.02" height="1.05" fill="#e7e0fd"/>
<rect x="115.70" y="390.30" width="21.02" height="1.05" fill="#f2edfe"/>
<rect x="115.70" y="391.30" width="21.02" height="1.05" fill="#e0d7fc"/>
<rect x="115.70" y="392.30" width="21.02" height="1.05" fill="#ebe5fe"/>
<rect x="115.70" y="393.30" width="21.02" height="1.05" fill="#fdc7bb"/>
<rect x="115.70" y="394.30" width="21.02" height="1.05" fill="#fedcd5"/>
<rect x="115.70" y="395.30" width="21.02" height="1.05" fill="#fedcd5"/>
<rect x="115.70" y="396.30" width="21.02" height="1.05" fill="#f3effe"/>
<rect x="115.70" y="397.30" width="21.02" height="1.05" fill="#f2eefe"/>
<rect x="115.70" y="398.30" width="21.02" height="1.05" fill="#e2dafc"/>
<rect x="115.70" y="399.30" width="21.02" height="1.05" fill="#c0b0f8"/>
<rect x="115.70" y="400.30" width="21.02" height="1.05" fill="#c3b3f8"/>
<rect x="115.70" y="401.30" width="21.02" height="1.05" fill="#c5b6f8"/>
<rect x="115.70" y="402.30" width="21.02" height="1.05" fill="#cfc3f9"/>
<rect x="115.70" y="403.30" width="21.02" height="1.05" fill="#f2edfe"/>
<rect x="115.70" y="404.30" width="21.02" height="1.05" fill="#f1ecfe"/>
<rect x="115.70" y="405.30" width="21.02" height="1.05" fill="#ece6fe"/>
<rect x="115.70" y="406.30" width="21.02" height="1.05" fill="#d8cdfa"/>
<rect x="115.70" y="407.30" width="21.02" height="1.05" fill="#cabcf9"/>
<rect x="115.70" y="408.30" width="21.02" height="1.05" fill="#cfc2f9"/>
<rect x="115.70" y="409.30" width="21.02" height="1.05" fill="#cec1f9"/>
<rect x="115.70" y="410.30" width="21.02" height="1.05" fill="#f8f6ff"/>
<rect x="115.70" y="411.30" width="21.02" height="1.05" fill="#e8e0fd"/>
<rect x="115.70" y="412.30" width="21.02" height="1.05" fill="#dacffb"/>
<rect x="115.70" y="413.30" width="21.02" height="1.05" fill="#e9e3fd"/>
<rect x="115.70" y="414.30" width="21.02" height="1.05" fill="#e4dcfc"/>
<rect x="115.70" y="415.30" width="21.02" height="1.05" fill="#ede7fe"/>
<rect x="115.70" y="416.30" width="21.02" height="1.05" fill="#fefdff"/>
<rect x="115.70" y="417.30" width="21.02" height="1.05" fill="#f7f4ff"/>
<rect x="115.70" y="418.30" width="21.02" height="1.05" fill="#e8e1fd"/>
<rect x="115.70" y="419.30" width="21.02" height="1.05" fill="#f2eefe"/>
<rect x="115.70" y="420.30" width="21.02" height="1.05" fill="#f9f6ff"/>
<rect x="115.70" y="421.30" width="21.02" height="1.05" fill="#f4f0fe"/>
<rect x="115.70" y="422.30" width="21.02" height="1.05" fill="#fcfbff"/>
<rect x="115.70" y="423.30" width="21.02" height="1.05" fill="#fffbfb"/>
<rect x="115.70" y="424.30" width="21.02" height="1.05" fill="#f4effe"/>
<rect x="115.70" y="425.30" width="21.02" height="1.05" fill="#dbd1fb"/>
<rect x="115.70" y="426.30" width="21.02" height="1.05" fill="#c9bcf9"/>
<rect x="115.70" y="427.30" width="21.02" height="1.05" fill="#ddd3fb"/>
<rect x="115.70" y="428.30" width="21.02" height="1.05" fill="#f7f4ff"/>
<rect x="115.70" y="429.30" width="21.02" height="1.05" fill="#fffdfd"/>
<rect x="115.70" y="430.30" width="21.02" height="1.05" fill="#feede9"/>
<rect x="115.70" y="431.30" width="21.02" height="1.05" fill="#feddd5"/>
<rect x="115.70" y="432.30" width="21.02" height="1.05" fill="#fff3f0"/>
<rect x="115.70" y="433.30" width="21.02" height="1.05" fill="#feede9"/>
<rect x="115.70" y="434.30" width="21.02" height="1.05" fill="#f2edfe"/>
<rect x="115.70" y="435.30" width="21.02" height="1.05" fill="#faf8ff"/>
<rect x="115.70" y="436.30" width="21.02" height="1.05" fill="#fcfbff"/>
<rect x="115.70" y="437.30" width="21.02" height="1.05" fill="#f8f6ff"/>
<rect x="115.70" y="438.30" width="21.02" height="1.05" fill="#f3effe"/>
<rect x="115.70" y="439.30" width="21.02" height="1.05" fill="#e8e0fd"/>
<rect x="115.70" y="440.30" width="21.02" height="1.05" fill="#f0ebfe"/>
<rect x="115.70" y="441.30" width="21.02" height="1.05" fill="#fffffe"/>
<rect x="115.70" y="442.30" width="21.02" height="1.05" fill="#f8f5ff"/>
<rect x="115.70" y="443.30" width="21.02" height="1.05" fill="#fcfbff"/>
<rect x="115.70" y="444.30" width="21.02" height="1.05" fill="#f3effe"/>
<rect x="115.70" y="445.30" width="21.02" height="1.05" fill="#e7e0fd"/>
<rect x="115.70" y="446.30" width="21.02" height="1.05" fill="#d9cefa"/>
<rect x="115.70" y="447.30" width="21.02" height="1.05" fill="#e4dcfc"/>
<rect x="115.70" y="448.30" width="21.02" height="1.05" fill="#e2d9fc"/>
<rect x="115.70" y="449.30" width="21.02" height="1.05" fill="#e8e1fd"/>
<rect x="115.70" y="450.30" width="21.02" height="1.05" fill="#dfd6fb"/>
<rect x="115.70" y="451.30" width="21.02" height="1.05" fill="#d2c7fa"/>
<rect x="115.70" y="452.30" width="21.02" height="1.05" fill="#d7ccfa"/>
<rect x="115.70" y="453.30" width="21.02" height="1.05" fill="#ece5fe"/>
<rect x="115.70" y="454.30" width="21.02" height="1.05" fill="#faf8ff"/>
<rect x="115.70" y="455.30" width="21.02" height="1.05" fill="#fff3f1"/>
<rect x="115.70" y="456.30" width="21.02" height="1.05" fill="#feeae6"/>
<rect x="115.70" y="457.30" width="21.02" height="1.05" fill="#fee6e1"/>
<rect x="115.70" y="458.30" width="21.02" height="1.05" fill="#feebe6"/>
<rect x="115.70" y="459.30" width="21.02" height="1.05" fill="#f6f3fe"/>
<rect x="115.70" y="460.30" width="21.02" height="1.05" fill="#fdfdff"/>
<rect x="115.70" y="461.30" width="21.02" height="1.05" fill="#f5f1fe"/>
<rect x="115.70" y="462.30" width="21.02" height="1.05" fill="#fff5f2"/>
<rect x="115.70" y="463.30" width="21.02" height="1.05" fill="#feebe7"/>
<rect x="115.70" y="464.30" width="21.02" height="1.05" fill="#fee9e5"/>
<rect x="115.70" y="465.30" width="21.02" height="1.05" fill="#ede6fe"/>
<rect x="115.70" y="466.30" width="21.02" height="1.05" fill="#fbfaff"/>
<rect x="115.70" y="467.30" width="21.02" height="1.05" fill="#fff7f5"/>
<rect x="115.70" y="468.30" width="21.02" height="1.05" fill="#f5f2fe"/>
<rect x="115.70" y="469.30" width="21.02" height="1.05" fill="#fff8f6"/>
<rect x="115.70" y="470.30" width="21.02" height="1.05" fill="#fbfaff"/>
<rect x="115.70" y="471.30" width="21.02" height="1.05" fill="#f8f6ff"/>
<rect x="115.70" y="472.30" width="21.02" height="1.05" fill="#f1ecfe"/>
<rect x="115.70" y="473.30" width="21.02" height="1.05" fill="#e9e2fd"/>
<rect x="115.70" y="474.30" width="21.02" height="1.05" fill="#ece5fe"/>
<rect x="115.70" y="475.30" width="21.02" height="1.05" fill="#fee1da"/>
<rect x="115.70" y="476.30" width="21.02" height="1.05" fill="#fff0ed"/>
<rect x="115.70" y="477.30" width="21.02" height="1.05" fill="#fff9f8"/>
<rect x="115.70" y="478.30" width="21.02" height="1.05" fill="#f8f5ff"/>
<rect x="115.70" y="479.30" width="21.02" height="1.05" fill="#f2edfe"/>
<rect x="115.70" y="480.30" width="21.02" height="1.05" fill="#efeafe"/>
<rect x="115.70" y="481.30" width="21.02" height="1.05" fill="#eae3fd"/>
<rect x="115.70" y="482.30" width="21.02" height="1.05" fill="#f9f7ff"/>
<rect x="115.70" y="483.30" width="21.02" height="1.05" fill="#f6f3fe"/>
<rect x="115.70" y="484.30" width="21.02" height="1.05" fill="#fffefe"/>
<rect x="136.53" y="311.30" width="21.02" height="1.05" fill="#fb9989"/>
<rect x="136.53" y="312.30" width="21.02" height="1.05" fill="#c4b4f8"/>
<rect x="136.53" y="313.30" width="21.02" height="1.05" fill="#c2b2f8"/>
<rect x="136.53" y="314.30" width="21.02" height="1.05" fill="#c9bbf9"/>
<rect x="136.53" y="315.30" width="21.02" height="1.05" fill="#c4b5f8"/>
<rect x="136.53" y="316.30" width="21.02" height="1.05" fill="#b6a5f7"/>
<rect x="136.53" y="317.30" width="21.02" height="1.05" fill="#cabcf9"/>
<rect x="136.53" y="318.30" width="21.02" height="1.05" fill="#c0b0f8"/>
<rect x="136.53" y="319.30" width="21.02" height="1.05" fill="#beaef8"/>
<rect x="136.53" y="320.30" width="21.02" height="1.05" fill="#b3a2f6"/>
<rect x="136.53" y="321.30" width="21.02" height="1.05" fill="#bcabf7"/>
<rect x="136.53" y="322.30" width="21.02" height="1.05" fill="#d2c6fa"/>
<rect x="136.53" y="323.30" width="21.02" height="1.05" fill="#d9cefa"/>
<rect x="136.53" y="324.30" width="21.02" height="1.05" fill="#ded4fb"/>
<rect x="136.53" y="325.30" width="21.02" height="1.05" fill="#d3c7fa"/>
<rect x="136.53" y="326.30" width="21.02" height="1.05" fill="#c4b5f8"/>
<rect x="136.53" y="327.30" width="21.02" height="1.05" fill="#d3c7fa"/>
<rect x="136.53" y="328.30" width="21.02" height="1.05" fill="#e2d9fc"/>
<rect x="136.53" y="329.30" width="21.02" height="1.05" fill="#e7e0fd"/>
<rect x="136.53" y="330.30" width="21.02" height="1.05" fill="#d2c6fa"/>
<rect x="136.53" y="331.30" width="21.02" height="1.05" fill="#ddd4fb"/>
<rect x="136.53" y="332.30" width="21.02" height="1.05" fill="#e1d8fc"/>
<rect x="136.53" y="333.30" width="21.02" height="1.05" fill="#e1d8fc"/>
<rect x="136.53" y="334.30" width="21.02" height="1.05" fill="#e3dbfc"/>
<rect x="136.53" y="335.30" width="21.02" height="1.05" fill="#dad0fb"/>
<rect x="136.53" y="336.30" width="21.02" height="1.05" fill="#ddd3fb"/>
<rect x="136.53" y="337.30" width="21.02" height="1.05" fill="#e8e0fd"/>
<rect x="136.53" y="338.30" width="21.02" height="1.05" fill="#dad0fb"/>
<rect x="136.53" y="339.30" width="21.02" height="1.05" fill="#c8b9f9"/>
<rect x="136.53" y="340.30" width="21.02" height="1.05" fill="#cec1f9"/>
<rect x="136.53" y="341.30" width="21.02" height="1.05" fill="#d5cafa"/>
<rect x="136.53" y="342.30" width="21.02" height="1.05" fill="#c0b0f8"/>
<rect x="136.53" y="343.30" width="21.02" height="1.05" fill="#c3b3f8"/>
<rect x="136.53" y="344.30" width="21.02" height="1.05" fill="#d4c9fa"/>
<rect x="136.53" y="345.30" width="21.02" height="1.05" fill="#e9e2fd"/>
<rect x="136.53" y="346.30" width="21.02" height="1.05" fill="#ede6fe"/>
<rect x="136.53" y="347.30" width="21.02" height="1.05" fill="#dcd2fb"/>
<rect x="136.53" y="348.30" width="21.02" height="1.05" fill="#f0eafe"/>
<rect x="136.53" y="349.30" width="21.02" height="1.05" fill="#fffdfd"/>
<rect x="136.53" y="350.30" width="21.02" height="1.05" fill="#f6f3fe"/>
<rect x="136.53" y="351.30" width="21.02" height="1.05" fill="#eae3fd"/>
<rect x="136.53" y="352.30" width="21.02" height="1.05" fill="#dcd2fb"/>
<rect x="136.53" y="353.30" width="21.02" height="1.05" fill="#f0eafe"/>
<rect x="136.53" y="354.30" width="21.02" height="1.05" fill="#f0ebfe"/>
<rect x="136.53" y="355.30" width="21.02" height="1.05" fill="#e5ddfc"/>
<rect x="136.53" y="356.30" width="21.02" height="1.05" fill="#f6f3fe"/>
<rect x="136.53" y="357.30" width="21.02" height="1.05" fill="#faf8ff"/>
<rect x="136.53" y="358.30" width="21.02" height="1.05" fill="#faf9ff"/>
<rect x="136.53" y="359.30" width="21.02" height="1.05" fill="#e0d7fc"/>
<rect x="136.53" y="360.30" width="21.02" height="1.05" fill="#e5ddfc"/>
<rect x="136.53" y="361.30" width="21.02" height="1.05" fill="#f0ebfe"/>
<rect x="136.53" y="362.30" width="21.02" height="1.05" fill="#dfd6fc"/>
<rect x="136.53" y="363.30" width="21.02" height="1.05" fill="#f1ecfe"/>
<rect x="136.53" y="364.30" width="21.02" height="1.05" fill="#fefdff"/>
<rect x="136.53" y="365.30" width="21.02" height="1.05" fill="#fffcfc"/>
<rect x="136.53" y="366.30" width="21.02" height="1.05" fill="#f1ecfe"/>
<rect x="136.53" y="367.30" width="21.02" height="1.05" fill="#e7dffd"/>
<rect x="136.53" y="368.30" width="21.02" height="1.05" fill="#f4f1fe"/>
<rect x="136.53" y="369.30" width="21.02" height="1.05" fill="#fbfaff"/>
<rect x="136.53" y="370.30" width="21.02" height="1.05" fill="#fffbfa"/>
<rect x="136.53" y="371.30" width="21.02" height="1.05" fill="#fff6f4"/>
<rect x="136.53" y="372.30" width="21.02" height="1.05" fill="#f9f7ff"/>
<rect x="136.53" y="373.30" width="21.02" height="1.05" fill="#cabcf9"/>
<rect x="136.53" y="374.30" width="21.02" height="1.05" fill="#b09ff6"/>
<rect x="136.53" y="375.30" width="21.02" height="1.05" fill="#c5b6f8"/>
<rect x="136.53" y="376.30" width="21.02" height="1.05" fill="#fee3dd"/>
<rect x="136.53" y="377.30" width="21.02" height="1.05" fill="#fffcfc"/>
<rect x="136.53" y="378.30" width="21.02" height="1.05" fill="#f9f6ff"/>
<rect x="136.53" y="379.30" width="21.02" height="1.05" fill="#ffffff"/>
<rect x="136.53" y="380.30" width="21.02" height="1.05" fill="#fffdfc"/>
<rect x="136.53" y="381.30" width="21.02" height="1.05" fill="#f0ebfe"/>
<rect x="136.53" y="382.30" width="21.02" height="1.05" fill="#ede7fe"/>
<rect x="136.53" y="383.30" width="21.02" height="1.05" fill="#e6defd"/>
<rect x="136.53" y="384.30" width="21.02" height="1.05" fill="#fff7f5"/>
<rect x="136.53" y="385.30" width="21.02" height="1.05" fill="#f8f5ff"/>
<rect x="136.53" y="386.30" width="21.02" height="1.05" fill="#fffcfb"/>
<rect x="136.53" y="387.30" width="21.02" height="1.05" fill="#fee0d9"/>
<rect x="136.53" y="388.30" width="21.02" height="1.05" fill="#fed5cc"/>
<rect x="136.53" y="389.30" width="21.02" height="1.05" fill="#fed5cc"/>
<rect x="136.53" y="390.30" width="21.02" height="1.05" fill="#fdd3c9"/>
<rect x="136.53" y="391.30" width="21.02" height="1.05" fill="#fffefe"/>
<rect x="136.53" y="392.30" width="21.02" height="1.05" fill="#f9f7ff"/>
<rect x="136.53" y="393.30" width="21.02" height="1.05" fill="#f2eefe"/>
<rect x="136.53" y="394.30" width="21.02" height="1.05" fill="#f3eefe"/>
<rect x="136.53" y="395.30" width="21.02" height="1.05" fill="#fee2db"/>
<rect x="136.53" y="396.30" width="21.02" height="1.05" fill="#f5f2fe"/>
<rect x="136.53" y="397.30" width="21.02" height="1.05" fill="#fcfbff"/>
<rect x="136.53" y="398.30" width="21.02" height="1.05" fill="#efe9fe"/>
<rect x="136.53" y="399.30" width="21.02" height="1.05" fill="#fffcfb"/>
<rect x="136.53" y="400.30" width="21.02" height="1.05" fill="#feebe7"/>
<rect x="136.53" y="401.30" width="21.02" height="1.05" fill="#fdfdff"/>
<rect x="136.53" y="402.30" width="21.02" height="1.05" fill="#fee1da"/>
<rect x="136.53" y="403.30" width="21.02" height="1.05" fill="#fff2ef"/>
<rect x="136.53" y="404.30" width="21.02" height="1.05" fill="#fee5e0"/>
<rect x="136.53" y="405.30" width="21.02" height="1.05" fill="#fff0ed"/>
<rect x="136.53" y="406.30" width="21.02" height="1.05" fill="#fcfaff"/>
<rect x="136.53" y="407.30" width="21.02" height="1.05" fill="#f7f4ff"/>
<rect x="136.53" y="408.30" width="21.02" height="1.05" fill="#f7f4ff"/>
<rect x="136.53" y="409.30" width="21.02" height="1.05" fill="#fefeff"/>
<rect x="136.53" y="410.30" width="21.02" height="1.05" fill="#fdfcff"/>
<rect x="136.53" y="411.30" width="21.02" height="1.05" fill="#feddd6"/>
<rect x="136.53" y="412.30" width="21.02" height="1.05" fill="#fff4f1"/>
<rect x="136.53" y="413.30" width="21.02" height="1.05" fill="#fbfaff"/>
<rect x="136.53" y="414.30" width="21.02" height="1.05" fill="#f3effe"/>
<rect x="136.53" y="415.30" width="21.02" height="1.05" fill="#efe9fe"/>
<rect x="136.53" y="416.30" width="21.02" height="1.05" fill="#e2dafc"/>
<rect x="136.53" y="417.30" width="21.02" height="1.05" fill="#e1d9fc"/>
<rect x="136.53" y="418.30" width="21.02" height="1.05" fill="#f7f4ff"/>
<rect x="136.53" y="419.30" width="21.02" height="1.05" fill="#f9f6ff"/>
<rect x="136.53" y="420.30" width="21.02" height="1.05" fill="#f7f5ff"/>
<rect x="136.53" y="421.30" width="21.02" height="1.05" fill="#fcfaff"/>
<rect x="136.53" y="422.30" width="21.02" height="1.05" fill="#fff4f2"/>
<rect x="136.53" y="423.30" width="21.02" height="1.05" fill="#fff3f0"/>
<rect x="136.53" y="424.30" width="21.02" height="1.05" fill="#feefec"/>
<rect x="136.53" y="425.30" width="21.02" height="1.05" fill="#fcfbff"/>
<rect x="136.53" y="426.30" width="21.02" height="1.05" fill="#f8f6ff"/>
<rect x="136.53" y="427.30" width="21.02" height="1.05" fill="#f1ecfe"/>
<rect x="136.53" y="428.30" width="21.02" height="1.05" fill="#f4f0fe"/>
<rect x="136.53" y="429.30" width="21.02" height="1.05" fill="#eee9fe"/>
<rect x="136.53" y="430.30" width="21.02" height="1.05" fill="#f0eafe"/>
<rect x="136.53" y="431.30" width="21.02" height="1.05" fill="#f2eefe"/>
<rect x="136.53" y="432.30" width="21.02" height="1.05" fill="#f3effe"/>
<rect x="136.53" y="433.30" width="21.02" height="1.05" fill="#f4effe"/>
<rect x="136.53" y="434.30" width="21.02" height="1.05" fill="#f1edfe"/>
<rect x="136.53" y="435.30" width="21.02" height="1.05" fill="#fffaf9"/>
<rect x="136.53" y="436.30" width="21.02" height="1.05" fill="#fbf9ff"/>
<rect x="136.53" y="437.30" width="21.02" height="1.05" fill="#f0ebfe"/>
<rect x="136.53" y="438.30" width="21.02" height="1.05" fill="#f6f3fe"/>
<rect x="136.53" y="439.30" width="21.02" height="1.05" fill="#ede7fe"/>
<rect x="136.53" y="440.30" width="21.02" height="1.05" fill="#fff5f2"/>
<rect x="136.53" y="441.30" width="21.02" height="1.05" fill="#fee5df"/>
<rect x="136.53" y="442.30" width="21.02" height="1.05" fill="#fffcfb"/>
<rect x="136.53" y="443.30" width="21.02" height="1.05" fill="#eae3fd"/>
<rect x="136.53" y="444.30" width="21.02" height="1.05" fill="#fffbfa"/>
<rect x="136.53" y="445.30" width="21.02" height="1.05" fill="#e4dcfc"/>
<rect x="136.53" y="446.30" width="21.02" height="1.05" fill="#cfc2f9"/>
<rect x="136.53" y="447.30" width="21.02" height="1.05" fill="#cdc1f9"/>
<rect x="136.53" y="448.30" width="21.02" height="1.05" fill="#e0d7fc"/>
<rect x="136.53" y="449.30" width="21.02" height="1.05" fill="#c9bbf9"/>
<rect x="136.53" y="450.30" width="21.02" height="1.05" fill="#cabdf9"/>
<rect x="136.53" y="451.30" width="21.02" height="1.05" fill="#c7b9f9"/>
<rect x="136.53" y="452.30" width="21.02" height="1.05" fill="#d2c6fa"/>
<rect x="136.53" y="453.30" width="21.02" height="1.05" fill="#c2b2f8"/>
<rect x="136.53" y="454.30" width="21.02" height="1.05" fill="#ddd4fb"/>
<rect x="136.53" y="455.30" width="21.02" height="1.05" fill="#feefeb"/>
<rect x="136.53" y="456.30" width="21.02" height="1.05" fill="#fee6e0"/>
<rect x="136.53" y="457.30" width="21.02" height="1.05" fill="#feece7"/>
<rect x="136.53" y="458.30" width="21.02" height="1.05" fill="#f7f4ff"/>
<rect x="136.53" y="459.30" width="21.02" height="1.05" fill="#ffffff"/>
<rect x="136.53" y="460.30" width="21.02" height="1.05" fill="#f8f6ff"/>
<rect x="136.53" y="461.30" width="21.02" height="1.05" fill="#fffaf9"/>
<rect x="136.53" y="462.30" width="21.02" height="1.05" fill="#fefeff"/>
<rect x="136.53" y="463.30" width="21.02" height="1.05" fill="#fffaf9"/>
<rect x="136.53" y="464.30" width="21.02" height="1.05" fill="#fff5f3"/>
<rect x="136.53" y="465.30" width="21.02" height="1.05" fill="#fee1da"/>
<rect x="136.53" y="466.30" width="21.02" height="1.05" fill="#fed8d0"/>
<rect x="136.53" y="467.30" width="21.02" height="1.05" fill="#feefeb"/>
<rect x="136.53" y="468.30" width="21.02" height="1.05" fill="#feebe7"/>
<rect x="136.53" y="469.30" width="21.02" height="1.05" fill="#fdd4ca"/>
<rect x="136.53" y="470.30" width="21.02" height="1.05" fill="#f4f0fe"/>
<rect x="136.53" y="471.30" width="21.02" height="1.05" fill="#e5ddfd"/>
<rect x="136.53" y="472.30" width="21.02" height="1.05" fill="#e4dcfc"/>
<rect x="136.53" y="473.30" width="21.02" height="1.05" fill="#e0d7fc"/>
<rect x="136.53" y="474.30" width="21.02" height="1.05" fill="#efe9fe"/>
<rect x="136.53" y="475.30" width="21.02" height="1.05" fill="#fee3dd"/>
<rect x="136.53" y="476.30" width="21.02" height="1.05" fill="#fee0d9"/>
<rect x="136.53" y="477.30" width="21.02" height="1.05" fill="#fdc6bb"/>
<rect x="136.53" y="478.30" width="21.02" height="1.05" fill="#feeae5"/>
<rect x="136.53" y="479.30" width="21.02" height="1.05" fill="#fffcfb"/>
<rect x="136.53" y="480.30" width="21.02" height="1.05" fill="#f4f1fe"/>
<rect x="136.53" y="481.30" width="21.02" height="1.05" fill="#efe9fe"/>
<rect x="136.53" y="482.30" width="21.02" height="1.05" fill="#fff7f5"/>
<rect x="136.53" y="483.30" width="21.02" height="1.05" fill="#feece8"/>
<rect x="136.53" y="484.30" width="21.02" height="1.05" fill="#fdd3ca"/>
<rect x="157.35" y="311.30" width="21.02" height="1.05" fill="#fb9989"/>
<rect x="157.35" y="312.30" width="21.02" height="1.05" fill="#b5a4f7"/>
<rect x="157.35" y="313.30" width="21.02" height="1.05" fill="#d3c8fa"/>
<rect x="157.35" y="314.30" width="21.02" height="1.05" fill="#dfd6fb"/>
<rect x="157.35" y="315.30" width="21.02" height="1.05" fill="#e3dbfc"/>
<rect x="157.35" y="316.30" width="21.02" height="1.05" fill="#e6defd"/>
<rect x="157.35" y="317.30" width="21.02" height="1.05" fill="#feded7"/>
<rect x="157.35" y="318.30" width="21.02" height="1.05" fill="#fee5df"/>
<rect x="157.35" y="319.30" width="21.02" height="1.05" fill="#fee9e4"/>
<rect x="157.35" y="320.30" width="21.02" height="1.05" fill="#d7ccfa"/>
<rect x="157.35" y="321.30" width="21.02" height="1.05" fill="#cfc3f9"/>
<rect x="157.35" y="322.30" width="21.02" height="1.05" fill="#d1c5fa"/>
<rect x="157.35" y="323.30" width="21.02" height="1.05" fill="#e1d8fc"/>
<rect x="157.35" y="324.30" width="21.02" height="1.05" fill="#c8baf9"/>
<rect x="157.35" y="325.30" width="21.02" height="1.05" fill="#c0b0f8"/>
<rect x="157.35" y="326.30" width="21.02" height="1.05" fill="#ccbef9"/>
<rect x="157.35" y="327.30" width="21.02" height="1.05" fill="#c8b9f9"/>
<rect x="157.35" y="328.30" width="21.02" height="1.05" fill="#c7b8f9"/>
<rect x="157.35" y="329.30" width="21.02" height="1.05" fill="#e4dcfc"/>
<rect x="157.35" y="330.30" width="21.02" height="1.05" fill="#ddd4fb"/>
<rect x="157.35" y="331.30" width="21.02" height="1.05" fill="#cfc3f9"/>
<rect x="157.35" y="332.30" width="21.02" height="1.05" fill="#dbd1fb"/>
<rect x="157.35" y="333.30" width="21.02" height="1.05" fill="#f3effe"/>
<rect x="157.35" y="334.30" width="21.02" height="1.05" fill="#d3c7fa"/>
<rect x="157.35" y="335.30" width="21.02" height="1.05" fill="#c7b8f9"/>
<rect x="157.35" y="336.30" width="21.02" height="1.05" fill="#cabcf9"/>
<rect x="157.35" y="337.30" width="21.02" height="1.05" fill="#c2b2f8"/>
<rect x="157.35" y="338.30" width="21.02" height="1.05" fill="#e2d9fc"/>
<rect x="157.35" y="339.30" width="21.02" height="1.05" fill="#ded5fb"/>
<rect x="157.35" y="340.30" width="21.02" height="1.05" fill="#dcd2fb"/>
<rect x="157.35" y="341.30" width="21.02" height="1.05" fill="#e0d7fc"/>
<rect x="157.35" y="342.30" width="21.02" height="1.05" fill="#d1c5fa"/>
<rect x="157.35" y="343.30" width="21.02" height="1.05" fill="#ccbef9"/>
<rect x="157.35" y="344.30" width="21.02" height="1.05" fill="#d2c6fa"/>
<rect x="157.35" y="345.30" width="21.02" height="1.05" fill="#f2eefe"/>
<rect x="157.35" y="346.30" width="21.02" height="1.05" fill="#c9bbf9"/>
<rect x="157.35" y="347.30" width="21.02" height="1.05" fill="#d4c9fa"/>
<rect x="157.35" y="348.30" width="21.02" height="1.05" fill="#fed5cc"/>
<rect x="157.35" y="349.30" width="21.02" height="1.05" fill="#eae3fd"/>
<rect x="157.35" y="350.30" width="21.02" height="1.05" fill="#f7f4ff"/>
<rect x="157.35" y="351.30" width="21.02" height="1.05" fill="#f0eafe"/>
<rect x="157.35" y="352.30" width="21.02" height="1.05" fill="#e7dffd"/>
<rect x="157.35" y="353.30" width="21.02" height="1.05" fill="#ddd4fb"/>
<rect x="157.35" y="354.30" width="21.02" height="1.05" fill="#cfc2f9"/>
<rect x="157.35" y="355.30" width="21.02" height="1.05" fill="#e8e1fd"/>
<rect x="157.35" y="356.30" width="21.02" height="1.05" fill="#fed5cc"/>
<rect x="157.35" y="357.30" width="21.02" height="1.05" fill="#d1c5fa"/>
<rect x="157.35" y="358.30" width="21.02" height="1.05" fill="#cdc0f9"/>
<rect x="157.35" y="359.30" width="21.02" height="1.05" fill="#c7b9f9"/>
<rect x="157.35" y="360.30" width="21.02" height="1.05" fill="#fed5cc"/>
<rect x="157.35" y="361.30" width="21.02" height="1.05" fill="#ad9cf6"/>
<rect x="157.35" y="362.30" width="21.02" height="1.05" fill="#bbabf7"/>
<rect x="157.35" y="363.30" width="21.02" height="1.05" fill="#c3b3f8"/>
<rect x="157.35" y="364.30" width="21.02" height="1.05" fill="#cfc3f9"/>
<rect x="157.35" y="365.30" width="21.02" height="1.05" fill="#cabcf9"/>
<rect x="157.35" y="366.30" width="21.02" height="1.05" fill="#c1b1f8"/>
<rect x="157.35" y="367.30" width="21.02" height="1.05" fill="#c7b9f9"/>
<rect x="157.35" y="368.30" width="21.02" height="1.05" fill="#c8baf9"/>
<rect x="157.35" y="369.30" width="21.02" height="1.05" fill="#b9a8f7"/>
<rect x="157.35" y="370.30" width="21.02" height="1.05" fill="#a795f5"/>
<rect x="157.35" y="371.30" width="21.02" height="1.05" fill="#a492f5"/>
<rect x="157.35" y="372.30" width="21.02" height="1.05" fill="#bfaff8"/>
<rect x="157.35" y="373.30" width="21.02" height="1.05" fill="#e6dffd"/>
<rect x="157.35" y="374.30" width="21.02" height="1.05" fill="#d5c9fa"/>
<rect x="157.35" y="375.30" width="21.02" height="1.05" fill="#d8cdfa"/>
<rect x="157.35" y="376.30" width="21.02" height="1.05" fill="#e4dcfc"/>
<rect x="157.35" y="377.30" width="21.02" height="1.05" fill="#f0ebfe"/>
<rect x="157.35" y="378.30" width="21.02" height="1.05" fill="#ddd4fb"/>
<rect x="157.35" y="379.30" width="21.02" height="1.05" fill="#d8cefa"/>
<rect x="157.35" y="380.30" width="21.02" height="1.05" fill="#ece5fe"/>
<rect x="157.35" y="381.30" width="21.02" height="1.05" fill="#fefdff"/>
<rect x="157.35" y="382.30" width="21.02" height="1.05" fill="#ffffff"/>
<rect x="157.35" y="383.30" width="21.02" height="1.05" fill="#e2dafc"/>
<rect x="157.35" y="384.30" width="21.02" height="1.05" fill="#e4dcfc"/>
<rect x="157.35" y="385.30" width="21.02" height="1.05" fill="#dbd1fb"/>
<rect x="157.35" y="386.30" width="21.02" height="1.05" fill="#dacffb"/>
<rect x="157.35" y="387.30" width="21.02" height="1.05" fill="#d1c5fa"/>
<rect x="157.35" y="388.30" width="21.02" height="1.05" fill="#b5a4f7"/>
<rect x="157.35" y="389.30" width="21.02" height="1.05" fill="#baa9f7"/>
<rect x="157.35" y="390.30" width="21.02" height="1.05" fill="#d3c8fa"/>
<rect x="157.35" y="391.30" width="21.02" height="1.05" fill="#d3c8fa"/>
<rect x="157.35" y="392.30" width="21.02" height="1.05" fill="#d0c4f9"/>
<rect x="157.35" y="393.30" width="21.02" height="1.05" fill="#c9bbf9"/>
<rect x="157.35" y="394.30" width="21.02" height="1.05" fill="#bbabf7"/>
<rect x="157.35" y="395.30" width="21.02" height="1.05" fill="#d8cefa"/>
<rect x="157.35" y="396.30" width="21.02" height="1.05" fill="#ece5fe"/>
<rect x="157.35" y="397.30" width="21.02" height="1.05" fill="#f0ebfe"/>
<rect x="157.35" y="398.30" width="21.02" height="1.05" fill="#fdfcff"/>
<rect x="157.35" y="399.30" width="21.02" height="1.05" fill="#f4f0fe"/>
<rect x="157.35" y="400.30" width="21.02" height="1.05" fill="#ebe4fd"/>
<rect x="157.35" y="401.30" width="21.02" height="1.05" fill="#d0c3f9"/>
<rect x="157.35" y="402.30" width="21.02" height="1.05" fill="#dbd1fb"/>
<rect x="157.35" y="403.30" width="21.02" height="1.05" fill="#c6b8f9"/>
<rect x="157.35" y="404.30" width="21.02" height="1.05" fill="#e5ddfd"/>
<rect x="157.35" y="405.30" width="21.02" height="1.05" fill="#d9cffb"/>
<rect x="157.35" y="406.30" width="21.02" height="1.05" fill="#dbd2fb"/>
<rect x="157.35" y="407.30" width="21.02" height="1.05" fill="#cbbef9"/>
<rect x="157.35" y="408.30" width="21.02" height="1.05" fill="#cdc0f9"/>
<rect x="157.35" y="409.30" width="21.02" height="1.05" fill="#c9bbf9"/>
<rect x="157.35" y="410.30" width="21.02" height="1.05" fill="#e1d8fc"/>
<rect x="157.35" y="411.30" width="21.02" height="1.05" fill="#e3dbfc"/>
<rect x="157.35" y="412.30" width="21.02" height="1.05" fill="#d1c5fa"/>
<rect x="157.35" y="413.30" width="21.02" height="1.05" fill="#beaef8"/>
<rect x="157.35" y="414.30" width="21.02" height="1.05" fill="#ccbef9"/>
<rect x="157.35" y="415.30" width="21.02" height="1.05" fill="#cdc1f9"/>
<rect x="157.35" y="416.30" width="21.02" height="1.05" fill="#c7b8f9"/>
<rect x="157.35" y="417.30" width="21.02" height="1.05" fill="#d8cefa"/>
<rect x="157.35" y="418.30" width="21.02" height="1.05" fill="#f8f5ff"/>
<rect x="157.35" y="419.30" width="21.02" height="1.05" fill="#fbf9ff"/>
<rect x="157.35" y="420.30" width="21.02" height="1.05" fill="#f5f2fe"/>
<rect x="157.35" y="421.30" width="21.02" height="1.05" fill="#f3eefe"/>
<rect x="157.35" y="422.30" width="21.02" height="1.05" fill="#f2eefe"/>
<rect x="157.35" y="423.30" width="21.02" height="1.05" fill="#e4dcfc"/>
<rect x="157.35" y="424.30" width="21.02" height="1.05" fill="#f6f3fe"/>
<rect x="157.35" y="425.30" width="21.02" height="1.05" fill="#fdfcff"/>
<rect x="157.35" y="426.30" width="21.02" height="1.05" fill="#ebe4fd"/>
<rect x="157.35" y="427.30" width="21.02" height="1.05" fill="#f4f0fe"/>
<rect x="157.35" y="428.30" width="21.02" height="1.05" fill="#fffdfc"/>
<rect x="157.35" y="429.30" width="21.02" height="1.05" fill="#fffefe"/>
<rect x="157.35" y="430.30" width="21.02" height="1.05" fill="#feede8"/>
<rect x="157.35" y="431.30" width="21.02" height="1.05" fill="#fffefe"/>
<rect x="157.35" y="432.30" width="21.02" height="1.05" fill="#fdfcff"/>
<rect x="157.35" y="433.30" width="21.02" height="1.05" fill="#efe9fe"/>
<rect x="157.35" y="434.30" width="21.02" height="1.05" fill="#e9e2fd"/>
<rect x="157.35" y="435.30" width="21.02" height="1.05" fill="#dad0fb"/>
<rect x="157.35" y="436.30" width="21.02" height="1.05" fill="#ded5fb"/>
<rect x="157.35" y="437.30" width="21.02" height="1.05" fill="#efeafe"/>
<rect x="157.35" y="438.30" width="21.02" height="1.05" fill="#e5ddfd"/>
<rect x="157.35" y="439.30" width="21.02" height="1.05" fill="#f3effe"/>
<rect x="157.35" y="440.30" width="21.02" height="1.05" fill="#f0eafe"/>
<rect x="157.35" y="441.30" width="21.02" height="1.05" fill="#ded5fb"/>
<rect x="157.35" y="442.30" width="21.02" height="1.05" fill="#e8e0fd"/>
<rect x="157.35" y="443.30" width="21.02" height="1.05" fill="#e5ddfc"/>
<rect x="157.35" y="444.30" width="21.02" height="1.05" fill="#f9f7ff"/>
<rect x="157.35" y="445.30" width="21.02" height="1.05" fill="#fdbdb0"/>
<rect x="157.35" y="446.30" width="21.02" height="1.05" fill="#fdc2b6"/>
<rect x="157.35" y="447.30" width="21.02" height="1.05" fill="#fee1db"/>
<rect x="157.35" y="448.30" width="21.02" height="1.05" fill="#feede9"/>
<rect x="157.35" y="449.30" width="21.02" height="1.05" fill="#fee6e1"/>
<rect x="157.35" y="450.30" width="21.02" height="1.05" fill="#e4dcfc"/>
<rect x="157.35" y="451.30" width="21.02" height="1.05" fill="#efeafe"/>
<rect x="157.35" y="452.30" width="21.02" height="1.05" fill="#f5f2fe"/>
<rect x="157.35" y="453.30" width="21.02" height="1.05" fill="#faf8ff"/>
<rect x="157.35" y="454.30" width="21.02" height="1.05" fill="#f7f4ff"/>
<rect x="157.35" y="455.30" width="21.02" height="1.05" fill="#e9e2fd"/>
<rect x="157.35" y="456.30" width="21.02" height="1.05" fill="#e0d7fc"/>
<rect x="157.35" y="457.30" width="21.02" height="1.05" fill="#e4dcfc"/>
<rect x="157.35" y="458.30" width="21.02" height="1.05" fill="#f7f4ff"/>
<rect x="157.35" y="459.30" width="21.02" height="1.05" fill="#fff9f8"/>
<rect x="157.35" y="460.30" width="21.02" height="1.05" fill="#fff9f7"/>
<rect x="157.35" y="461.30" width="21.02" height="1.05" fill="#fdfcff"/>
<rect x="157.35" y="462.30" width="21.02" height="1.05" fill="#fdfcff"/>
<rect x="157.35" y="463.30" width="21.02" height="1.05" fill="#fefeff"/>
<rect x="157.35" y="464.30" width="21.02" height="1.05" fill="#fff7f6"/>
<rect x="157.35" y="465.30" width="21.02" height="1.05" fill="#fffaf8"/>
<rect x="157.35" y="466.30" width="21.02" height="1.05" fill="#e9e1fd"/>
<rect x="157.35" y="467.30" width="21.02" height="1.05" fill="#f5f2fe"/>
<rect x="157.35" y="468.30" width="21.02" height="1.05" fill="#fca697"/>
<rect x="157.35" y="469.30" width="21.02" height="1.05" fill="#fcb4a6"/>
<rect x="157.35" y="470.30" width="21.02" height="1.05" fill="#fcab9c"/>
<rect x="157.35" y="471.30" width="21.02" height="1.05" fill="#fcaa9b"/>
<rect x="157.35" y="472.30" width="21.02" height="1.05" fill="#fcafa1"/>
<rect x="157.35" y="473.30" width="21.02" height="1.05" fill="#fdcbc0"/>
<rect x="157.35" y="474.30" width="21.02" height="1.05" fill="#fdbfb2"/>
<rect x="157.35" y="475.30" width="21.02" height="1.05" fill="#fcb1a3"/>
<rect x="157.35" y="476.30" width="21.02" height="1.05" fill="#fcb3a5"/>
<rect x="157.35" y="477.30" width="21.02" height="1.05" fill="#fdcbc0"/>
<rect x="157.35" y="478.30" width="21.02" height="1.05" fill="#fcbaac"/>
<rect x="157.35" y="479.30" width="21.02" height="1.05" fill="#fcab9c"/>
<rect x="157.35" y="480.30" width="21.02" height="1.05" fill="#fcac9d"/>
<rect x="157.35" y="481.30" width="21.02" height="1.05" fill="#fca899"/>
<rect x="157.35" y="482.30" width="21.02" height="1.05" fill="#fcb3a5"/>
<rect x="157.35" y="483.30" width="21.02" height="1.05" fill="#fdbdb1"/>
<rect x="157.35" y="484.30" width="21.02" height="1.05" fill="#fcb1a2"/>
<rect x="178.18" y="311.30" width="21.02" height="1.05" fill="#fb9989"/>
<rect x="178.18" y="312.30" width="21.02" height="1.05" fill="#b8a7f7"/>
<rect x="178.18" y="313.30" width="21.02" height="1.05" fill="#e2dafc"/>
<rect x="178.18" y="314.30" width="21.02" height="1.05" fill="#d8cdfa"/>
<rect x="178.18" y="315.30" width="21.02" height="1.05" fill="#cbbef9"/>
<rect x="178.18" y="316.30" width="21.02" height="1.05" fill="#ad9cf6"/>
<rect x="178.18" y="317.30" width="21.02" height="1.05" fill="#b3a2f6"/>
<rect x="178.18" y="318.30" width="21.02" height="1.05" fill="#c0b0f8"/>
<rect x="178.18" y="319.30" width="21.02" height="1.05" fill="#b3a2f6"/>
<rect x="178.18" y="320.30" width="21.02" height="1.05" fill="#b2a1f6"/>
<rect x="178.18" y="321.30" width="21.02" height="1.05" fill="#937ff4"/>
<rect x="178.18" y="322.30" width="21.02" height="1.05" fill="#ad9bf6"/>
<rect x="178.18" y="323.30" width="21.02" height="1.05" fill="#aa98f5"/>
<rect x="178.18" y="324.30" width="21.02" height="1.05" fill="#b9a9f7"/>
<rect x="178.18" y="325.30" width="21.02" height="1.05" fill="#ede6fe"/>
<rect x="178.18" y="326.30" width="21.02" height="1.05" fill="#e2d9fc"/>
<rect x="178.18" y="327.30" width="21.02" height="1.05" fill="#ebe5fe"/>
<rect x="178.18" y="328.30" width="21.02" height="1.05" fill="#e7dffd"/>
<rect x="178.18" y="329.30" width="21.02" height="1.05" fill="#ded4fb"/>
<rect x="178.18" y="330.30" width="21.02" height="1.05" fill="#d8cdfa"/>
<rect x="178.18" y="331.30" width="21.02" height="1.05" fill="#cec1f9"/>
<rect x="178.18" y="332.30" width="21.02" height="1.05" fill="#e4dcfc"/>
<rect x="178.18" y="333.30" width="21.02" height="1.05" fill="#ebe4fe"/>
<rect x="178.18" y="334.30" width="21.02" height="1.05" fill="#d5cafa"/>
<rect x="178.18" y="335.30" width="21.02" height="1.05" fill="#e3dafc"/>
<rect x="178.18" y="336.30" width="21.02" height="1.05" fill="#d5c9fa"/>
<rect x="178.18" y="337.30" width="21.02" height="1.05" fill="#c4b5f8"/>
<rect x="178.18" y="338.30" width="21.02" height="1.05" fill="#ddd3fb"/>
<rect x="178.18" y="339.30" width="21.02" height="1.05" fill="#cbbdf9"/>
<rect x="178.18" y="340.30" width="21.02" height="1.05" fill="#e1d8fc"/>
<rect x="178.18" y="341.30" width="21.02" height="1.05" fill="#e0d7fc"/>
<rect x="178.18" y="342.30" width="21.02" height="1.05" fill="#e9e2fd"/>
<rect x="178.18" y="343.30" width="21.02" height="1.05" fill="#e9e2fd"/>
<rect x="178.18" y="344.30" width="21.02" height="1.05" fill="#f1ebfe"/>
<rect x="178.18" y="345.30" width="21.02" height="1.05" fill="#fedcd5"/>
<rect x="178.18" y="346.30" width="21.02" height="1.05" fill="#feddd5"/>
<rect x="178.18" y="347.30" width="21.02" height="1.05" fill="#fee2db"/>
<rect x="178.18" y="348.30" width="21.02" height="1.05" fill="#fed9d0"/>
<rect x="178.18" y="349.30" width="21.02" height="1.05" fill="#feeae5"/>
<rect x="178.18" y="350.30" width="21.02" height="1.05" fill="#feddd5"/>
<rect x="178.18" y="351.30" width="21.02" height="1.05" fill="#fdd1c7"/>
<rect x="178.18" y="352.30" width="21.02" height="1.05" fill="#fedfd8"/>
<rect x="178.18" y="353.30" width="21.02" height="1.05" fill="#fee0d9"/>
<rect x="178.18" y="354.30" width="21.02" height="1.05" fill="#fff1ee"/>
<rect x="178.18" y="355.30" width="21.02" height="1.05" fill="#fff7f5"/>
<rect x="178.18" y="356.30" width="21.02" height="1.05" fill="#fff0ed"/>
<rect x="178.18" y="357.30" width="21.02" height="1.05" fill="#fff7f6"/>
<rect x="178.18" y="358.30" width="21.02" height="1.05" fill="#fcfbff"/>
<rect x="178.18" y="359.30" width="21.02" height="1.05" fill="#fffdfd"/>
<rect x="178.18" y="360.30" width="21.02" height="1.05" fill="#fdcbc0"/>
<rect x="178.18" y="361.30" width="21.02" height="1.05" fill="#fdc5ba"/>
<rect x="178.18" y="362.30" width="21.02" height="1.05" fill="#fdbcaf"/>
<rect x="178.18" y="363.30" width="21.02" height="1.05" fill="#fedad2"/>
<rect x="178.18" y="364.30" width="21.02" height="1.05" fill="#fdbeb2"/>
<rect x="178.18" y="365.30" width="21.02" height="1.05" fill="#d9cefa"/>
<rect x="178.18" y="366.30" width="21.02" height="1.05" fill="#cec1f9"/>
<rect x="178.18" y="367.30" width="21.02" height="1.05" fill="#cdc0f9"/>
<rect x="178.18" y="368.30" width="21.02" height="1.05" fill="#d7ccfa"/>
<rect x="178.18" y="369.30" width="21.02" height="1.05" fill="#e2dafc"/>
<rect x="178.18" y="370.30" width="21.02" height="1.05" fill="#e0d7fc"/>
<rect x="178.18" y="371.30" width="21.02" height="1.05" fill="#e1d8fc"/>
<rect x="178.18" y="372.30" width="21.02" height="1.05" fill="#cbbdf9"/>
<rect x="178.18" y="373.30" width="21.02" height="1.05" fill="#d5cafa"/>
<rect x="178.18" y="374.30" width="21.02" height="1.05" fill="#d8cdfa"/>
<rect x="178.18" y="375.30" width="21.02" height="1.05" fill="#d5cafa"/>
<rect x="178.18" y="376.30" width="21.02" height="1.05" fill="#e5ddfc"/>
<rect x="178.18" y="377.30" width="21.02" height="1.05" fill="#f7f4ff"/>
<rect x="178.18" y="378.30" width="21.02" height="1.05" fill="#f8f5ff"/>
<rect x="178.18" y="379.30" width="21.02" height="1.05" fill="#e4dbfc"/>
<rect x="178.18" y="380.30" width="21.02" height="1.05" fill="#feede8"/>
<rect x="178.18" y="381.30" width="21.02" height="1.05" fill="#fefeff"/>
<rect x="178.18" y="382.30" width="21.02" height="1.05" fill="#fbfaff"/>
<rect x="178.18" y="383.30" width="21.02" height="1.05" fill="#f4f0fe"/>
<rect x="178.18" y="384.30" width="21.02" height="1.05" fill="#faf9ff"/>
<rect x="178.18" y="385.30" width="21.02" height="1.05" fill="#ffffff"/>
<rect x="178.18" y="386.30" width="21.02" height="1.05" fill="#fdfdff"/>
<rect x="178.18" y="387.30" width="21.02" height="1.05" fill="#f9f7ff"/>
<rect x="178.18" y="388.30" width="21.02" height="1.05" fill="#f7f4ff"/>
<rect x="178.18" y="389.30" width="21.02" height="1.05" fill="#f4f0fe"/>
<rect x="178.18" y="390.30" width="21.02" height="1.05" fill="#ffffff"/>
<rect x="178.18" y="391.30" width="21.02" height="1.05" fill="#f7f4ff"/>
<rect x="178.18" y="392.30" width="21.02" height="1.05" fill="#f6f3fe"/>
<rect x="178.18" y="393.30" width="21.02" height="1.05" fill="#f5f2fe"/>
<rect x="178.18" y="394.30" width="21.02" height="1.05" fill="#efeafe"/>
<rect x="178.18" y="395.30" width="21.02" height="1.05" fill="#fdc2b6"/>
<rect x="178.18" y="396.30" width="21.02" height="1.05" fill="#fdd2c9"/>
<rect x="178.18" y="397.30" width="21.02" height="1.05" fill="#fdc0b4"/>
<rect x="178.18" y="398.30" width="21.02" height="1.05" fill="#fcb4a6"/>
<rect x="178.18" y="399.30" width="21.02" height="1.05" fill="#fcbaad"/>
<rect x="178.18" y="400.30" width="21.02" height="1.05" fill="#fb9e8f"/>
<rect x="178.18" y="401.30" width="21.02" height="1.05" fill="#fcb7aa"/>
<rect x="178.18" y="402.30" width="21.02" height="1.05" fill="#fb9a8a"/>
<rect x="178.18" y="403.30" width="21.02" height="1.05" fill="#fa9586"/>
<rect x="178.18" y="404.30" width="21.02" height="1.05" fill="#fba596"/>
<rect x="178.18" y="405.30" width="21.02" height="1.05" fill="#fca99a"/>
<rect x="178.18" y="406.30" width="21.02" height="1.05" fill="#fb9686"/>
<rect x="178.18" y="407.30" width="21.02" height="1.05" fill="#f96d5e"/>
<rect x="178.18" y="408.30" width="21.02" height="1.05" fill="#f96b5c"/>
<rect x="178.18" y="409.30" width="21.02" height="1.05" fill="#f45249"/>
<rect x="178.18" y="410.30" width="21.02" height="1.05" fill="#fa8f7f"/>
<rect x="178.18" y="411.30" width="21.02" height="1.05" fill="#fcb5a7"/>
<rect x="178.18" y="412.30" width="21.02" height="1.05" fill="#fcb9ac"/>
<rect x="178.18" y="413.30" width="21.02" height="1.05" fill="#fba192"/>
<rect x="178.18" y="414.30" width="21.02" height="1.05" fill="#fba595"/>
<rect x="178.18" y="415.30" width="21.02" height="1.05" fill="#fcb6a8"/>
<rect x="178.18" y="416.30" width="21.02" height="1.05" fill="#fdccc1"/>
<rect x="178.18" y="417.30" width="21.02" height="1.05" fill="#fcb6a8"/>
<rect x="178.18" y="418.30" width="21.02" height="1.05" fill="#fa9383"/>
<rect x="178.18" y="419.30" width="21.02" height="1.05" fill="#fcb1a2"/>
<rect x="178.18" y="420.30" width="21.02" height="1.05" fill="#fca798"/>
<rect x="178.18" y="421.30" width="21.02" height="1.05" fill="#fa8979"/>
<rect x="178.18" y="422.30" width="21.02" height="1.05" fill="#fa8b7b"/>
<rect x="178.18" y="423.30" width="21.02" height="1.05" fill="#f7f4ff"/>
<rect x="178.18" y="424.30" width="21.02" height="1.05" fill="#f7f5ff"/>
<rect x="178.18" y="425.30" width="21.02" height="1.05" fill="#f2eefe"/>
<rect x="178.18" y="426.30" width="21.02" height="1.05" fill="#fcfbff"/>
<rect x="178.18" y="427.30" width="21.02" height="1.05" fill="#fff2ef"/>
<rect x="178.18" y="428.30" width="21.02" height="1.05" fill="#fff1ee"/>
<rect x="178.18" y="429.30" width="21.02" height="1.05" fill="#fefdff"/>
<rect x="178.18" y="430.30" width="21.02" height="1.05" fill="#feeeea"/>
<rect x="178.18" y="431.30" width="21.02" height="1.05" fill="#fff8f6"/>
<rect x="178.18" y="432.30" width="21.02" height="1.05" fill="#fff1ee"/>
<rect x="178.18" y="433.30" width="21.02" height="1.05" fill="#faf9ff"/>
<rect x="178.18" y="434.30" width="21.02" height="1.05" fill="#fff8f7"/>
<rect x="178.18" y="435.30" width="21.02" height="1.05" fill="#feeeea"/>
<rect x="178.18" y="436.30" width="21.02" height="1.05" fill="#fedfd8"/>
<rect x="178.18" y="437.30" width="21.02" height="1.05" fill="#feede9"/>
<rect x="178.18" y="438.30" width="21.02" height="1.05" fill="#fdc3b7"/>
<rect x="178.18" y="439.30" width="21.02" height="1.05" fill="#fdd1c7"/>
<rect x="178.18" y="440.30" width="21.02" height="1.05" fill="#fdc5b9"/>
<rect x="178.18" y="441.30" width="21.02" height="1.05" fill="#fdbfb2"/>
<rect x="178.18" y="442.30" width="21.02" height="1.05" fill="#fcb7a9"/>
<rect x="178.18" y="443.30" width="21.02" height="1.05" fill="#fdc9be"/>
<rect x="178.18" y="444.30" width="21.02" height="1.05" fill="#fedcd5"/>
<rect x="178.18" y="445.30" width="21.02" height="1.05" fill="#fed8cf"/>
<rect x="178.18" y="446.30" width="21.02" height="1.05" fill="#feefec"/>
<rect x="178.18" y="447.30" width="21.02" height="1.05" fill="#fff8f7"/>
<rect x="178.18" y="448.30" width="21.02" height="1.05" fill="#fee6e0"/>
<rect x="178.18" y="449.30" width="21.02" height="1.05" fill="#fed8d0"/>
<rect x="178.18" y="450.30" width="21.02" height="1.05" fill="#f96f60"/>
<rect x="178.18" y="451.30" width="21.02" height="1.05" fill="#f76154"/>
<rect x="178.18" y="452.30" width="21.02" height="1.05" fill="#f96859"/>
<rect x="178.18" y="453.30" width="21.02" height="1.05" fill="#fa8778"/>
<rect x="178.18" y="454.30" width="21.02" height="1.05" fill="#fa9081"/>
<rect x="178.18" y="455.30" width="21.02" height="1.05" fill="#fcb9ac"/>
<rect x="178.18" y="456.30" width="21.02" height="1.05" fill="#fca99a"/>
<rect x="178.18" y="457.30" width="21.02" height="1.05" fill="#fb9b8b"/>
<rect x="178.18" y="458.30" width="21.02" height="1.05" fill="#fba192"/>
<rect x="178.18" y="459.30" width="21.02" height="1.05" fill="#fa9585"/>
<rect x="178.18" y="460.30" width="21.02" height="1.05" fill="#fcafa0"/>
<rect x="178.18" y="461.30" width="21.02" height="1.05" fill="#fcb0a1"/>
<rect x="178.18" y="462.30" width="21.02" height="1.05" fill="#fa9485"/>
<rect x="178.18" y="463.30" width="21.02" height="1.05" fill="#fb9888"/>
<rect x="178.18" y="464.30" width="21.02" height="1.05" fill="#fa8f7f"/>
<rect x="178.18" y="465.30" width="21.02" height="1.05" fill="#fdbcaf"/>
<rect x="178.18" y="466.30" width="21.02" height="1.05" fill="#fdcec4"/>
<rect x="178.18" y="467.30" width="21.02" height="1.05" fill="#fdcdc2"/>
<rect x="178.18" y="468.30" width="21.02" height="1.05" fill="#f97969"/>
<rect x="178.18" y="469.30" width="21.02" height="1.05" fill="#f5564c"/>
<rect x="178.18" y="470.30" width="21.02" height="1.05" fill="#f97162"/>
<rect x="178.18" y="471.30" width="21.02" height="1.05" fill="#fa8777"/>
<rect x="178.18" y="472.30" width="21.02" height="1.05" fill="#fa9383"/>
<rect x="178.18" y="473.30" width="21.02" height="1.05" fill="#fb9787"/>
<rect x="178.18" y="474.30" width="21.02" height="1.05" fill="#fa7e6e"/>
<rect x="178.18" y="475.30" width="21.02" height="1.05" fill="#fa8071"/>
<rect x="178.18" y="476.30" width="21.02" height="1.05" fill="#f5554b"/>
<rect x="178.18" y="477.30" width="21.02" height="1.05" fill="#f5554b"/>
<rect x="178.18" y="478.30" width="21.02" height="1.05" fill="#f34d45"/>
<rect x="178.18" y="479.30" width="21.02" height="1.05" fill="#f24942"/>
<rect x="178.18" y="480.30" width="21.02" height="1.05" fill="#f45047"/>
<rect x="178.18" y="481.30" width="21.02" height="1.05" fill="#f0403b"/>
<rect x="178.18" y="482.30" width="21.02" height="1.05" fill="#ee3432"/>
<rect x="178.18" y="483.30" width="21.02" height="1.05" fill="#f24841"/>
<rect x="178.18" y="484.30" width="21.02" height="1.05" fill="#ef3936"/>
</g>
<rect x="32.40" y="484.10" width="166.60" height="1.60" fill="#0000FF"/>
<text x="114.10" y="304.20" font-size="9.7" text-anchor="middle">996 Lipid species</text>
<text x="46.11" y="491.70" font-size="9.5" text-anchor="end" transform="rotate(-90 46.11 491.70)">Healthy Control</text>
<text x="66.94" y="491.70" font-size="9.5" text-anchor="end" transform="rotate(-90 66.94 491.70)">Resolving 0h</text>
<text x="87.76" y="491.70" font-size="9.5" text-anchor="end" transform="rotate(-90 87.76 491.70)">Non-Resolving 0h</text>
<text x="108.59" y="491.70" font-size="9.5" text-anchor="end" transform="rotate(-90 108.59 491.70)">Early-Nonsurvivors 0h</text>
<text x="129.41" y="491.70" font-size="9.5" text-anchor="end" transform="rotate(-90 129.41 491.70)">Resolving 24h</text>
<text x="150.24" y="491.70" font-size="9.5" text-anchor="end" transform="rotate(-90 150.24 491.70)">Non-Resolving 24h</text>
<text x="171.06" y="491.70" font-size="9.5" text-anchor="end" transform="rotate(-90 171.06 491.70)">Resolving 72h</text>
<text x="191.89" y="491.70" font-size="9.5" text-anchor="end" transform="rotate(-90 191.89 491.70)">Non-Resolving 72h</text>
<defs><linearGradient id="cb200" x1="0" y1="0" x2="0" y2="1"><stop offset="0.031" stop-color="#ec2b2b"/><stop offset="0.078" stop-color="#f1443e"/><stop offset="0.125" stop-color="#f65d51"/><stop offset="0.172" stop-color="#f97667"/><stop offset="0.220" stop-color="#fa8e7e"/><stop offset="0.267" stop-color="#fba394"/><stop offset="0.314" stop-color="#fcb7a9"/><stop offset="0.362" stop-color="#fdc9be"/><stop offset="0.409" stop-color="#fed8d0"/><stop offset="0.456" stop-color="#feeae6"/><stop offset="0.504" stop-color="#ffffff"/><stop offset="0.551" stop-color="#f4f0fe"/><stop offset="0.598" stop-color="#e6defd"/><stop offset="0.646" stop-color="#d6cbfa"/><stop offset="0.693" stop-color="#c7b9f9"/><stop offset="0.740" stop-color="#b8a7f7"/><stop offset="0.787" stop-color="#a896f5"/><stop offset="0.835" stop-color="#9582f4"/><stop offset="0.882" stop-color="#7262f5"/><stop offset="0.929" stop-color="#3e36f8"/><stop offset="0.977" stop-color="#0a0afa"/></linearGradient></defs>
<rect x="200.00" y="503.30" width="11.80" height="55.60" fill="url(#cb200)"/>
<line x1="209.60" y1="505.00" x2="211.80" y2="505.00" stroke="#fff" stroke-width="0.8"/>
<text x="214.00" y="508.30" font-size="9.5">1</text>
<line x1="209.60" y1="518.15" x2="211.80" y2="518.15" stroke="#fff" stroke-width="0.8"/>
<text x="214.00" y="521.50" font-size="9.5">0.5</text>
<line x1="209.60" y1="531.30" x2="211.80" y2="531.30" stroke="#fff" stroke-width="0.8"/>
<text x="214.00" y="534.40" font-size="9.5">0</text>
<line x1="209.60" y1="544.45" x2="211.80" y2="544.45" stroke="#fff" stroke-width="0.8"/>
<text x="214.00" y="547.30" font-size="9.5">-0.5</text>
<line x1="209.60" y1="557.60" x2="211.80" y2="557.60" stroke="#fff" stroke-width="0.8"/>
<text x="214.00" y="560.70" font-size="9.5">-1</text>
<text x="200.20" y="499.20" font-size="9.5" font-weight="bold">Z-score</text>
<path d="M19.4,314.7 V448.5 H23.3" fill="none" stroke="#000" stroke-width="0.9"/>
<path d="M19.4,314.7 H24.2" fill="none" stroke="#000" stroke-width="0.9"/>
<path d="M32.4,312.3 H24.2 V317.4 H28.2" fill="none" stroke="#000" stroke-width="0.9"/>
<path d="M23.3,411.4 V485.6 H32.4" fill="none" stroke="#000" stroke-width="0.9"/>
<path d="M23.3,411.4 H25.4" fill="none" stroke="#000" stroke-width="0.9"/>
<path d="M26.3,352 V367 M26.3,352 H28.5" fill="none" stroke="#333" stroke-width="0.8"/>
<path d="M25.4,367 V402 M25.4,367 H26.3" fill="none" stroke="#555" stroke-width="1.3"/>
<path d="M25.4,411.4 V432" fill="none" stroke="#333" stroke-width="0.8"/>
<path d="M25.8,432 V456" fill="none" stroke="#666" stroke-width="1.5"/>
<path d="M26.6,456 V476 M26.6,476 H29" fill="none" stroke="#444" stroke-width="0.8"/>
<path d="M25.4,402 H28" fill="none" stroke="#333" stroke-width="0.8"/>
<path d="M32.4,312.6 L29.56,313.00 L29.99,315.68 L29.85,318.77 L28.07,321.81 L30.36,323.94 L30.25,326.44 L29.17,327.87 L29.36,329.56 L28.03,331.91 L28.70,333.54 L29.91,336.58 L29.99,338.10 L29.54,339.57 L28.00,341.03 L28.52,343.97 L30.46,345.60 L28.72,348.54 L29.35,351.67 L28.51,354.22 L29.73,357.31 L30.23,360.44 L28.90,362.24 L28.36,363.77 L28.75,365.10 L28.01,367.50 L28.84,370.06 L30.05,371.88 L28.79,374.04 L29.76,376.20 L30.44,377.52 L29.87,378.76 L28.05,381.65 L28.92,384.43 L28.02,386.79 L28.45,388.08 L28.49,391.19 L30.32,393.90 L28.86,396.99 L29.31,398.90 L28.27,401.65 L29.99,404.34 L28.09,407.26 L28.23,410.35 L29.53,412.24 L28.85,415.27 L29.36,418.32 L28.79,420.14 L28.20,421.70 L29.72,423.20 L28.40,426.39 L30.47,427.69 L29.01,429.96 L29.48,431.63 L29.14,434.48 L28.14,436.53 L28.08,439.56 L30.10,441.75 L29.83,443.21 L29.58,446.31 L28.27,449.08 L28.37,451.15 L28.74,454.04 L30.50,456.15 L30.44,459.05 L29.22,461.16 L29.20,463.82 L29.01,465.60 L28.94,467.09 L30.40,470.27 L29.25,472.72 L28.22,474.60 L29.96,476.34 L28.90,479.28 L29.94,482.05 L29.66,484.64 L30.5,485.3 L32.4,485.3 Z" fill="#000"/>
<path d="M29.56,313.00 L28.11,317.87" fill="none" stroke="#333" stroke-width="0.7"/>
<path d="M28.07,321.81 L27.08,329.15" fill="none" stroke="#333" stroke-width="0.7"/>
<path d="M29.17,327.87 L28.36,333.38" fill="none" stroke="#333" stroke-width="0.7"/>
<path d="M28.70,333.54 L26.64,336.95" fill="none" stroke="#333" stroke-width="0.7"/>
<path d="M29.54,339.57 L27.97,345.66" fill="none" stroke="#333" stroke-width="0.7"/>
<path d="M30.46,345.60 L29.60,350.49" fill="none" stroke="#333" stroke-width="0.7"/>
<path d="M28.51,354.22 L26.73,359.48" fill="none" stroke="#333" stroke-width="0.7"/>
<path d="M28.90,362.24 L27.09,366.02" fill="none" stroke="#333" stroke-width="0.7"/>
<path d="M28.01,367.50 L26.88,371.06" fill="none" stroke="#333" stroke-width="0.7"/>
<path d="M28.79,374.04 L27.28,381.66" fill="none" stroke="#333" stroke-width="0.7"/>
<path d="M29.87,378.76 L28.25,385.63" fill="none" stroke="#333" stroke-width="0.7"/>
<path d="M28.02,386.79 L26.69,393.52" fill="none" stroke="#333" stroke-width="0.7"/>
<path d="M30.32,393.90 L29.38,398.36" fill="none" stroke="#333" stroke-width="0.7"/>
<path d="M28.27,401.65 L26.53,408.27" fill="none" stroke="#333" stroke-width="0.7"/>
<path d="M28.23,410.35 L26.84,413.79" fill="none" stroke="#333" stroke-width="0.7"/>
<path d="M29.36,418.32 L28.19,422.37" fill="none" stroke="#333" stroke-width="0.7"/>
<path d="M29.72,423.20 L28.53,430.25" fill="none" stroke="#333" stroke-width="0.7"/>
<path d="M29.01,429.96 L27.94,437.39" fill="none" stroke="#333" stroke-width="0.7"/>
<path d="M28.14,436.53 L26.11,439.80" fill="none" stroke="#333" stroke-width="0.7"/>
<path d="M29.83,443.21 L28.50,448.67" fill="none" stroke="#333" stroke-width="0.7"/>
<path d="M28.37,451.15 L27.54,456.27" fill="none" stroke="#333" stroke-width="0.7"/>
<path d="M30.44,459.05 L28.37,462.61" fill="none" stroke="#333" stroke-width="0.7"/>
<path d="M29.01,465.60 L27.37,469.21" fill="none" stroke="#333" stroke-width="0.7"/>
<path d="M29.25,472.72 L27.64,480.20" fill="none" stroke="#333" stroke-width="0.7"/>
<path d="M28.90,479.28 L27.82,482.32" fill="none" stroke="#333" stroke-width="0.7"/>
<g id="panel-f">
<path d="M42.30,633.80 V740.25 H148.90" stroke="#000" stroke-width="1.25" fill="none"/>
<line x1="41.40" y1="655.30" x2="42.30" y2="655.30" stroke="#000" stroke-width="1.0"/>
<text x="38.20" y="658.90" font-size="9.9" text-anchor="end" fill="#1a1a1a">750</text>
<line x1="41.40" y1="686.80" x2="42.30" y2="686.80" stroke="#000" stroke-width="1.0"/>
<text x="38.20" y="690.40" font-size="9.9" text-anchor="end" fill="#1a1a1a">500</text>
<line x1="41.40" y1="718.50" x2="42.30" y2="718.50" stroke="#000" stroke-width="1.0"/>
<text x="38.20" y="722.10" font-size="9.9" text-anchor="end" fill="#1a1a1a">250</text>
<line x1="57.50" y1="740.25" x2="57.50" y2="741.45" stroke="#000" stroke-width="1.0"/>
<line x1="82.50" y1="740.25" x2="82.50" y2="741.45" stroke="#000" stroke-width="1.0"/>
<line x1="107.50" y1="740.25" x2="107.50" y2="741.45" stroke="#000" stroke-width="1.0"/>
<line x1="132.50" y1="740.25" x2="132.50" y2="741.45" stroke="#000" stroke-width="1.0"/>
<text x="95.00" y="626.50" font-size="10.3" text-anchor="middle">Total</text>
<text x="82.30" y="637.90" font-size="9.5" text-anchor="middle">*</text>
<text x="132.40" y="637.70" font-size="9.5" text-anchor="middle">ns</text>
<text x="82.80" y="644.90" font-size="7.9" text-anchor="middle" fill="#1a1a1a">p=0.015</text>
<text x="133.20" y="644.90" font-size="7.9" text-anchor="middle" fill="#1a1a1a">p=0.330</text>
<path d="M55.40,638.40 H59.60 M57.50,638.40 V715.90 M55.40,715.90 H59.60" stroke="#F8766D" stroke-width="1.15" fill="none"/>
<path d="M80.40,665.30 H84.60 M82.50,665.30 V725.10 M80.40,725.10 H84.60" stroke="#7CAE00" stroke-width="1.15" fill="none"/>
<path d="M105.40,694.20 H109.60 M107.50,694.20 V724.70 M105.40,724.70 H109.60" stroke="#7CAE00" stroke-width="1.15" fill="none"/>
<path d="M130.40,699.40 H134.60 M132.50,699.40 V724.00 M130.40,724.00 H134.60" stroke="#7CAE00" stroke-width="1.15" fill="none"/>
<path d="M80.40,672.10 H84.60 M82.50,672.10 V724.70 M80.40,724.70 H84.60" stroke="#00BFC4" stroke-width="1.15" fill="none"/>
<path d="M105.40,692.60 H109.60 M107.50,692.60 V730.90 M105.40,730.90 H109.60" stroke="#00BFC4" stroke-width="1.15" fill="none"/>
<path d="M130.40,686.50 H134.60 M132.50,686.50 V722.30 M130.40,722.30 H134.60" stroke="#00BFC4" stroke-width="1.15" fill="none"/>
<path d="M80.40,689.10 H84.60 M82.50,689.10 V735.20 M80.40,735.20 H84.60" stroke="#C77CFF" stroke-width="1.15" fill="none"/>
<polyline points="82.50,695.00 107.50,709.80 132.50,711.90" stroke="#7CAE00" stroke-width="1.6" fill="none"/>
<polyline points="82.50,698.30 107.50,711.60 132.50,704.40" stroke="#00BFC4" stroke-width="1.6" fill="none"/>
<circle cx="57.50" cy="677.40" r="2.6" fill="#F8766D"/>
<circle cx="82.50" cy="695.00" r="2.6" fill="#7CAE00"/>
<circle cx="107.50" cy="709.80" r="2.6" fill="#7CAE00"/>
<circle cx="132.50" cy="711.90" r="2.6" fill="#7CAE00"/>
<circle cx="82.50" cy="698.30" r="2.6" fill="#00BFC4"/>
<circle cx="107.50" cy="711.60" r="2.6" fill="#00BFC4"/>
<circle cx="132.50" cy="704.40" r="2.6" fill="#00BFC4"/>
<circle cx="82.50" cy="712.20" r="2.6" fill="#C77CFF"/>
<path d="M179.10,635.10 V740.25 H284.10" stroke="#000" stroke-width="1.25" fill="none"/>
<line x1="178.20" y1="635.80" x2="179.10" y2="635.80" stroke="#000" stroke-width="1.0"/>
<text x="173.90" y="639.40" font-size="9.9" text-anchor="end" fill="#1a1a1a">600</text>
<line x1="178.20" y1="653.50" x2="179.10" y2="653.50" stroke="#000" stroke-width="1.0"/>
<text x="173.90" y="657.10" font-size="9.9" text-anchor="end" fill="#1a1a1a">500</text>
<line x1="178.20" y1="671.40" x2="179.10" y2="671.40" stroke="#000" stroke-width="1.0"/>
<text x="173.90" y="675.00" font-size="9.9" text-anchor="end" fill="#1a1a1a">400</text>
<line x1="178.20" y1="689.40" x2="179.10" y2="689.40" stroke="#000" stroke-width="1.0"/>
<text x="173.90" y="693.00" font-size="9.9" text-anchor="end" fill="#1a1a1a">300</text>
<line x1="178.20" y1="707.20" x2="179.10" y2="707.20" stroke="#000" stroke-width="1.0"/>
<text x="173.90" y="710.80" font-size="9.9" text-anchor="end" fill="#1a1a1a">200</text>
<line x1="178.20" y1="725.10" x2="179.10" y2="725.10" stroke="#000" stroke-width="1.0"/>
<text x="173.90" y="728.70" font-size="9.9" text-anchor="end" fill="#1a1a1a">100</text>
<line x1="194.20" y1="740.25" x2="194.20" y2="741.45" stroke="#000" stroke-width="1.0"/>
<line x1="219.40" y1="740.25" x2="219.40" y2="741.45" stroke="#000" stroke-width="1.0"/>
<line x1="244.40" y1="740.25" x2="244.40" y2="741.45" stroke="#000" stroke-width="1.0"/>
<line x1="269.40" y1="740.25" x2="269.40" y2="741.45" stroke="#000" stroke-width="1.0"/>
<text x="229.70" y="626.50" font-size="10.3" text-anchor="middle">TAG</text>
<text x="218.30" y="637.90" font-size="9.5" text-anchor="middle">*</text>
<text x="265.20" y="637.60" font-size="9.5" text-anchor="middle">ns</text>
<text x="218.30" y="644.80" font-size="7.9" text-anchor="middle" fill="#1a1a1a">p=0.049</text>
<text x="268.00" y="644.70" font-size="7.9" text-anchor="middle" fill="#1a1a1a">p=0.489</text>
<path d="M192.10,640.00 H196.30 M194.20,640.00 V734.40 M192.10,734.40 H196.30" stroke="#F8766D" stroke-width="1.15" fill="none"/>
<path d="M217.30,671.00 H221.50 M219.40,671.00 V735.20 M217.30,735.20 H221.50" stroke="#7CAE00" stroke-width="1.15" fill="none"/>
<path d="M242.30,705.50 H246.50 M244.40,705.50 V727.20 M242.30,727.20 H246.50" stroke="#7CAE00" stroke-width="1.15" fill="none"/>
<path d="M267.30,706.80 H271.50 M269.40,706.80 V728.00 M267.30,728.00 H271.50" stroke="#7CAE00" stroke-width="1.15" fill="none"/>
<path d="M217.30,673.70 H221.50 M219.40,673.70 V730.90 M217.30,730.90 H221.50" stroke="#00BFC4" stroke-width="1.15" fill="none"/>
<path d="M242.30,702.00 H246.50 M244.40,702.00 V732.30 M242.30,732.30 H246.50" stroke="#00BFC4" stroke-width="1.15" fill="none"/>
<path d="M267.30,693.90 H271.50 M269.40,693.90 V728.00 M267.30,728.00 H271.50" stroke="#00BFC4" stroke-width="1.15" fill="none"/>
<path d="M217.30,695.50 H221.50 M219.40,695.50 V734.10 M217.30,734.10 H221.50" stroke="#C77CFF" stroke-width="1.15" fill="none"/>
<polyline points="219.40,703.10 244.40,714.30 269.40,717.50" stroke="#7CAE00" stroke-width="1.6" fill="none"/>
<polyline points="219.40,702.60 244.40,716.70 269.40,711.10" stroke="#00BFC4" stroke-width="1.6" fill="none"/>
<circle cx="194.20" cy="687.00" r="2.6" fill="#F8766D"/>
<circle cx="219.40" cy="703.10" r="2.6" fill="#7CAE00"/>
<circle cx="244.40" cy="714.30" r="2.6" fill="#7CAE00"/>
<circle cx="269.40" cy="717.50" r="2.6" fill="#7CAE00"/>
<circle cx="219.40" cy="702.60" r="2.6" fill="#00BFC4"/>
<circle cx="244.40" cy="716.70" r="2.6" fill="#00BFC4"/>
<circle cx="269.40" cy="711.10" r="2.6" fill="#00BFC4"/>
<circle cx="219.40" cy="714.60" r="2.6" fill="#C77CFF"/>
<path d="M311.00,636.40 V740.10 H413.80" stroke="#000" stroke-width="1.25" fill="none"/>
<line x1="310.10" y1="638.00" x2="311.00" y2="638.00" stroke="#000" stroke-width="1.0"/>
<text x="308.90" y="641.60" font-size="9.9" text-anchor="end" fill="#1a1a1a">60</text>
<line x1="310.10" y1="657.60" x2="311.00" y2="657.60" stroke="#000" stroke-width="1.0"/>
<text x="308.90" y="661.20" font-size="9.9" text-anchor="end" fill="#1a1a1a">50</text>
<line x1="310.10" y1="677.20" x2="311.00" y2="677.20" stroke="#000" stroke-width="1.0"/>
<text x="308.90" y="680.80" font-size="9.9" text-anchor="end" fill="#1a1a1a">40</text>
<line x1="310.10" y1="696.90" x2="311.00" y2="696.90" stroke="#000" stroke-width="1.0"/>
<text x="308.90" y="700.50" font-size="9.9" text-anchor="end" fill="#1a1a1a">30</text>
<line x1="310.10" y1="716.50" x2="311.00" y2="716.50" stroke="#000" stroke-width="1.0"/>
<text x="308.90" y="720.10" font-size="9.9" text-anchor="end" fill="#1a1a1a">20</text>
<line x1="310.10" y1="736.20" x2="311.00" y2="736.20" stroke="#000" stroke-width="1.0"/>
<text x="308.90" y="739.80" font-size="9.9" text-anchor="end" fill="#1a1a1a">10</text>
<line x1="326.10" y1="740.10" x2="326.10" y2="741.30" stroke="#000" stroke-width="1.0"/>
<line x1="351.00" y1="740.10" x2="351.00" y2="741.30" stroke="#000" stroke-width="1.0"/>
<line x1="376.00" y1="740.10" x2="376.00" y2="741.30" stroke="#000" stroke-width="1.0"/>
<line x1="401.00" y1="740.10" x2="401.00" y2="741.30" stroke="#000" stroke-width="1.0"/>
<text x="360.40" y="626.50" font-size="10.3" text-anchor="middle">DAG</text>
<text x="348.60" y="637.90" font-size="9.5" text-anchor="middle">*</text>
<text x="401.70" y="637.70" font-size="9.5" text-anchor="middle">ns</text>
<text x="351.90" y="644.90" font-size="7.9" text-anchor="middle" fill="#1a1a1a">p=0.050</text>
<text x="400.70" y="644.90" font-size="7.9" text-anchor="middle" fill="#1a1a1a">p=0.407</text>
<path d="M324.00,647.30 H328.20 M326.10,647.30 V708.70 M324.00,708.70 H328.20" stroke="#F8766D" stroke-width="1.15" fill="none"/>
<path d="M348.90,645.30 H353.10 M351.00,645.30 V730.90 M348.90,730.90 H353.10" stroke="#7CAE00" stroke-width="1.15" fill="none"/>
<path d="M373.90,681.10 H378.10 M376.00,681.10 V723.90 M373.90,723.90 H378.10" stroke="#7CAE00" stroke-width="1.15" fill="none"/>
<path d="M398.90,683.30 H403.10 M401.00,683.30 V718.00 M398.90,718.00 H403.10" stroke="#7CAE00" stroke-width="1.15" fill="none"/>
<path d="M348.90,640.90 H353.10 M351.00,640.90 V729.60 M348.90,729.60 H353.10" stroke="#00BFC4" stroke-width="1.15" fill="none"/>
<path d="M373.90,677.10 H378.10 M376.00,677.10 V729.90 M373.90,729.90 H378.10" stroke="#00BFC4" stroke-width="1.15" fill="none"/>
<path d="M398.90,669.30 H403.10 M401.00,669.30 V722.70 M398.90,722.70 H403.10" stroke="#00BFC4" stroke-width="1.15" fill="none"/>
<path d="M348.90,677.40 H353.10 M351.00,677.40 V735.20 M348.90,735.20 H353.10" stroke="#C77CFF" stroke-width="1.15" fill="none"/>
<polyline points="351.00,688.10 376.00,702.30 401.00,700.70" stroke="#7CAE00" stroke-width="1.6" fill="none"/>
<polyline points="351.00,685.40 376.00,703.10 401.00,695.80" stroke="#00BFC4" stroke-width="1.6" fill="none"/>
<circle cx="326.10" cy="677.90" r="2.6" fill="#F8766D"/>
<circle cx="351.00" cy="688.10" r="2.6" fill="#7CAE00"/>
<circle cx="376.00" cy="702.30" r="2.6" fill="#7CAE00"/>
<circle cx="401.00" cy="700.70" r="2.6" fill="#7CAE00"/>
<circle cx="351.00" cy="685.40" r="2.6" fill="#00BFC4"/>
<circle cx="376.00" cy="703.10" r="2.6" fill="#00BFC4"/>
<circle cx="401.00" cy="695.80" r="2.6" fill="#00BFC4"/>
<circle cx="351.00" cy="706.30" r="2.6" fill="#C77CFF"/>
<path d="M439.00,634.10 V740.10 H545.80" stroke="#000" stroke-width="1.25" fill="none"/>
<line x1="438.10" y1="638.70" x2="439.00" y2="638.70" stroke="#000" stroke-width="1.0"/>
<text x="437.00" y="642.30" font-size="9.9" text-anchor="end" fill="#1a1a1a">80</text>
<line x1="438.10" y1="672.10" x2="439.00" y2="672.10" stroke="#000" stroke-width="1.0"/>
<text x="437.00" y="675.70" font-size="9.9" text-anchor="end" fill="#1a1a1a">60</text>
<line x1="438.10" y1="705.40" x2="439.00" y2="705.40" stroke="#000" stroke-width="1.0"/>
<text x="437.00" y="709.00" font-size="9.9" text-anchor="end" fill="#1a1a1a">40</text>
<line x1="454.30" y1="740.10" x2="454.30" y2="741.30" stroke="#000" stroke-width="1.0"/>
<line x1="479.30" y1="740.10" x2="479.30" y2="741.30" stroke="#000" stroke-width="1.0"/>
<line x1="504.30" y1="740.10" x2="504.30" y2="741.30" stroke="#000" stroke-width="1.0"/>
<line x1="529.30" y1="740.10" x2="529.30" y2="741.30" stroke="#000" stroke-width="1.0"/>
<text x="485.00" y="626.50" font-size="10.3" text-anchor="middle">PE</text>
<text x="479.40" y="637.90" font-size="9.5" text-anchor="middle">*</text>
<text x="529.40" y="637.70" font-size="9.5" text-anchor="middle">####</text>
<text x="478.70" y="644.90" font-size="7.9" text-anchor="middle" fill="#1a1a1a">p=0.011</text>
<text x="529.50" y="644.90" font-size="7.9" text-anchor="middle" fill="#1a1a1a">p&lt;0.0001</text>
<path d="M452.20,644.50 H456.40 M454.30,644.50 V689.10 M452.20,689.10 H456.40" stroke="#F8766D" stroke-width="1.15" fill="none"/>
<path d="M477.20,656.50 H481.40 M479.30,656.50 V723.10 M477.20,723.10 H481.40" stroke="#7CAE00" stroke-width="1.15" fill="none"/>
<path d="M502.20,663.40 H506.40 M504.30,663.40 V728.00 M502.20,728.00 H506.40" stroke="#7CAE00" stroke-width="1.15" fill="none"/>
<path d="M527.20,683.00 H531.40 M529.30,683.00 V721.20 M527.20,721.20 H531.40" stroke="#7CAE00" stroke-width="1.15" fill="none"/>
<path d="M477.20,664.00 H481.40 M479.30,664.00 V719.90 M477.20,719.90 H481.40" stroke="#00BFC4" stroke-width="1.15" fill="none"/>
<path d="M502.20,657.80 H506.40 M504.30,657.80 V722.30 M502.20,722.30 H506.40" stroke="#00BFC4" stroke-width="1.15" fill="none"/>
<path d="M527.20,638.00 H531.40 M529.30,638.00 V715.10 M527.20,715.10 H531.40" stroke="#00BFC4" stroke-width="1.15" fill="none"/>
<path d="M477.20,681.70 H481.40 M479.30,681.70 V735.20 M477.20,735.20 H481.40" stroke="#C77CFF" stroke-width="1.15" fill="none"/>
<polyline points="479.30,689.90 504.30,695.80 529.30,702.60" stroke="#7CAE00" stroke-width="1.6" fill="none"/>
<polyline points="479.30,691.50 504.30,690.20 529.30,676.90" stroke="#00BFC4" stroke-width="1.6" fill="none"/>
<circle cx="454.30" cy="666.90" r="2.6" fill="#F8766D"/>
<circle cx="479.30" cy="689.90" r="2.6" fill="#7CAE00"/>
<circle cx="504.30" cy="695.80" r="2.6" fill="#7CAE00"/>
<circle cx="529.30" cy="702.60" r="2.6" fill="#7CAE00"/>
<circle cx="479.30" cy="691.50" r="2.6" fill="#00BFC4"/>
<circle cx="504.30" cy="690.20" r="2.6" fill="#00BFC4"/>
<circle cx="529.30" cy="676.90" r="2.6" fill="#00BFC4"/>
<circle cx="479.30" cy="708.40" r="2.6" fill="#C77CFF"/>
<path d="M563.50,635.80 V740.10 H667.80" stroke="#000" stroke-width="1.25" fill="none"/>
<line x1="562.60" y1="646.70" x2="563.50" y2="646.70" stroke="#000" stroke-width="1.0"/>
<text x="561.40" y="650.30" font-size="9.9" text-anchor="end" fill="#1a1a1a">12.5</text>
<line x1="562.60" y1="670.40" x2="563.50" y2="670.40" stroke="#000" stroke-width="1.0"/>
<text x="561.40" y="674.00" font-size="9.9" text-anchor="end" fill="#1a1a1a">10.0</text>
<line x1="562.60" y1="694.10" x2="563.50" y2="694.10" stroke="#000" stroke-width="1.0"/>
<text x="561.40" y="697.70" font-size="9.9" text-anchor="end" fill="#1a1a1a">7.5</text>
<line x1="562.60" y1="717.60" x2="563.50" y2="717.60" stroke="#000" stroke-width="1.0"/>
<text x="561.40" y="721.20" font-size="9.9" text-anchor="end" fill="#1a1a1a">5.0</text>
<line x1="578.50" y1="740.10" x2="578.50" y2="741.30" stroke="#000" stroke-width="1.0"/>
<line x1="603.30" y1="740.10" x2="603.30" y2="741.30" stroke="#000" stroke-width="1.0"/>
<line x1="628.20" y1="740.10" x2="628.20" y2="741.30" stroke="#000" stroke-width="1.0"/>
<line x1="653.20" y1="740.10" x2="653.20" y2="741.30" stroke="#000" stroke-width="1.0"/>
<text x="610.80" y="626.50" font-size="10.3" text-anchor="middle">CER</text>
<text x="603.40" y="637.90" font-size="9.5" text-anchor="middle">**</text>
<text x="652.40" y="637.70" font-size="9.5" text-anchor="middle">#</text>
<text x="600.50" y="644.90" font-size="7.9" text-anchor="middle" fill="#1a1a1a">p=0.002</text>
<text x="654.10" y="644.90" font-size="7.9" text-anchor="middle" fill="#1a1a1a">p=0.017</text>
<path d="M576.40,671.30 H580.60 M578.50,671.30 V720.30 M576.40,720.30 H580.60" stroke="#F8766D" stroke-width="1.15" fill="none"/>
<path d="M601.20,687.00 H605.40 M603.30,687.00 V729.10 M601.20,729.10 H605.40" stroke="#7CAE00" stroke-width="1.15" fill="none"/>
<path d="M626.10,694.20 H630.30 M628.20,694.20 V726.40 M626.10,726.40 H630.30" stroke="#7CAE00" stroke-width="1.15" fill="none"/>
<path d="M651.10,659.70 H655.30 M653.20,659.70 V711.10 M651.10,711.10 H655.30" stroke="#7CAE00" stroke-width="1.15" fill="none"/>
<path d="M601.20,690.70 H605.40 M603.30,690.70 V722.80 M601.20,722.80 H605.40" stroke="#00BFC4" stroke-width="1.15" fill="none"/>
<path d="M626.10,687.30 H630.30 M628.20,687.30 V728.80 M626.10,728.80 H630.30" stroke="#00BFC4" stroke-width="1.15" fill="none"/>
<path d="M651.10,640.90 H655.30 M653.20,640.90 V702.70 M651.10,702.70 H655.30" stroke="#00BFC4" stroke-width="1.15" fill="none"/>
<path d="M601.20,699.40 H605.40 M603.30,699.40 V735.50 M601.20,735.50 H605.40" stroke="#C77CFF" stroke-width="1.15" fill="none"/>
<polyline points="603.30,708.20 628.20,710.30 653.20,685.70" stroke="#7CAE00" stroke-width="1.6" fill="none"/>
<polyline points="603.30,707.10 628.20,708.20 653.20,671.80" stroke="#00BFC4" stroke-width="1.6" fill="none"/>
<circle cx="578.50" cy="695.80" r="2.6" fill="#F8766D"/>
<circle cx="603.30" cy="708.20" r="2.6" fill="#7CAE00"/>
<circle cx="628.20" cy="710.30" r="2.6" fill="#7CAE00"/>
<circle cx="653.20" cy="685.70" r="2.6" fill="#7CAE00"/>
<circle cx="603.30" cy="707.10" r="2.6" fill="#00BFC4"/>
<circle cx="628.20" cy="708.20" r="2.6" fill="#00BFC4"/>
<circle cx="653.20" cy="671.80" r="2.6" fill="#00BFC4"/>
<circle cx="603.30" cy="717.20" r="2.6" fill="#C77CFF"/>
<path d="M43.70,752.20 V857.60 H148.80" stroke="#000" stroke-width="1.25" fill="none"/>
<line x1="42.80" y1="753.10" x2="43.70" y2="753.10" stroke="#000" stroke-width="1.0"/>
<text x="38.60" y="756.70" font-size="9.9" text-anchor="end" fill="#1a1a1a">1000</text>
<line x1="42.80" y1="777.70" x2="43.70" y2="777.70" stroke="#000" stroke-width="1.0"/>
<text x="38.60" y="781.30" font-size="9.9" text-anchor="end" fill="#1a1a1a">800</text>
<line x1="42.80" y1="802.50" x2="43.70" y2="802.50" stroke="#000" stroke-width="1.0"/>
<text x="38.60" y="806.10" font-size="9.9" text-anchor="end" fill="#1a1a1a">600</text>
<line x1="42.80" y1="827.20" x2="43.70" y2="827.20" stroke="#000" stroke-width="1.0"/>
<text x="38.60" y="830.80" font-size="9.9" text-anchor="end" fill="#1a1a1a">400</text>
<line x1="42.80" y1="851.80" x2="43.70" y2="851.80" stroke="#000" stroke-width="1.0"/>
<text x="38.60" y="855.40" font-size="9.9" text-anchor="end" fill="#1a1a1a">200</text>
<line x1="58.80" y1="857.60" x2="58.80" y2="858.80" stroke="#000" stroke-width="1.0"/>
<line x1="84.00" y1="857.60" x2="84.00" y2="858.80" stroke="#000" stroke-width="1.0"/>
<line x1="108.90" y1="857.60" x2="108.90" y2="858.80" stroke="#000" stroke-width="1.0"/>
<line x1="133.80" y1="857.60" x2="133.80" y2="858.80" stroke="#000" stroke-width="1.0"/>
<text x="82.20" y="753.80" font-size="9.5" text-anchor="middle">**</text>
<text x="134.00" y="753.60" font-size="9.5" text-anchor="middle">###</text>
<text x="82.80" y="760.90" font-size="7.9" text-anchor="middle" fill="#1a1a1a">p=0.003</text>
<text x="133.00" y="760.90" font-size="7.9" text-anchor="middle" fill="#1a1a1a">p=0.0002</text>
<path d="M56.70,756.80 H60.90 M58.80,756.80 V815.40 M56.70,815.40 H60.90" stroke="#F8766D" stroke-width="1.15" fill="none"/>
<path d="M81.90,767.80 H86.10 M84.00,767.80 V844.00 M81.90,844.00 H86.10" stroke="#7CAE00" stroke-width="1.15" fill="none"/>
<path d="M106.80,806.30 H111.00 M108.90,806.30 V840.70 M106.80,840.70 H111.00" stroke="#7CAE00" stroke-width="1.15" fill="none"/>
<path d="M131.70,803.40 H135.90 M133.80,803.40 V839.50 M131.70,839.50 H135.90" stroke="#7CAE00" stroke-width="1.15" fill="none"/>
<path d="M81.90,782.20 H86.10 M84.00,782.20 V833.90 M81.90,833.90 H86.10" stroke="#00BFC4" stroke-width="1.15" fill="none"/>
<path d="M106.80,795.70 H111.00 M108.90,795.70 V849.20 M106.80,849.20 H111.00" stroke="#00BFC4" stroke-width="1.15" fill="none"/>
<path d="M131.70,773.20 H135.90 M133.80,773.20 V829.90 M131.70,829.90 H135.90" stroke="#00BFC4" stroke-width="1.15" fill="none"/>
<path d="M81.90,802.30 H86.10 M84.00,802.30 V852.40 M81.90,852.40 H86.10" stroke="#C77CFF" stroke-width="1.15" fill="none"/>
<polyline points="84.00,805.50 108.90,823.50 133.80,821.10" stroke="#7CAE00" stroke-width="1.6" fill="none"/>
<polyline points="84.00,807.90 108.90,822.20 133.80,801.50" stroke="#00BFC4" stroke-width="1.6" fill="none"/>
<circle cx="58.80" cy="786.20" r="2.6" fill="#F8766D"/>
<circle cx="84.00" cy="805.50" r="2.6" fill="#7CAE00"/>
<circle cx="108.90" cy="823.50" r="2.6" fill="#7CAE00"/>
<circle cx="133.80" cy="821.10" r="2.6" fill="#7CAE00"/>
<circle cx="84.00" cy="807.90" r="2.6" fill="#00BFC4"/>
<circle cx="108.90" cy="822.20" r="2.6" fill="#00BFC4"/>
<circle cx="133.80" cy="801.50" r="2.6" fill="#00BFC4"/>
<circle cx="84.00" cy="827.00" r="2.6" fill="#C77CFF"/>
<path d="M180.10,751.60 V858.20 H286.90" stroke="#000" stroke-width="1.25" fill="none"/>
<line x1="179.20" y1="760.20" x2="180.10" y2="760.20" stroke="#000" stroke-width="1.0"/>
<text x="175.60" y="763.80" font-size="9.9" text-anchor="end" fill="#1a1a1a">800</text>
<line x1="179.20" y1="786.20" x2="180.10" y2="786.20" stroke="#000" stroke-width="1.0"/>
<text x="175.60" y="789.80" font-size="9.9" text-anchor="end" fill="#1a1a1a">600</text>
<line x1="179.20" y1="812.50" x2="180.10" y2="812.50" stroke="#000" stroke-width="1.0"/>
<text x="175.60" y="816.10" font-size="9.9" text-anchor="end" fill="#1a1a1a">400</text>
<line x1="179.20" y1="838.60" x2="180.10" y2="838.60" stroke="#000" stroke-width="1.0"/>
<text x="175.60" y="842.20" font-size="9.9" text-anchor="end" fill="#1a1a1a">200</text>
<line x1="195.40" y1="858.20" x2="195.40" y2="859.40" stroke="#000" stroke-width="1.0"/>
<line x1="220.40" y1="858.20" x2="220.40" y2="859.40" stroke="#000" stroke-width="1.0"/>
<line x1="245.40" y1="858.20" x2="245.40" y2="859.40" stroke="#000" stroke-width="1.0"/>
<line x1="270.40" y1="858.20" x2="270.40" y2="859.40" stroke="#000" stroke-width="1.0"/>
<text x="219.40" y="753.80" font-size="9.5" text-anchor="middle">**</text>
<text x="268.30" y="753.60" font-size="9.5" text-anchor="middle">###</text>
<text x="218.30" y="760.90" font-size="7.9" text-anchor="middle" fill="#1a1a1a">p=0.003</text>
<text x="268.30" y="760.90" font-size="7.9" text-anchor="middle" fill="#1a1a1a">p=0.0001</text>
<path d="M193.30,756.40 H197.50 M195.40,756.40 V841.50 M193.30,841.50 H197.50" stroke="#F8766D" stroke-width="1.15" fill="none"/>
<path d="M218.30,795.70 H222.50 M220.40,795.70 V844.00 M218.30,844.00 H222.50" stroke="#7CAE00" stroke-width="1.15" fill="none"/>
<path d="M243.30,816.60 H247.50 M245.40,816.60 V842.00 M243.30,842.00 H247.50" stroke="#7CAE00" stroke-width="1.15" fill="none"/>
<path d="M268.30,809.80 H272.50 M270.40,809.80 V842.00 M268.30,842.00 H272.50" stroke="#7CAE00" stroke-width="1.15" fill="none"/>
<path d="M218.30,802.10 H222.50 M220.40,802.10 V844.80 M218.30,844.80 H222.50" stroke="#00BFC4" stroke-width="1.15" fill="none"/>
<path d="M243.30,805.30 H247.50 M245.40,805.30 V849.50 M243.30,849.50 H247.50" stroke="#00BFC4" stroke-width="1.15" fill="none"/>
<path d="M268.30,776.10 H272.50 M270.40,776.10 V836.30 M268.30,836.30 H272.50" stroke="#00BFC4" stroke-width="1.15" fill="none"/>
<path d="M218.30,817.40 H222.50 M220.40,817.40 V853.20 M218.30,853.20 H222.50" stroke="#C77CFF" stroke-width="1.15" fill="none"/>
<polyline points="220.40,819.50 245.40,829.10 270.40,826.20" stroke="#7CAE00" stroke-width="1.6" fill="none"/>
<polyline points="220.40,823.50 245.40,827.80 270.40,806.10" stroke="#00BFC4" stroke-width="1.6" fill="none"/>
<circle cx="195.40" cy="799.10" r="2.6" fill="#F8766D"/>
<circle cx="220.40" cy="819.50" r="2.6" fill="#7CAE00"/>
<circle cx="245.40" cy="829.10" r="2.6" fill="#7CAE00"/>
<circle cx="270.40" cy="826.20" r="2.6" fill="#7CAE00"/>
<circle cx="220.40" cy="823.50" r="2.6" fill="#00BFC4"/>
<circle cx="245.40" cy="827.80" r="2.6" fill="#00BFC4"/>
<circle cx="270.40" cy="806.10" r="2.6" fill="#00BFC4"/>
<circle cx="220.40" cy="835.50" r="2.6" fill="#C77CFF"/>
<path d="M311.50,751.20 V858.20 H414.50" stroke="#000" stroke-width="1.25" fill="none"/>
<line x1="310.60" y1="757.00" x2="311.50" y2="757.00" stroke="#000" stroke-width="1.0"/>
<text x="307.60" y="760.60" font-size="9.9" text-anchor="end" fill="#1a1a1a">125</text>
<line x1="310.60" y1="780.70" x2="311.50" y2="780.70" stroke="#000" stroke-width="1.0"/>
<text x="307.60" y="784.30" font-size="9.9" text-anchor="end" fill="#1a1a1a">100</text>
<line x1="310.60" y1="804.40" x2="311.50" y2="804.40" stroke="#000" stroke-width="1.0"/>
<text x="307.60" y="808.00" font-size="9.9" text-anchor="end" fill="#1a1a1a">75</text>
<line x1="310.60" y1="828.10" x2="311.50" y2="828.10" stroke="#000" stroke-width="1.0"/>
<text x="307.60" y="831.70" font-size="9.9" text-anchor="end" fill="#1a1a1a">50</text>
<line x1="310.60" y1="851.80" x2="311.50" y2="851.80" stroke="#000" stroke-width="1.0"/>
<text x="307.60" y="855.40" font-size="9.9" text-anchor="end" fill="#1a1a1a">25</text>
<line x1="326.40" y1="858.20" x2="326.40" y2="859.40" stroke="#000" stroke-width="1.0"/>
<line x1="351.90" y1="858.20" x2="351.90" y2="859.40" stroke="#000" stroke-width="1.0"/>
<line x1="377.00" y1="858.20" x2="377.00" y2="859.40" stroke="#000" stroke-width="1.0"/>
<line x1="402.00" y1="858.20" x2="402.00" y2="859.40" stroke="#000" stroke-width="1.0"/>
<text x="348.60" y="753.80" font-size="9.5" text-anchor="middle">*</text>
<text x="402.00" y="753.60" font-size="9.5" text-anchor="middle">#</text>
<text x="351.90" y="760.90" font-size="7.9" text-anchor="middle" fill="#1a1a1a">p=0.013</text>
<text x="400.70" y="760.90" font-size="7.9" text-anchor="middle" fill="#1a1a1a">p=0.029</text>
<path d="M324.30,756.00 H328.50 M326.40,756.00 V837.90 M324.30,837.90 H328.50" stroke="#F8766D" stroke-width="1.15" fill="none"/>
<path d="M349.80,786.20 H354.00 M351.90,786.20 V846.30 M349.80,846.30 H354.00" stroke="#7CAE00" stroke-width="1.15" fill="none"/>
<path d="M374.90,788.10 H379.10 M377.00,788.10 V842.70 M374.90,842.70 H379.10" stroke="#7CAE00" stroke-width="1.15" fill="none"/>
<path d="M399.90,790.20 H404.10 M402.00,790.20 V832.80 M399.90,832.80 H404.10" stroke="#7CAE00" stroke-width="1.15" fill="none"/>
<path d="M349.80,776.60 H354.00 M351.90,776.60 V849.20 M349.80,849.20 H354.00" stroke="#00BFC4" stroke-width="1.15" fill="none"/>
<path d="M374.90,770.50 H379.10 M377.00,770.50 V847.60 M374.90,847.60 H379.10" stroke="#00BFC4" stroke-width="1.15" fill="none"/>
<path d="M399.90,762.90 H404.10 M402.00,762.90 V832.30 M399.90,832.30 H404.10" stroke="#00BFC4" stroke-width="1.15" fill="none"/>
<path d="M349.80,804.20 H354.00 M351.90,804.20 V853.20 M349.80,853.20 H354.00" stroke="#C77CFF" stroke-width="1.15" fill="none"/>
<polyline points="351.90,816.60 377.00,815.80 402.00,811.80" stroke="#7CAE00" stroke-width="1.6" fill="none"/>
<polyline points="351.90,812.70 377.00,809.00 402.00,797.80" stroke="#00BFC4" stroke-width="1.6" fill="none"/>
<circle cx="326.40" cy="797.00" r="2.6" fill="#F8766D"/>
<circle cx="351.90" cy="816.60" r="2.6" fill="#7CAE00"/>
<circle cx="377.00" cy="815.80" r="2.6" fill="#7CAE00"/>
<circle cx="402.00" cy="811.80" r="2.6" fill="#7CAE00"/>
<circle cx="351.90" cy="812.70" r="2.6" fill="#00BFC4"/>
<circle cx="377.00" cy="809.00" r="2.6" fill="#00BFC4"/>
<circle cx="402.00" cy="797.80" r="2.6" fill="#00BFC4"/>
<circle cx="351.90" cy="828.80" r="2.6" fill="#C77CFF"/>
<path d="M439.20,751.60 V858.20 H546.00" stroke="#000" stroke-width="1.25" fill="none"/>
<line x1="438.30" y1="756.70" x2="439.20" y2="756.70" stroke="#000" stroke-width="1.0"/>
<text x="437.30" y="760.30" font-size="9.9" text-anchor="end" fill="#1a1a1a">125</text>
<line x1="438.30" y1="783.60" x2="439.20" y2="783.60" stroke="#000" stroke-width="1.0"/>
<text x="437.30" y="787.20" font-size="9.9" text-anchor="end" fill="#1a1a1a">100</text>
<line x1="438.30" y1="810.40" x2="439.20" y2="810.40" stroke="#000" stroke-width="1.0"/>
<text x="437.30" y="814.00" font-size="9.9" text-anchor="end" fill="#1a1a1a">75</text>
<line x1="438.30" y1="837.40" x2="439.20" y2="837.40" stroke="#000" stroke-width="1.0"/>
<text x="437.30" y="841.00" font-size="9.9" text-anchor="end" fill="#1a1a1a">50</text>
<line x1="454.30" y1="858.20" x2="454.30" y2="859.40" stroke="#000" stroke-width="1.0"/>
<line x1="479.70" y1="858.20" x2="479.70" y2="859.40" stroke="#000" stroke-width="1.0"/>
<line x1="504.70" y1="858.20" x2="504.70" y2="859.40" stroke="#000" stroke-width="1.0"/>
<line x1="529.70" y1="858.20" x2="529.70" y2="859.40" stroke="#000" stroke-width="1.0"/>
<text x="479.40" y="753.80" font-size="9.5" text-anchor="middle">*</text>
<text x="529.40" y="753.60" font-size="9.5" text-anchor="middle">####</text>
<text x="478.70" y="760.90" font-size="7.9" text-anchor="middle" fill="#1a1a1a">p=0.016</text>
<text x="529.50" y="760.90" font-size="7.9" text-anchor="middle" fill="#1a1a1a">p&lt;0.0001</text>
<path d="M452.20,756.40 H456.40 M454.30,756.40 V803.40 M452.20,803.40 H456.40" stroke="#F8766D" stroke-width="1.15" fill="none"/>
<path d="M477.60,759.20 H481.80 M479.70,759.20 V842.40 M477.60,842.40 H481.80" stroke="#7CAE00" stroke-width="1.15" fill="none"/>
<path d="M502.60,793.30 H506.80 M504.70,793.30 V846.00 M502.60,846.00 H506.80" stroke="#7CAE00" stroke-width="1.15" fill="none"/>
<path d="M527.60,802.30 H531.80 M529.70,802.30 V840.80 M527.60,840.80 H531.80" stroke="#7CAE00" stroke-width="1.15" fill="none"/>
<path d="M477.60,776.10 H481.80 M479.70,776.10 V840.80 M477.60,840.80 H481.80" stroke="#00BFC4" stroke-width="1.15" fill="none"/>
<path d="M502.60,782.00 H506.80 M504.70,782.00 V842.70 M502.60,842.70 H506.80" stroke="#00BFC4" stroke-width="1.15" fill="none"/>
<path d="M527.60,764.10 H531.80 M529.70,764.10 V826.40 M527.60,826.40 H531.80" stroke="#00BFC4" stroke-width="1.15" fill="none"/>
<path d="M477.60,793.80 H481.80 M479.70,793.80 V853.20 M477.60,853.20 H481.80" stroke="#C77CFF" stroke-width="1.15" fill="none"/>
<polyline points="479.70,801.00 504.70,819.90 529.70,821.60" stroke="#7CAE00" stroke-width="1.6" fill="none"/>
<polyline points="479.70,808.50 504.70,812.20 529.70,795.00" stroke="#00BFC4" stroke-width="1.6" fill="none"/>
<circle cx="454.30" cy="779.80" r="2.6" fill="#F8766D"/>
<circle cx="479.70" cy="801.00" r="2.6" fill="#7CAE00"/>
<circle cx="504.70" cy="819.90" r="2.6" fill="#7CAE00"/>
<circle cx="529.70" cy="821.60" r="2.6" fill="#7CAE00"/>
<circle cx="479.70" cy="808.50" r="2.6" fill="#00BFC4"/>
<circle cx="504.70" cy="812.20" r="2.6" fill="#00BFC4"/>
<circle cx="529.70" cy="795.00" r="2.6" fill="#00BFC4"/>
<circle cx="479.70" cy="823.50" r="2.6" fill="#C77CFF"/>
<path d="M564.70,751.60 V858.20 H669.00" stroke="#000" stroke-width="1.25" fill="none"/>
<line x1="563.80" y1="757.60" x2="564.70" y2="757.60" stroke="#000" stroke-width="1.0"/>
<text x="562.60" y="761.20" font-size="9.9" text-anchor="end" fill="#1a1a1a">8</text>
<line x1="563.80" y1="786.50" x2="564.70" y2="786.50" stroke="#000" stroke-width="1.0"/>
<text x="562.60" y="790.10" font-size="9.9" text-anchor="end" fill="#1a1a1a">6</text>
<line x1="563.80" y1="815.30" x2="564.70" y2="815.30" stroke="#000" stroke-width="1.0"/>
<text x="562.60" y="818.90" font-size="9.9" text-anchor="end" fill="#1a1a1a">4</text>
<line x1="563.80" y1="844.20" x2="564.70" y2="844.20" stroke="#000" stroke-width="1.0"/>
<text x="562.60" y="847.80" font-size="9.9" text-anchor="end" fill="#1a1a1a">2</text>
<line x1="579.60" y1="858.20" x2="579.60" y2="859.40" stroke="#000" stroke-width="1.0"/>
<line x1="605.00" y1="858.20" x2="605.00" y2="859.40" stroke="#000" stroke-width="1.0"/>
<line x1="629.90" y1="858.20" x2="629.90" y2="859.40" stroke="#000" stroke-width="1.0"/>
<line x1="654.90" y1="858.20" x2="654.90" y2="859.40" stroke="#000" stroke-width="1.0"/>
<text x="603.40" y="753.80" font-size="9.5" text-anchor="middle">**</text>
<text x="654.00" y="753.60" font-size="9.5" text-anchor="middle">##</text>
<text x="600.50" y="760.90" font-size="7.9" text-anchor="middle" fill="#1a1a1a">p=0.004</text>
<text x="654.10" y="760.90" font-size="7.9" text-anchor="middle" fill="#1a1a1a">p=0.006</text>
<path d="M577.50,811.00 H581.70 M579.60,811.00 V841.60 M577.50,841.60 H581.70" stroke="#F8766D" stroke-width="1.15" fill="none"/>
<path d="M602.90,810.60 H607.10 M605.00,810.60 V844.00 M602.90,844.00 H607.10" stroke="#7CAE00" stroke-width="1.15" fill="none"/>
<path d="M627.80,811.40 H632.00 M629.90,811.40 V842.40 M627.80,842.40 H632.00" stroke="#7CAE00" stroke-width="1.15" fill="none"/>
<path d="M652.80,768.90 H657.00 M654.90,768.90 V826.70 M652.80,826.70 H657.00" stroke="#7CAE00" stroke-width="1.15" fill="none"/>
<path d="M602.90,821.60 H607.10 M605.00,821.60 V844.40 M602.90,844.40 H607.10" stroke="#00BFC4" stroke-width="1.15" fill="none"/>
<path d="M627.80,808.50 H632.00 M629.90,808.50 V845.20 M627.80,845.20 H632.00" stroke="#00BFC4" stroke-width="1.15" fill="none"/>
<path d="M652.80,756.00 H657.00 M654.90,756.00 V810.60 M652.80,810.60 H657.00" stroke="#00BFC4" stroke-width="1.15" fill="none"/>
<path d="M602.90,835.00 H607.10 M605.00,835.00 V853.20 M602.90,853.20 H607.10" stroke="#C77CFF" stroke-width="1.15" fill="none"/>
<polyline points="605.00,827.50 629.90,826.70 654.90,798.10" stroke="#7CAE00" stroke-width="1.6" fill="none"/>
<polyline points="605.00,832.30 629.90,826.70 654.90,783.70" stroke="#00BFC4" stroke-width="1.6" fill="none"/>
<circle cx="579.60" cy="826.40" r="2.6" fill="#F8766D"/>
<circle cx="605.00" cy="827.50" r="2.6" fill="#7CAE00"/>
<circle cx="629.90" cy="826.70" r="2.6" fill="#7CAE00"/>
<circle cx="654.90" cy="798.10" r="2.6" fill="#7CAE00"/>
<circle cx="605.00" cy="832.30" r="2.6" fill="#00BFC4"/>
<circle cx="629.90" cy="826.70" r="2.6" fill="#00BFC4"/>
<circle cx="654.90" cy="783.70" r="2.6" fill="#00BFC4"/>
<circle cx="605.00" cy="839.50" r="2.6" fill="#C77CFF"/>
<text x="54.30" y="871.20" font-size="9.5" fill="#1a1a1a">HC</text>
<text x="80.70" y="871.20" font-size="9.5" fill="#1a1a1a">0h</text>
<text x="104.80" y="871.20" font-size="9.5" fill="#1a1a1a">24h</text>
<text x="130.40" y="871.20" font-size="9.5" fill="#1a1a1a">72h</text>
<text x="190.90" y="871.20" font-size="9.5" fill="#1a1a1a">HC</text>
<text x="217.10" y="871.20" font-size="9.5" fill="#1a1a1a">0h</text>
<text x="241.30" y="871.20" font-size="9.5" fill="#1a1a1a">24h</text>
<text x="267.00" y="871.20" font-size="9.5" fill="#1a1a1a">72h</text>
<text x="321.90" y="871.20" font-size="9.5" fill="#1a1a1a">HC</text>
<text x="348.60" y="871.20" font-size="9.5" fill="#1a1a1a">0h</text>
<text x="372.90" y="871.20" font-size="9.5" fill="#1a1a1a">24h</text>
<text x="398.60" y="871.20" font-size="9.5" fill="#1a1a1a">72h</text>
<text x="449.80" y="871.20" font-size="9.5" fill="#1a1a1a">HC</text>
<text x="476.40" y="871.20" font-size="9.5" fill="#1a1a1a">0h</text>
<text x="500.60" y="871.20" font-size="9.5" fill="#1a1a1a">24h</text>
<text x="526.30" y="871.20" font-size="9.5" fill="#1a1a1a">72h</text>
<text x="575.10" y="871.20" font-size="9.5" fill="#1a1a1a">HC</text>
<text x="601.70" y="871.20" font-size="9.5" fill="#1a1a1a">0h</text>
<text x="625.80" y="871.20" font-size="9.5" fill="#1a1a1a">24h</text>
<text x="651.50" y="871.20" font-size="9.5" fill="#1a1a1a">72h</text>
<text x="14.30" y="691.60" font-size="9.7" text-anchor="middle" transform="rotate(-90 14.30 691.60)">SFA (nM/mL)</text>
<text x="14.30" y="805.50" font-size="9.7" text-anchor="middle" transform="rotate(-90 14.30 805.50)">USFA (nM/mL)</text>
<line x1="137.80" y1="892.30" x2="151.80" y2="892.30" stroke="#F8766D" stroke-width="2.3"/>
<circle cx="144.80" cy="892.30" r="5.0" fill="#F8766D"/>
<text x="153.90" y="895.50" font-size="9.95">Healthy Control</text>
<line x1="230.20" y1="892.30" x2="244.20" y2="892.30" stroke="#7CAE00" stroke-width="2.3"/>
<circle cx="237.20" cy="892.30" r="5.0" fill="#7CAE00"/>
<text x="253.00" y="895.50" font-size="9.95">Resolving</text>
<line x1="322.70" y1="892.30" x2="336.70" y2="892.30" stroke="#00BFC4" stroke-width="2.3"/>
<circle cx="329.70" cy="892.30" r="5.0" fill="#00BFC4"/>
<text x="342.20" y="895.50" font-size="9.95">Non-Resolving</text>
<line x1="415.60" y1="892.30" x2="429.60" y2="892.30" stroke="#C77CFF" stroke-width="2.3"/>
<circle cx="422.60" cy="892.30" r="5.0" fill="#C77CFF"/>
<text x="437.40" y="895.50" font-size="9.95">Early-Nonsurvivor</text>
</g>
</svg>
</body></html>
